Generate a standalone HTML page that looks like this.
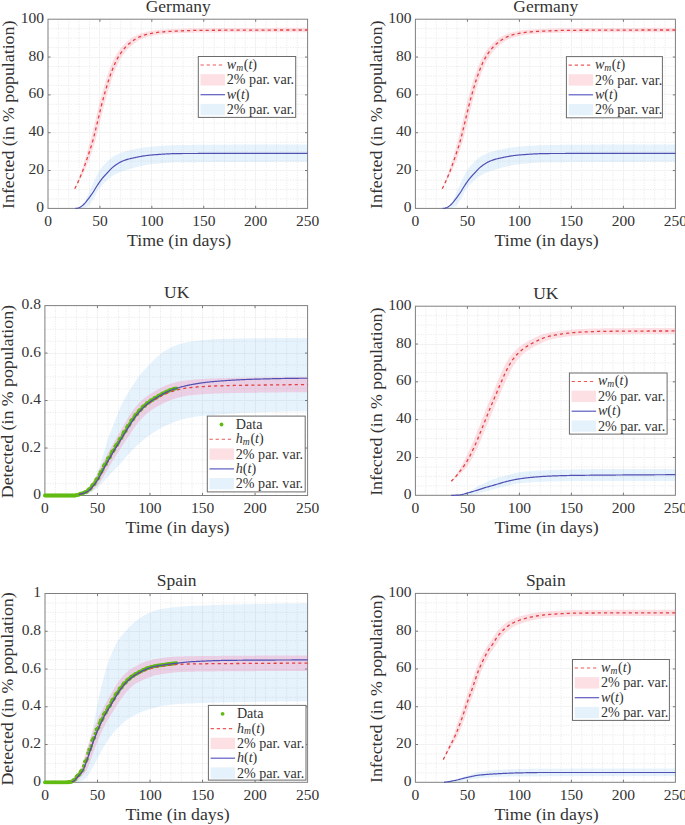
<!DOCTYPE html>
<html><head><meta charset="utf-8"><style>
html,body{margin:0;padding:0;background:#fff;overflow:hidden;width:685px;height:825px;}
svg{display:block;}
text{font-family:"Liberation Serif", serif;fill:#333333;}
</style></head><body>
<svg width="685" height="825" viewBox="0 0 685 825">
<rect width="685" height="825" fill="#fff"/>
<path d="M58.38,19.20 V208.40 M68.77,19.20 V208.40 M79.15,19.20 V208.40 M89.54,19.20 V208.40 M110.30,19.20 V208.40 M120.69,19.20 V208.40 M131.07,19.20 V208.40 M141.46,19.20 V208.40 M162.22,19.20 V208.40 M172.61,19.20 V208.40 M182.99,19.20 V208.40 M193.38,19.20 V208.40 M214.14,19.20 V208.40 M224.53,19.20 V208.40 M234.91,19.20 V208.40 M245.30,19.20 V208.40 M266.06,19.20 V208.40 M276.45,19.20 V208.40 M286.83,19.20 V208.40 M297.22,19.20 V208.40 M48.00,198.94 H307.60 M48.00,189.48 H307.60 M48.00,180.02 H307.60 M48.00,161.10 H307.60 M48.00,151.64 H307.60 M48.00,142.18 H307.60 M48.00,123.26 H307.60 M48.00,113.80 H307.60 M48.00,104.34 H307.60 M48.00,85.42 H307.60 M48.00,75.96 H307.60 M48.00,66.50 H307.60 M48.00,47.58 H307.60 M48.00,38.12 H307.60 M48.00,28.66 H307.60" stroke="#e9e9e9" stroke-width="0.9" stroke-dasharray="1.2,1.35" fill="none"/>
<path d="M99.50,19.20 V208.40 M151.50,19.20 V208.40 M203.50,19.20 V208.40 M255.50,19.20 V208.40 M48.00,170.50 H307.60 M48.00,132.50 H307.60 M48.00,94.50 H307.60 M48.00,57.50 H307.60" stroke="#f2f2f2" stroke-width="1" fill="none"/>
<path d="M99.92,208.40 v-2.6 M99.92,19.20 v2.6 M151.84,208.40 v-2.6 M151.84,19.20 v2.6 M203.76,208.40 v-2.6 M203.76,19.20 v2.6 M255.68,208.40 v-2.6 M255.68,19.20 v2.6 M48.00,170.56 h2.6 M307.60,170.56 h-2.6 M48.00,132.72 h2.6 M307.60,132.72 h-2.6 M48.00,94.88 h2.6 M307.60,94.88 h-2.6 M48.00,57.04 h2.6 M307.60,57.04 h-2.6" stroke="#777" stroke-width="1" fill="none"/>
<rect x="48.00" y="19.20" width="259.60" height="189.20" fill="none" stroke="#808080" stroke-width="1"/>
<path d="M76.04,208.40 L76.93,208.34 L77.82,208.17 L78.72,207.91 L79.61,207.57 L80.51,207.17 L81.40,206.72 L82.30,205.99 L83.19,204.78 L84.08,203.21 L84.98,201.40 L85.87,199.47 L86.77,197.53 L87.66,195.70 L88.55,193.80 L89.45,191.76 L90.34,189.64 L91.24,187.50 L92.13,185.38 L93.02,183.33 L93.92,181.39 L94.81,179.46 L95.71,177.54 L96.60,175.67 L97.49,173.91 L98.39,172.31 L99.28,170.89 L100.18,169.58 L101.07,168.35 L101.96,167.20 L102.86,166.12 L103.75,165.09 L104.65,164.13 L105.54,163.20 L106.44,162.29 L107.33,161.41 L108.22,160.55 L109.12,159.73 L110.01,158.95 L110.91,158.21 L111.80,157.52 L112.69,156.89 L113.59,156.33 L114.48,155.82 L115.38,155.35 L116.27,154.91 L117.16,154.49 L118.06,154.11 L118.95,153.74 L119.85,153.39 L120.74,153.05 L121.63,152.73 L122.53,152.41 L123.42,152.09 L124.32,151.78 L125.21,151.48 L126.10,151.20 L127.00,150.92 L127.89,150.66 L128.79,150.43 L129.68,150.21 L130.57,150.01 L131.47,149.81 L132.36,149.62 L133.26,149.44 L134.15,149.25 L135.05,149.08 L135.94,148.90 L136.83,148.73 L137.73,148.57 L138.62,148.41 L139.52,148.25 L140.41,148.10 L141.30,147.95 L142.20,147.81 L143.09,147.68 L143.99,147.55 L144.88,147.42 L145.77,147.31 L146.67,147.19 L147.56,147.09 L148.46,146.98 L149.35,146.89 L150.24,146.80 L151.14,146.72 L152.03,146.64 L152.93,146.56 L153.82,146.48 L154.71,146.41 L155.61,146.33 L156.50,146.26 L157.40,146.18 L158.29,146.11 L159.18,146.04 L160.08,145.97 L160.97,145.90 L161.87,145.84 L162.76,145.77 L163.66,145.71 L164.55,145.65 L165.44,145.59 L166.34,145.53 L167.23,145.48 L168.13,145.43 L169.02,145.38 L169.91,145.33 L170.81,145.29 L171.70,145.25 L172.60,145.21 L173.49,145.17 L174.38,145.14 L175.28,145.11 L176.17,145.09 L177.07,145.06 L177.96,145.05 L178.85,145.03 L179.75,145.02 L180.64,145.01 L181.54,145.00 L182.43,144.99 L183.32,144.98 L184.22,144.98 L185.11,144.97 L186.01,144.96 L186.90,144.95 L187.80,144.94 L188.69,144.93 L189.58,144.92 L190.48,144.92 L191.37,144.91 L192.27,144.90 L193.16,144.89 L194.05,144.89 L194.95,144.88 L195.84,144.87 L196.74,144.86 L197.63,144.86 L198.52,144.85 L199.42,144.84 L200.31,144.83 L201.21,144.83 L202.10,144.82 L202.99,144.81 L203.89,144.81 L204.78,144.80 L205.68,144.79 L206.57,144.79 L207.46,144.78 L208.36,144.77 L209.25,144.77 L210.15,144.76 L211.04,144.75 L211.93,144.75 L212.83,144.74 L213.72,144.73 L214.62,144.73 L215.51,144.72 L216.41,144.72 L217.30,144.71 L218.19,144.71 L219.09,144.70 L219.98,144.69 L220.88,144.69 L221.77,144.68 L222.66,144.68 L223.56,144.67 L224.45,144.67 L225.35,144.66 L226.24,144.66 L227.13,144.65 L228.03,144.65 L228.92,144.64 L229.82,144.64 L230.71,144.63 L231.60,144.63 L232.50,144.62 L233.39,144.62 L234.29,144.62 L235.18,144.61 L236.07,144.61 L236.97,144.60 L237.86,144.60 L238.76,144.59 L239.65,144.59 L240.55,144.59 L241.44,144.58 L242.33,144.58 L243.23,144.58 L244.12,144.57 L245.02,144.57 L245.91,144.56 L246.80,144.56 L247.70,144.56 L248.59,144.55 L249.49,144.55 L250.38,144.55 L251.27,144.54 L252.17,144.54 L253.06,144.54 L253.96,144.53 L254.85,144.53 L255.74,144.53 L256.64,144.53 L257.53,144.52 L258.43,144.52 L259.32,144.52 L260.21,144.52 L261.11,144.51 L262.00,144.51 L262.90,144.51 L263.79,144.51 L264.68,144.50 L265.58,144.50 L266.47,144.50 L267.37,144.50 L268.26,144.49 L269.16,144.49 L270.05,144.49 L270.94,144.49 L271.84,144.49 L272.73,144.48 L273.63,144.48 L274.52,144.48 L275.41,144.48 L276.31,144.48 L277.20,144.48 L278.10,144.47 L278.99,144.47 L279.88,144.47 L280.78,144.47 L281.67,144.47 L282.57,144.47 L283.46,144.47 L284.35,144.47 L285.25,144.46 L286.14,144.46 L287.04,144.46 L287.93,144.46 L288.82,144.46 L289.72,144.46 L290.61,144.46 L291.51,144.46 L292.40,144.46 L293.29,144.46 L294.19,144.46 L295.08,144.45 L295.98,144.45 L296.87,144.45 L297.77,144.45 L298.66,144.45 L299.55,144.45 L300.45,144.45 L301.34,144.45 L302.24,144.45 L303.13,144.45 L304.02,144.45 L304.92,144.45 L305.81,144.45 L306.71,144.45 L307.60,144.45 L307.60,161.86 L306.71,161.86 L305.81,161.86 L304.92,161.86 L304.02,161.86 L303.13,161.86 L302.24,161.86 L301.34,161.86 L300.45,161.86 L299.55,161.86 L298.66,161.86 L297.77,161.86 L296.87,161.86 L295.98,161.86 L295.08,161.86 L294.19,161.86 L293.29,161.86 L292.40,161.86 L291.51,161.86 L290.61,161.86 L289.72,161.86 L288.82,161.86 L287.93,161.86 L287.04,161.86 L286.14,161.86 L285.25,161.86 L284.35,161.87 L283.46,161.87 L282.57,161.87 L281.67,161.87 L280.78,161.87 L279.88,161.87 L278.99,161.87 L278.10,161.87 L277.20,161.87 L276.31,161.87 L275.41,161.87 L274.52,161.87 L273.63,161.88 L272.73,161.88 L271.84,161.88 L270.94,161.88 L270.05,161.88 L269.16,161.88 L268.26,161.88 L267.37,161.88 L266.47,161.89 L265.58,161.89 L264.68,161.89 L263.79,161.89 L262.90,161.89 L262.00,161.89 L261.11,161.89 L260.21,161.90 L259.32,161.90 L258.43,161.90 L257.53,161.90 L256.64,161.90 L255.74,161.90 L254.85,161.91 L253.96,161.91 L253.06,161.91 L252.17,161.91 L251.27,161.91 L250.38,161.92 L249.49,161.92 L248.59,161.92 L247.70,161.92 L246.80,161.93 L245.91,161.93 L245.02,161.93 L244.12,161.93 L243.23,161.93 L242.33,161.94 L241.44,161.94 L240.55,161.94 L239.65,161.94 L238.76,161.95 L237.86,161.95 L236.97,161.95 L236.07,161.96 L235.18,161.96 L234.29,161.96 L233.39,161.96 L232.50,161.97 L231.60,161.97 L230.71,161.97 L229.82,161.98 L228.92,161.98 L228.03,161.98 L227.13,161.99 L226.24,161.99 L225.35,161.99 L224.45,162.00 L223.56,162.00 L222.66,162.00 L221.77,162.01 L220.88,162.01 L219.98,162.01 L219.09,162.02 L218.19,162.02 L217.30,162.02 L216.41,162.03 L215.51,162.03 L214.62,162.04 L213.72,162.04 L212.83,162.04 L211.93,162.05 L211.04,162.05 L210.15,162.06 L209.25,162.06 L208.36,162.07 L207.46,162.07 L206.57,162.07 L205.68,162.08 L204.78,162.08 L203.89,162.09 L202.99,162.09 L202.10,162.10 L201.21,162.10 L200.31,162.11 L199.42,162.11 L198.52,162.12 L197.63,162.12 L196.74,162.13 L195.84,162.13 L194.95,162.14 L194.05,162.14 L193.16,162.15 L192.27,162.15 L191.37,162.16 L190.48,162.16 L189.58,162.17 L188.69,162.18 L187.80,162.18 L186.90,162.19 L186.01,162.19 L185.11,162.20 L184.22,162.21 L183.32,162.21 L182.43,162.22 L181.54,162.22 L180.64,162.23 L179.75,162.24 L178.85,162.25 L177.96,162.26 L177.07,162.28 L176.17,162.30 L175.28,162.33 L174.38,162.36 L173.49,162.40 L172.60,162.44 L171.70,162.49 L170.81,162.54 L169.91,162.59 L169.02,162.65 L168.13,162.71 L167.23,162.77 L166.34,162.84 L165.44,162.91 L164.55,162.98 L163.66,163.05 L162.76,163.13 L161.87,163.21 L160.97,163.29 L160.08,163.38 L159.18,163.46 L158.29,163.55 L157.40,163.64 L156.50,163.73 L155.61,163.83 L154.71,163.92 L153.82,164.02 L152.93,164.12 L152.03,164.21 L151.14,164.31 L150.24,164.42 L149.35,164.54 L148.46,164.66 L147.56,164.80 L146.67,164.95 L145.77,165.11 L144.88,165.28 L143.99,165.46 L143.09,165.64 L142.20,165.83 L141.30,166.03 L140.41,166.24 L139.52,166.44 L138.62,166.66 L137.73,166.88 L136.83,167.10 L135.94,167.33 L135.05,167.56 L134.15,167.79 L133.26,168.02 L132.36,168.25 L131.47,168.48 L130.57,168.72 L129.68,168.95 L128.79,169.19 L127.89,169.43 L127.00,169.69 L126.10,169.95 L125.21,170.23 L124.32,170.52 L123.42,170.82 L122.53,171.14 L121.63,171.47 L120.74,171.81 L119.85,172.17 L118.95,172.55 L118.06,172.94 L117.16,173.35 L116.27,173.79 L115.38,174.25 L114.48,174.73 L113.59,175.25 L112.69,175.80 L111.80,176.40 L110.91,177.04 L110.01,177.73 L109.12,178.44 L108.22,179.19 L107.33,179.97 L106.44,180.77 L105.54,181.60 L104.65,182.45 L103.75,183.33 L102.86,184.26 L101.96,185.25 L101.07,186.29 L100.18,187.39 L99.28,188.55 L98.39,189.82 L97.49,191.30 L96.60,192.94 L95.71,194.67 L94.81,196.42 L93.92,198.12 L93.02,199.71 L92.13,201.11 L91.24,202.35 L90.34,203.55 L89.45,204.68 L88.55,205.64 L87.66,206.38 L86.77,206.92 L85.87,207.41 L84.98,207.81 L84.08,208.10 L83.19,208.22 L82.30,208.26 L81.40,208.30 L80.51,208.33 L79.61,208.36 L78.72,208.37 L77.82,208.39 L76.93,208.40 L76.04,208.40 Z" fill="rgb(60,160,230)" fill-opacity="0.13" stroke="none"/>
<path d="M74.79,187.79 L75.69,185.95 L76.59,184.05 L77.49,181.90 L78.39,179.55 L79.29,177.11 L80.18,174.59 L81.08,171.98 L81.98,169.27 L82.88,166.46 L83.78,163.55 L84.68,160.55 L85.58,157.50 L86.48,154.42 L87.38,151.30 L88.27,148.12 L89.17,144.83 L90.07,141.73 L90.97,138.49 L91.87,134.96 L92.77,131.24 L93.67,127.46 L94.57,123.75 L95.46,119.99 L96.36,116.17 L97.26,112.34 L98.16,108.54 L99.06,104.82 L99.96,101.23 L100.86,97.79 L101.76,94.52 L102.66,91.36 L103.55,88.23 L104.45,85.08 L105.35,81.97 L106.25,79.01 L107.15,76.25 L108.05,73.62 L108.95,71.10 L109.85,68.70 L110.75,66.39 L111.64,64.15 L112.54,62.04 L113.44,60.07 L114.34,58.27 L115.24,56.58 L116.14,55.01 L117.04,53.52 L117.94,52.11 L118.84,50.77 L119.73,49.50 L120.63,48.31 L121.53,47.21 L122.43,46.15 L123.33,45.15 L124.23,44.21 L125.13,43.32 L126.03,42.48 L126.93,41.67 L127.82,40.91 L128.72,40.18 L129.62,39.48 L130.52,38.83 L131.42,38.20 L132.32,37.59 L133.22,37.00 L134.12,36.43 L135.02,35.91 L135.91,35.44 L136.81,35.03 L137.71,34.65 L138.61,34.28 L139.51,33.93 L140.41,33.59 L141.31,33.27 L142.21,32.97 L143.11,32.69 L144.00,32.43 L144.90,32.18 L145.80,31.96 L146.70,31.75 L147.60,31.57 L148.50,31.39 L149.40,31.22 L150.30,31.06 L151.20,30.90 L152.09,30.75 L152.99,30.61 L153.89,30.47 L154.79,30.34 L155.69,30.23 L156.59,30.12 L157.49,30.01 L158.39,29.92 L159.29,29.84 L160.18,29.77 L161.08,29.71 L161.98,29.65 L162.88,29.59 L163.78,29.53 L164.68,29.47 L165.58,29.41 L166.48,29.36 L167.38,29.30 L168.27,29.25 L169.17,29.20 L170.07,29.14 L170.97,29.09 L171.87,29.05 L172.77,29.00 L173.67,28.95 L174.57,28.91 L175.47,28.86 L176.36,28.82 L177.26,28.78 L178.16,28.74 L179.06,28.70 L179.96,28.66 L180.86,28.63 L181.76,28.59 L182.66,28.56 L183.55,28.53 L184.45,28.50 L185.35,28.47 L186.25,28.44 L187.15,28.42 L188.05,28.39 L188.95,28.37 L189.85,28.35 L190.75,28.33 L191.64,28.31 L192.54,28.29 L193.44,28.28 L194.34,28.26 L195.24,28.25 L196.14,28.24 L197.04,28.23 L197.94,28.23 L198.84,28.22 L199.73,28.21 L200.63,28.20 L201.53,28.20 L202.43,28.19 L203.33,28.19 L204.23,28.18 L205.13,28.17 L206.03,28.17 L206.93,28.16 L207.82,28.15 L208.72,28.15 L209.62,28.14 L210.52,28.14 L211.42,28.13 L212.32,28.12 L213.22,28.12 L214.12,28.11 L215.02,28.11 L215.91,28.10 L216.81,28.10 L217.71,28.09 L218.61,28.09 L219.51,28.08 L220.41,28.08 L221.31,28.07 L222.21,28.07 L223.11,28.06 L224.00,28.06 L224.90,28.05 L225.80,28.05 L226.70,28.04 L227.60,28.04 L228.50,28.03 L229.40,28.03 L230.30,28.02 L231.20,28.02 L232.09,28.01 L232.99,28.01 L233.89,28.01 L234.79,28.00 L235.69,28.00 L236.59,27.99 L237.49,27.99 L238.39,27.98 L239.29,27.98 L240.18,27.98 L241.08,27.97 L241.98,27.97 L242.88,27.97 L243.78,27.96 L244.68,27.96 L245.58,27.95 L246.48,27.95 L247.38,27.95 L248.27,27.94 L249.17,27.94 L250.07,27.94 L250.97,27.94 L251.87,27.93 L252.77,27.93 L253.67,27.93 L254.57,27.92 L255.47,27.92 L256.36,27.92 L257.26,27.91 L258.16,27.91 L259.06,27.91 L259.96,27.91 L260.86,27.90 L261.76,27.90 L262.66,27.90 L263.56,27.90 L264.45,27.89 L265.35,27.89 L266.25,27.89 L267.15,27.89 L268.05,27.89 L268.95,27.88 L269.85,27.88 L270.75,27.88 L271.64,27.88 L272.54,27.88 L273.44,27.87 L274.34,27.87 L275.24,27.87 L276.14,27.87 L277.04,27.87 L277.94,27.87 L278.84,27.86 L279.73,27.86 L280.63,27.86 L281.53,27.86 L282.43,27.86 L283.33,27.86 L284.23,27.86 L285.13,27.86 L286.03,27.85 L286.93,27.85 L287.82,27.85 L288.72,27.85 L289.62,27.85 L290.52,27.85 L291.42,27.85 L292.32,27.85 L293.22,27.85 L294.12,27.85 L295.02,27.85 L295.91,27.85 L296.81,27.85 L297.71,27.85 L298.61,27.84 L299.51,27.84 L300.41,27.84 L301.31,27.84 L302.21,27.84 L303.11,27.84 L304.00,27.84 L304.90,27.84 L305.80,27.84 L306.70,27.84 L307.60,27.84 L307.60,32.13 L306.70,32.13 L305.80,32.13 L304.90,32.13 L304.00,32.13 L303.11,32.13 L302.21,32.13 L301.31,32.13 L300.41,32.13 L299.51,32.13 L298.61,32.13 L297.71,32.13 L296.81,32.13 L295.91,32.13 L295.02,32.13 L294.12,32.13 L293.22,32.13 L292.32,32.13 L291.42,32.14 L290.52,32.14 L289.62,32.14 L288.72,32.14 L287.82,32.14 L286.93,32.14 L286.03,32.14 L285.13,32.14 L284.23,32.14 L283.33,32.15 L282.43,32.15 L281.53,32.15 L280.63,32.15 L279.73,32.15 L278.84,32.15 L277.94,32.16 L277.04,32.16 L276.14,32.16 L275.24,32.16 L274.34,32.16 L273.44,32.16 L272.54,32.17 L271.64,32.17 L270.75,32.17 L269.85,32.17 L268.95,32.18 L268.05,32.18 L267.15,32.18 L266.25,32.18 L265.35,32.18 L264.45,32.19 L263.56,32.19 L262.66,32.19 L261.76,32.19 L260.86,32.20 L259.96,32.20 L259.06,32.20 L258.16,32.21 L257.26,32.21 L256.36,32.21 L255.47,32.22 L254.57,32.22 L253.67,32.22 L252.77,32.22 L251.87,32.23 L250.97,32.23 L250.07,32.23 L249.17,32.24 L248.27,32.24 L247.38,32.24 L246.48,32.25 L245.58,32.25 L244.68,32.26 L243.78,32.26 L242.88,32.26 L241.98,32.27 L241.08,32.27 L240.18,32.28 L239.29,32.28 L238.39,32.28 L237.49,32.29 L236.59,32.29 L235.69,32.30 L234.79,32.30 L233.89,32.31 L232.99,32.31 L232.09,32.31 L231.20,32.32 L230.30,32.32 L229.40,32.33 L228.50,32.33 L227.60,32.34 L226.70,32.34 L225.80,32.35 L224.90,32.35 L224.00,32.36 L223.11,32.36 L222.21,32.37 L221.31,32.37 L220.41,32.38 L219.51,32.38 L218.61,32.39 L217.71,32.39 L216.81,32.40 L215.91,32.41 L215.02,32.41 L214.12,32.42 L213.22,32.42 L212.32,32.43 L211.42,32.44 L210.52,32.44 L209.62,32.45 L208.72,32.45 L207.82,32.46 L206.93,32.47 L206.03,32.47 L205.13,32.48 L204.23,32.49 L203.33,32.49 L202.43,32.50 L201.53,32.51 L200.63,32.51 L199.73,32.53 L198.84,32.54 L197.94,32.55 L197.04,32.57 L196.14,32.58 L195.24,32.60 L194.34,32.62 L193.44,32.64 L192.54,32.66 L191.64,32.69 L190.75,32.71 L189.85,32.74 L188.95,32.77 L188.05,32.80 L187.15,32.83 L186.25,32.86 L185.35,32.89 L184.45,32.93 L183.55,32.97 L182.66,33.00 L181.76,33.04 L180.86,33.08 L179.96,33.12 L179.06,33.17 L178.16,33.21 L177.26,33.26 L176.36,33.30 L175.47,33.35 L174.57,33.40 L173.67,33.45 L172.77,33.50 L171.87,33.55 L170.97,33.61 L170.07,33.66 L169.17,33.72 L168.27,33.77 L167.38,33.83 L166.48,33.89 L165.58,33.95 L164.68,34.01 L163.78,34.08 L162.88,34.16 L161.98,34.25 L161.08,34.35 L160.18,34.46 L159.29,34.58 L158.39,34.70 L157.49,34.83 L156.59,34.97 L155.69,35.12 L154.79,35.28 L153.89,35.44 L152.99,35.61 L152.09,35.78 L151.20,35.96 L150.30,36.16 L149.40,36.38 L148.50,36.62 L147.60,36.88 L146.70,37.15 L145.80,37.45 L144.90,37.76 L144.00,38.09 L143.11,38.43 L142.21,38.80 L141.31,39.17 L140.41,39.58 L139.51,40.04 L138.61,40.55 L137.71,41.11 L136.81,41.69 L135.91,42.29 L135.02,42.90 L134.12,43.54 L133.22,44.22 L132.32,44.94 L131.42,45.69 L130.52,46.48 L129.62,47.30 L128.72,48.17 L127.82,49.10 L126.93,50.08 L126.03,51.11 L125.13,52.20 L124.23,53.36 L123.33,54.61 L122.43,55.92 L121.53,57.31 L120.63,58.76 L119.73,60.31 L118.84,61.96 L117.94,63.73 L117.04,65.67 L116.14,67.75 L115.24,69.93 L114.34,72.19 L113.44,74.55 L112.54,77.01 L111.64,79.60 L110.75,82.30 L109.85,85.21 L108.95,88.26 L108.05,91.33 L107.15,94.38 L106.25,97.48 L105.35,100.68 L104.45,104.04 L103.55,107.57 L102.66,111.21 L101.76,114.93 L100.86,118.67 L99.96,122.40 L99.06,126.07 L98.16,129.69 L97.26,133.38 L96.36,137.01 L95.46,140.44 L94.57,143.58 L93.67,146.51 L92.77,149.31 L91.87,152.00 L90.97,154.63 L90.07,157.24 L89.17,159.79 L88.27,161.96 L87.38,164.09 L86.48,166.18 L85.58,168.21 L84.68,170.19 L83.78,172.12 L82.88,174.00 L81.98,175.83 L81.08,177.62 L80.18,179.36 L79.29,181.06 L78.39,182.72 L77.49,184.34 L76.59,185.90 L75.69,187.46 L74.79,188.96 Z" fill="rgb(248,150,165)" fill-opacity="0.3" stroke="none"/>
<path d="M75.31,208.40 L76.09,208.36 L76.86,208.24 L77.64,208.06 L78.42,207.83 L79.19,207.58 L79.97,207.29 L80.75,206.86 L81.53,206.30 L82.30,205.65 L83.08,204.95 L83.86,204.21 L84.63,203.45 L85.41,202.58 L86.19,201.63 L86.96,200.63 L87.74,199.61 L88.52,198.59 L89.29,197.57 L90.07,196.52 L90.85,195.45 L91.62,194.35 L92.40,193.22 L93.18,192.05 L93.96,190.82 L94.73,189.54 L95.51,188.24 L96.29,186.97 L97.06,185.75 L97.84,184.57 L98.62,183.42 L99.39,182.29 L100.17,181.19 L100.95,180.14 L101.72,179.14 L102.50,178.18 L103.28,177.26 L104.05,176.37 L104.83,175.50 L105.61,174.65 L106.39,173.81 L107.16,172.98 L107.94,172.14 L108.72,171.31 L109.49,170.48 L110.27,169.66 L111.05,168.88 L111.82,168.12 L112.60,167.41 L113.38,166.76 L114.15,166.16 L114.93,165.58 L115.71,165.02 L116.49,164.48 L117.26,163.96 L118.04,163.47 L118.82,162.99 L119.59,162.55 L120.37,162.12 L121.15,161.73 L121.92,161.37 L122.70,161.04 L123.48,160.73 L124.25,160.44 L125.03,160.16 L125.81,159.90 L126.58,159.65 L127.36,159.42 L128.14,159.19 L128.92,158.98 L129.69,158.78 L130.47,158.59 L131.25,158.41 L132.02,158.24 L132.80,158.06 L133.58,157.89 L134.35,157.72 L135.13,157.55 L135.91,157.39 L136.68,157.23 L137.46,157.07 L138.24,156.92 L139.01,156.76 L139.79,156.62 L140.57,156.48 L141.35,156.34 L142.12,156.20 L142.90,156.07 L143.68,155.95 L144.45,155.83 L145.23,155.72 L146.01,155.61 L146.78,155.51 L147.56,155.41 L148.34,155.32 L149.11,155.23 L149.89,155.15 L150.67,155.08 L151.45,155.02 L152.22,154.95 L153.00,154.89 L153.78,154.83 L154.55,154.77 L155.33,154.71 L156.11,154.65 L156.88,154.59 L157.66,154.53 L158.44,154.47 L159.21,154.42 L159.99,154.36 L160.77,154.31 L161.54,154.25 L162.32,154.20 L163.10,154.15 L163.88,154.10 L164.65,154.06 L165.43,154.01 L166.21,153.97 L166.98,153.93 L167.76,153.89 L168.54,153.85 L169.31,153.81 L170.09,153.78 L170.87,153.74 L171.64,153.71 L172.42,153.69 L173.20,153.66 L173.97,153.64 L174.75,153.61 L175.53,153.59 L176.31,153.58 L177.08,153.56 L177.86,153.55 L178.64,153.54 L179.41,153.54 L180.19,153.53 L180.97,153.53 L181.74,153.53 L182.52,153.52 L183.30,153.52 L184.07,153.52 L184.85,153.52 L185.63,153.51 L186.41,153.51 L187.18,153.51 L187.96,153.50 L188.74,153.50 L189.51,153.50 L190.29,153.50 L191.07,153.50 L191.84,153.49 L192.62,153.49 L193.40,153.49 L194.17,153.49 L194.95,153.48 L195.73,153.48 L196.50,153.48 L197.28,153.48 L198.06,153.47 L198.84,153.47 L199.61,153.47 L200.39,153.47 L201.17,153.47 L201.94,153.46 L202.72,153.46 L203.50,153.46 L204.27,153.46 L205.05,153.45 L205.83,153.45 L206.60,153.45 L207.38,153.45 L208.16,153.45 L208.93,153.45 L209.71,153.44 L210.49,153.44 L211.27,153.44 L212.04,153.44 L212.82,153.44 L213.60,153.43 L214.37,153.43 L215.15,153.43 L215.93,153.43 L216.70,153.43 L217.48,153.43 L218.26,153.42 L219.03,153.42 L219.81,153.42 L220.59,153.42 L221.37,153.42 L222.14,153.42 L222.92,153.41 L223.70,153.41 L224.47,153.41 L225.25,153.41 L226.03,153.41 L226.80,153.41 L227.58,153.41 L228.36,153.40 L229.13,153.40 L229.91,153.40 L230.69,153.40 L231.46,153.40 L232.24,153.40 L233.02,153.40 L233.80,153.39 L234.57,153.39 L235.35,153.39 L236.13,153.39 L236.90,153.39 L237.68,153.39 L238.46,153.39 L239.23,153.39 L240.01,153.39 L240.79,153.38 L241.56,153.38 L242.34,153.38 L243.12,153.38 L243.90,153.38 L244.67,153.38 L245.45,153.38 L246.23,153.38 L247.00,153.38 L247.78,153.38 L248.56,153.37 L249.33,153.37 L250.11,153.37 L250.89,153.37 L251.66,153.37 L252.44,153.37 L253.22,153.37 L253.99,153.37 L254.77,153.37 L255.55,153.37 L256.33,153.37 L257.10,153.36 L257.88,153.36 L258.66,153.36 L259.43,153.36 L260.21,153.36 L260.99,153.36 L261.76,153.36 L262.54,153.36 L263.32,153.36 L264.09,153.36 L264.87,153.36 L265.65,153.36 L266.42,153.36 L267.20,153.36 L267.98,153.36 L268.76,153.36 L269.53,153.35 L270.31,153.35 L271.09,153.35 L271.86,153.35 L272.64,153.35 L273.42,153.35 L274.19,153.35 L274.97,153.35 L275.75,153.35 L276.52,153.35 L277.30,153.35 L278.08,153.35 L278.86,153.35 L279.63,153.35 L280.41,153.35 L281.19,153.35 L281.96,153.35 L282.74,153.35 L283.52,153.35 L284.29,153.35 L285.07,153.35 L285.85,153.35 L286.62,153.35 L287.40,153.35 L288.18,153.35 L288.95,153.35 L289.73,153.35 L290.51,153.34 L291.29,153.34 L292.06,153.34 L292.84,153.34 L293.62,153.34 L294.39,153.34 L295.17,153.34 L295.95,153.34 L296.72,153.34 L297.50,153.34 L298.28,153.34 L299.05,153.34 L299.83,153.34 L300.61,153.34 L301.38,153.34 L302.16,153.34 L302.94,153.34 L303.72,153.34 L304.49,153.34 L305.27,153.34 L306.05,153.34 L306.82,153.34 L307.60,153.34" fill="none" stroke="#5050b4" stroke-width="1.2" stroke-linejoin="round"/>
<path d="M74.79,188.72 L75.57,187.17 L76.35,185.58 L77.13,183.94 L77.91,182.25 L78.68,180.52 L79.46,178.74 L80.24,176.92 L81.02,175.04 L81.80,173.12 L82.58,171.15 L83.36,169.13 L84.13,167.03 L84.91,164.87 L85.69,162.66 L86.47,160.41 L87.25,158.13 L88.03,155.83 L88.81,153.54 L89.58,151.23 L90.36,148.87 L91.14,146.44 L91.92,143.90 L92.70,141.24 L93.48,138.38 L94.26,135.31 L95.04,132.12 L95.81,128.88 L96.59,125.70 L97.37,122.50 L98.15,119.25 L98.93,115.97 L99.71,112.69 L100.49,109.45 L101.26,106.27 L102.04,103.17 L102.82,100.19 L103.60,97.34 L104.38,94.59 L105.16,91.90 L105.94,89.23 L106.71,86.53 L107.49,83.86 L108.27,81.29 L109.05,78.88 L109.83,76.58 L110.61,74.36 L111.39,72.24 L112.16,70.19 L112.94,68.22 L113.72,66.30 L114.50,64.45 L115.28,62.71 L116.06,61.10 L116.84,59.59 L117.62,58.17 L118.39,56.83 L119.17,55.55 L119.95,54.33 L120.73,53.16 L121.51,52.05 L122.29,50.99 L123.07,49.99 L123.84,49.05 L124.62,48.15 L125.40,47.29 L126.18,46.47 L126.96,45.68 L127.74,44.94 L128.52,44.23 L129.29,43.55 L130.07,42.90 L130.85,42.27 L131.63,41.67 L132.41,41.10 L133.19,40.55 L133.97,40.02 L134.74,39.50 L135.52,39.00 L136.30,38.51 L137.08,38.06 L137.86,37.65 L138.64,37.27 L139.42,36.94 L140.20,36.61 L140.97,36.30 L141.75,36.00 L142.53,35.71 L143.31,35.43 L144.09,35.17 L144.87,34.92 L145.65,34.69 L146.42,34.47 L147.20,34.26 L147.98,34.07 L148.76,33.89 L149.54,33.73 L150.32,33.58 L151.10,33.43 L151.87,33.28 L152.65,33.14 L153.43,33.01 L154.21,32.88 L154.99,32.75 L155.77,32.64 L156.55,32.52 L157.33,32.42 L158.10,32.32 L158.88,32.22 L159.66,32.14 L160.44,32.06 L161.22,31.99 L162.00,31.92 L162.78,31.87 L163.55,31.81 L164.33,31.76 L165.11,31.71 L165.89,31.66 L166.67,31.61 L167.45,31.56 L168.23,31.51 L169.00,31.46 L169.78,31.42 L170.56,31.37 L171.34,31.33 L172.12,31.28 L172.90,31.24 L173.68,31.20 L174.45,31.16 L175.23,31.11 L176.01,31.08 L176.79,31.04 L177.57,31.00 L178.35,30.96 L179.13,30.93 L179.91,30.89 L180.68,30.86 L181.46,30.83 L182.24,30.79 L183.02,30.76 L183.80,30.73 L184.58,30.71 L185.36,30.68 L186.13,30.65 L186.91,30.63 L187.69,30.60 L188.47,30.58 L189.25,30.56 L190.03,30.53 L190.81,30.51 L191.58,30.50 L192.36,30.48 L193.14,30.46 L193.92,30.44 L194.70,30.43 L195.48,30.42 L196.26,30.40 L197.04,30.39 L197.81,30.38 L198.59,30.38 L199.37,30.37 L200.15,30.36 L200.93,30.36 L201.71,30.35 L202.49,30.34 L203.26,30.34 L204.04,30.33 L204.82,30.33 L205.60,30.32 L206.38,30.32 L207.16,30.31 L207.94,30.31 L208.71,30.30 L209.49,30.30 L210.27,30.29 L211.05,30.29 L211.83,30.28 L212.61,30.27 L213.39,30.27 L214.16,30.27 L214.94,30.26 L215.72,30.26 L216.50,30.25 L217.28,30.25 L218.06,30.24 L218.84,30.24 L219.62,30.23 L220.39,30.23 L221.17,30.22 L221.95,30.22 L222.73,30.21 L223.51,30.21 L224.29,30.20 L225.07,30.20 L225.84,30.20 L226.62,30.19 L227.40,30.19 L228.18,30.18 L228.96,30.18 L229.74,30.18 L230.52,30.17 L231.29,30.17 L232.07,30.16 L232.85,30.16 L233.63,30.16 L234.41,30.15 L235.19,30.15 L235.97,30.14 L236.75,30.14 L237.52,30.14 L238.30,30.13 L239.08,30.13 L239.86,30.13 L240.64,30.12 L241.42,30.12 L242.20,30.12 L242.97,30.11 L243.75,30.11 L244.53,30.11 L245.31,30.10 L246.09,30.10 L246.87,30.10 L247.65,30.10 L248.42,30.09 L249.20,30.09 L249.98,30.09 L250.76,30.08 L251.54,30.08 L252.32,30.08 L253.10,30.08 L253.87,30.07 L254.65,30.07 L255.43,30.07 L256.21,30.06 L256.99,30.06 L257.77,30.06 L258.55,30.06 L259.33,30.06 L260.10,30.05 L260.88,30.05 L261.66,30.05 L262.44,30.05 L263.22,30.04 L264.00,30.04 L264.78,30.04 L265.55,30.04 L266.33,30.04 L267.11,30.03 L267.89,30.03 L268.67,30.03 L269.45,30.03 L270.23,30.03 L271.00,30.02 L271.78,30.02 L272.56,30.02 L273.34,30.02 L274.12,30.02 L274.90,30.02 L275.68,30.01 L276.45,30.01 L277.23,30.01 L278.01,30.01 L278.79,30.01 L279.57,30.01 L280.35,30.01 L281.13,30.01 L281.91,30.00 L282.68,30.00 L283.46,30.00 L284.24,30.00 L285.02,30.00 L285.80,30.00 L286.58,30.00 L287.36,30.00 L288.13,30.00 L288.91,29.99 L289.69,29.99 L290.47,29.99 L291.25,29.99 L292.03,29.99 L292.81,29.99 L293.58,29.99 L294.36,29.99 L295.14,29.99 L295.92,29.99 L296.70,29.99 L297.48,29.99 L298.26,29.99 L299.04,29.99 L299.81,29.99 L300.59,29.99 L301.37,29.99 L302.15,29.99 L302.93,29.99 L303.71,29.98 L304.49,29.98 L305.26,29.98 L306.04,29.98 L306.82,29.98 L307.60,29.98" fill="none" stroke="#e04242" stroke-width="1.3" stroke-dasharray="3.1,3.1" stroke-linejoin="round"/>
<text x="48.00" y="225.80" font-size="15.5" text-anchor="middle">0</text>
<text x="99.92" y="225.80" font-size="15.5" text-anchor="middle">50</text>
<text x="151.84" y="225.80" font-size="15.5" text-anchor="middle">100</text>
<text x="203.76" y="225.80" font-size="15.5" text-anchor="middle">150</text>
<text x="255.68" y="225.80" font-size="15.5" text-anchor="middle">200</text>
<text x="307.60" y="225.80" font-size="15.5" text-anchor="middle">250</text>
<text x="44.00" y="211.90" font-size="15.5" text-anchor="end">0</text>
<text x="44.00" y="174.06" font-size="15.5" text-anchor="end">20</text>
<text x="44.00" y="136.22" font-size="15.5" text-anchor="end">40</text>
<text x="44.00" y="98.38" font-size="15.5" text-anchor="end">60</text>
<text x="44.00" y="60.54" font-size="15.5" text-anchor="end">80</text>
<text x="44.00" y="22.70" font-size="15.5" text-anchor="end">100</text>
<text transform="translate(178.20,11.80) scale(1,0.92)" font-size="17.5" text-anchor="middle">Germany</text>
<text transform="translate(179.00,246.20) scale(1,0.92)" font-size="17.8" text-anchor="middle">Time (in days)</text>
<text transform="translate(13.90,114.80) rotate(-90) scale(1,0.92)" font-size="17.8" text-anchor="middle">Infected (in % population)</text>
<rect x="198.30" y="56.50" width="97.40" height="60.90" fill="#fff" stroke="#6b6b6b" stroke-width="1"/>
<path d="M200.50,65.00 H222.30" stroke="#ec5a5a" stroke-width="1.1" stroke-dasharray="3.3,2.8"/>
<text x="226.80" y="68.90" font-size="14.1"><tspan font-style="italic">w</tspan><tspan font-style="italic" font-size="9.6" dy="1.8">m</tspan><tspan dy="-1.8" dx="0.6">(</tspan><tspan font-style="italic">t</tspan>)</text>
<rect x="200.50" y="74.15" width="24.50" height="11.4" fill="#fde0e4"/>
<text x="226.80" y="84.45" font-size="14.1">2% par. var.</text>
<path d="M200.50,94.70 H225.00" stroke="#5c5cc0" stroke-width="1.2"/>
<text x="226.80" y="98.90" font-size="14.1"><tspan font-style="italic">w</tspan>(<tspan font-style="italic">t</tspan>)</text>
<rect x="200.50" y="103.85" width="24.50" height="11.4" fill="#e6f2fb"/>
<text x="226.80" y="114.15" font-size="14.1">2% par. var.</text>
<path d="M425.80,19.20 V208.40 M436.20,19.20 V208.40 M446.60,19.20 V208.40 M457.00,19.20 V208.40 M477.80,19.20 V208.40 M488.20,19.20 V208.40 M498.60,19.20 V208.40 M509.00,19.20 V208.40 M529.80,19.20 V208.40 M540.20,19.20 V208.40 M550.60,19.20 V208.40 M561.00,19.20 V208.40 M581.80,19.20 V208.40 M592.20,19.20 V208.40 M602.60,19.20 V208.40 M613.00,19.20 V208.40 M633.80,19.20 V208.40 M644.20,19.20 V208.40 M654.60,19.20 V208.40 M665.00,19.20 V208.40 M415.40,198.94 H675.40 M415.40,189.48 H675.40 M415.40,180.02 H675.40 M415.40,161.10 H675.40 M415.40,151.64 H675.40 M415.40,142.18 H675.40 M415.40,123.26 H675.40 M415.40,113.80 H675.40 M415.40,104.34 H675.40 M415.40,85.42 H675.40 M415.40,75.96 H675.40 M415.40,66.50 H675.40 M415.40,47.58 H675.40 M415.40,38.12 H675.40 M415.40,28.66 H675.40" stroke="#e9e9e9" stroke-width="0.9" stroke-dasharray="1.2,1.35" fill="none"/>
<path d="M467.50,19.20 V208.40 M519.50,19.20 V208.40 M571.50,19.20 V208.40 M623.50,19.20 V208.40 M415.40,170.50 H675.40 M415.40,132.50 H675.40 M415.40,94.50 H675.40 M415.40,57.50 H675.40" stroke="#f2f2f2" stroke-width="1" fill="none"/>
<path d="M467.40,208.40 v-2.6 M467.40,19.20 v2.6 M519.40,208.40 v-2.6 M519.40,19.20 v2.6 M571.40,208.40 v-2.6 M571.40,19.20 v2.6 M623.40,208.40 v-2.6 M623.40,19.20 v2.6 M415.40,170.56 h2.6 M675.40,170.56 h-2.6 M415.40,132.72 h2.6 M675.40,132.72 h-2.6 M415.40,94.88 h2.6 M675.40,94.88 h-2.6 M415.40,57.04 h2.6 M675.40,57.04 h-2.6" stroke="#777" stroke-width="1" fill="none"/>
<rect x="415.40" y="19.20" width="260.00" height="189.20" fill="none" stroke="#808080" stroke-width="1"/>
<path d="M443.48,208.40 L444.38,208.34 L445.27,208.17 L446.17,207.91 L447.06,207.57 L447.96,207.17 L448.85,206.72 L449.75,205.99 L450.64,204.78 L451.54,203.21 L452.43,201.40 L453.33,199.47 L454.23,197.53 L455.12,195.70 L456.02,193.80 L456.91,191.76 L457.81,189.64 L458.70,187.50 L459.60,185.38 L460.49,183.33 L461.39,181.39 L462.28,179.46 L463.18,177.54 L464.08,175.67 L464.97,173.91 L465.87,172.31 L466.76,170.89 L467.66,169.58 L468.55,168.35 L469.45,167.20 L470.34,166.12 L471.24,165.09 L472.13,164.13 L473.03,163.20 L473.93,162.29 L474.82,161.41 L475.72,160.55 L476.61,159.73 L477.51,158.95 L478.40,158.21 L479.30,157.52 L480.19,156.89 L481.09,156.33 L481.98,155.82 L482.88,155.35 L483.77,154.91 L484.67,154.49 L485.57,154.11 L486.46,153.74 L487.36,153.39 L488.25,153.05 L489.15,152.73 L490.04,152.41 L490.94,152.09 L491.83,151.78 L492.73,151.48 L493.62,151.20 L494.52,150.92 L495.42,150.66 L496.31,150.43 L497.21,150.21 L498.10,150.01 L499.00,149.81 L499.89,149.62 L500.79,149.44 L501.68,149.25 L502.58,149.08 L503.47,148.90 L504.37,148.73 L505.27,148.57 L506.16,148.41 L507.06,148.25 L507.95,148.10 L508.85,147.95 L509.74,147.81 L510.64,147.68 L511.53,147.55 L512.43,147.42 L513.32,147.31 L514.22,147.19 L515.12,147.09 L516.01,146.98 L516.91,146.89 L517.80,146.80 L518.70,146.72 L519.59,146.64 L520.49,146.56 L521.38,146.48 L522.28,146.41 L523.17,146.33 L524.07,146.26 L524.97,146.18 L525.86,146.11 L526.76,146.04 L527.65,145.97 L528.55,145.90 L529.44,145.84 L530.34,145.77 L531.23,145.71 L532.13,145.65 L533.02,145.59 L533.92,145.53 L534.82,145.48 L535.71,145.43 L536.61,145.38 L537.50,145.33 L538.40,145.29 L539.29,145.25 L540.19,145.21 L541.08,145.17 L541.98,145.14 L542.87,145.11 L543.77,145.09 L544.67,145.06 L545.56,145.05 L546.46,145.03 L547.35,145.02 L548.25,145.01 L549.14,145.00 L550.04,144.99 L550.93,144.98 L551.83,144.98 L552.72,144.97 L553.62,144.96 L554.52,144.95 L555.41,144.94 L556.31,144.93 L557.20,144.92 L558.10,144.92 L558.99,144.91 L559.89,144.90 L560.78,144.89 L561.68,144.89 L562.57,144.88 L563.47,144.87 L564.36,144.86 L565.26,144.86 L566.16,144.85 L567.05,144.84 L567.95,144.83 L568.84,144.83 L569.74,144.82 L570.63,144.81 L571.53,144.81 L572.42,144.80 L573.32,144.79 L574.21,144.79 L575.11,144.78 L576.01,144.77 L576.90,144.77 L577.80,144.76 L578.69,144.75 L579.59,144.75 L580.48,144.74 L581.38,144.73 L582.27,144.73 L583.17,144.72 L584.06,144.72 L584.96,144.71 L585.86,144.71 L586.75,144.70 L587.65,144.69 L588.54,144.69 L589.44,144.68 L590.33,144.68 L591.23,144.67 L592.12,144.67 L593.02,144.66 L593.91,144.66 L594.81,144.65 L595.71,144.65 L596.60,144.64 L597.50,144.64 L598.39,144.63 L599.29,144.63 L600.18,144.62 L601.08,144.62 L601.97,144.62 L602.87,144.61 L603.76,144.61 L604.66,144.60 L605.56,144.60 L606.45,144.59 L607.35,144.59 L608.24,144.59 L609.14,144.58 L610.03,144.58 L610.93,144.58 L611.82,144.57 L612.72,144.57 L613.61,144.56 L614.51,144.56 L615.41,144.56 L616.30,144.55 L617.20,144.55 L618.09,144.55 L618.99,144.54 L619.88,144.54 L620.78,144.54 L621.67,144.53 L622.57,144.53 L623.46,144.53 L624.36,144.53 L625.26,144.52 L626.15,144.52 L627.05,144.52 L627.94,144.52 L628.84,144.51 L629.73,144.51 L630.63,144.51 L631.52,144.51 L632.42,144.50 L633.31,144.50 L634.21,144.50 L635.11,144.50 L636.00,144.49 L636.90,144.49 L637.79,144.49 L638.69,144.49 L639.58,144.49 L640.48,144.48 L641.37,144.48 L642.27,144.48 L643.16,144.48 L644.06,144.48 L644.95,144.48 L645.85,144.47 L646.75,144.47 L647.64,144.47 L648.54,144.47 L649.43,144.47 L650.33,144.47 L651.22,144.47 L652.12,144.47 L653.01,144.46 L653.91,144.46 L654.80,144.46 L655.70,144.46 L656.60,144.46 L657.49,144.46 L658.39,144.46 L659.28,144.46 L660.18,144.46 L661.07,144.46 L661.97,144.46 L662.86,144.45 L663.76,144.45 L664.65,144.45 L665.55,144.45 L666.45,144.45 L667.34,144.45 L668.24,144.45 L669.13,144.45 L670.03,144.45 L670.92,144.45 L671.82,144.45 L672.71,144.45 L673.61,144.45 L674.50,144.45 L675.40,144.45 L675.40,161.86 L674.50,161.86 L673.61,161.86 L672.71,161.86 L671.82,161.86 L670.92,161.86 L670.03,161.86 L669.13,161.86 L668.24,161.86 L667.34,161.86 L666.45,161.86 L665.55,161.86 L664.65,161.86 L663.76,161.86 L662.86,161.86 L661.97,161.86 L661.07,161.86 L660.18,161.86 L659.28,161.86 L658.39,161.86 L657.49,161.86 L656.60,161.86 L655.70,161.86 L654.80,161.86 L653.91,161.86 L653.01,161.86 L652.12,161.87 L651.22,161.87 L650.33,161.87 L649.43,161.87 L648.54,161.87 L647.64,161.87 L646.75,161.87 L645.85,161.87 L644.95,161.87 L644.06,161.87 L643.16,161.87 L642.27,161.87 L641.37,161.88 L640.48,161.88 L639.58,161.88 L638.69,161.88 L637.79,161.88 L636.90,161.88 L636.00,161.88 L635.11,161.88 L634.21,161.89 L633.31,161.89 L632.42,161.89 L631.52,161.89 L630.63,161.89 L629.73,161.89 L628.84,161.89 L627.94,161.90 L627.05,161.90 L626.15,161.90 L625.26,161.90 L624.36,161.90 L623.46,161.90 L622.57,161.91 L621.67,161.91 L620.78,161.91 L619.88,161.91 L618.99,161.91 L618.09,161.92 L617.20,161.92 L616.30,161.92 L615.41,161.92 L614.51,161.93 L613.61,161.93 L612.72,161.93 L611.82,161.93 L610.93,161.93 L610.03,161.94 L609.14,161.94 L608.24,161.94 L607.35,161.94 L606.45,161.95 L605.56,161.95 L604.66,161.95 L603.76,161.96 L602.87,161.96 L601.97,161.96 L601.08,161.96 L600.18,161.97 L599.29,161.97 L598.39,161.97 L597.50,161.98 L596.60,161.98 L595.71,161.98 L594.81,161.99 L593.91,161.99 L593.02,161.99 L592.12,162.00 L591.23,162.00 L590.33,162.00 L589.44,162.01 L588.54,162.01 L587.65,162.01 L586.75,162.02 L585.86,162.02 L584.96,162.02 L584.06,162.03 L583.17,162.03 L582.27,162.04 L581.38,162.04 L580.48,162.04 L579.59,162.05 L578.69,162.05 L577.80,162.06 L576.90,162.06 L576.01,162.07 L575.11,162.07 L574.21,162.07 L573.32,162.08 L572.42,162.08 L571.53,162.09 L570.63,162.09 L569.74,162.10 L568.84,162.10 L567.95,162.11 L567.05,162.11 L566.16,162.12 L565.26,162.12 L564.36,162.13 L563.47,162.13 L562.57,162.14 L561.68,162.14 L560.78,162.15 L559.89,162.15 L558.99,162.16 L558.10,162.16 L557.20,162.17 L556.31,162.18 L555.41,162.18 L554.52,162.19 L553.62,162.19 L552.72,162.20 L551.83,162.21 L550.93,162.21 L550.04,162.22 L549.14,162.22 L548.25,162.23 L547.35,162.24 L546.46,162.25 L545.56,162.26 L544.67,162.28 L543.77,162.30 L542.87,162.33 L541.98,162.36 L541.08,162.40 L540.19,162.44 L539.29,162.49 L538.40,162.54 L537.50,162.59 L536.61,162.65 L535.71,162.71 L534.82,162.77 L533.92,162.84 L533.02,162.91 L532.13,162.98 L531.23,163.05 L530.34,163.13 L529.44,163.21 L528.55,163.29 L527.65,163.38 L526.76,163.46 L525.86,163.55 L524.97,163.64 L524.07,163.73 L523.17,163.83 L522.28,163.92 L521.38,164.02 L520.49,164.12 L519.59,164.21 L518.70,164.31 L517.80,164.42 L516.91,164.54 L516.01,164.66 L515.12,164.80 L514.22,164.95 L513.32,165.11 L512.43,165.28 L511.53,165.46 L510.64,165.64 L509.74,165.83 L508.85,166.03 L507.95,166.24 L507.06,166.44 L506.16,166.66 L505.27,166.88 L504.37,167.10 L503.47,167.33 L502.58,167.56 L501.68,167.79 L500.79,168.02 L499.89,168.25 L499.00,168.48 L498.10,168.72 L497.21,168.95 L496.31,169.19 L495.42,169.43 L494.52,169.69 L493.62,169.95 L492.73,170.23 L491.83,170.52 L490.94,170.82 L490.04,171.14 L489.15,171.47 L488.25,171.81 L487.36,172.17 L486.46,172.55 L485.57,172.94 L484.67,173.35 L483.77,173.79 L482.88,174.25 L481.98,174.73 L481.09,175.25 L480.19,175.80 L479.30,176.40 L478.40,177.04 L477.51,177.73 L476.61,178.44 L475.72,179.19 L474.82,179.97 L473.93,180.77 L473.03,181.60 L472.13,182.45 L471.24,183.33 L470.34,184.26 L469.45,185.25 L468.55,186.29 L467.66,187.39 L466.76,188.55 L465.87,189.82 L464.97,191.30 L464.08,192.94 L463.18,194.67 L462.28,196.42 L461.39,198.12 L460.49,199.71 L459.60,201.11 L458.70,202.35 L457.81,203.55 L456.91,204.68 L456.02,205.64 L455.12,206.38 L454.23,206.92 L453.33,207.41 L452.43,207.81 L451.54,208.10 L450.64,208.22 L449.75,208.26 L448.85,208.30 L447.96,208.33 L447.06,208.36 L446.17,208.37 L445.27,208.39 L444.38,208.40 L443.48,208.40 Z" fill="rgb(60,160,230)" fill-opacity="0.13" stroke="none"/>
<path d="M442.23,187.79 L443.13,185.95 L444.03,184.05 L444.93,181.90 L445.83,179.55 L446.73,177.11 L447.63,174.59 L448.53,171.98 L449.43,169.27 L450.33,166.46 L451.23,163.55 L452.13,160.55 L453.04,157.50 L453.94,154.42 L454.84,151.30 L455.74,148.12 L456.64,144.83 L457.54,141.73 L458.44,138.49 L459.34,134.96 L460.24,131.24 L461.14,127.46 L462.04,123.75 L462.94,119.99 L463.84,116.17 L464.74,112.34 L465.64,108.54 L466.54,104.82 L467.44,101.23 L468.34,97.79 L469.24,94.52 L470.14,91.36 L471.04,88.23 L471.94,85.08 L472.84,81.97 L473.74,79.01 L474.64,76.25 L475.54,73.62 L476.44,71.10 L477.34,68.70 L478.24,66.39 L479.14,64.15 L480.04,62.04 L480.94,60.07 L481.84,58.27 L482.74,56.58 L483.64,55.01 L484.54,53.52 L485.44,52.11 L486.34,50.77 L487.25,49.50 L488.15,48.31 L489.05,47.21 L489.95,46.15 L490.85,45.15 L491.75,44.21 L492.65,43.32 L493.55,42.48 L494.45,41.67 L495.35,40.91 L496.25,40.18 L497.15,39.48 L498.05,38.83 L498.95,38.20 L499.85,37.59 L500.75,37.00 L501.65,36.43 L502.55,35.91 L503.45,35.44 L504.35,35.03 L505.25,34.65 L506.15,34.28 L507.05,33.93 L507.95,33.59 L508.85,33.27 L509.75,32.97 L510.65,32.69 L511.55,32.43 L512.45,32.18 L513.35,31.96 L514.25,31.75 L515.15,31.57 L516.05,31.39 L516.95,31.22 L517.85,31.06 L518.75,30.90 L519.65,30.75 L520.55,30.61 L521.46,30.47 L522.36,30.34 L523.26,30.23 L524.16,30.12 L525.06,30.01 L525.96,29.92 L526.86,29.84 L527.76,29.77 L528.66,29.71 L529.56,29.65 L530.46,29.59 L531.36,29.53 L532.26,29.47 L533.16,29.41 L534.06,29.36 L534.96,29.30 L535.86,29.25 L536.76,29.20 L537.66,29.14 L538.56,29.09 L539.46,29.05 L540.36,29.00 L541.26,28.95 L542.16,28.91 L543.06,28.86 L543.96,28.82 L544.86,28.78 L545.76,28.74 L546.66,28.70 L547.56,28.66 L548.46,28.63 L549.36,28.59 L550.26,28.56 L551.16,28.53 L552.06,28.50 L552.96,28.47 L553.86,28.44 L554.76,28.42 L555.67,28.39 L556.57,28.37 L557.47,28.35 L558.37,28.33 L559.27,28.31 L560.17,28.29 L561.07,28.28 L561.97,28.26 L562.87,28.25 L563.77,28.24 L564.67,28.23 L565.57,28.23 L566.47,28.22 L567.37,28.21 L568.27,28.20 L569.17,28.20 L570.07,28.19 L570.97,28.19 L571.87,28.18 L572.77,28.17 L573.67,28.17 L574.57,28.16 L575.47,28.15 L576.37,28.15 L577.27,28.14 L578.17,28.14 L579.07,28.13 L579.97,28.12 L580.87,28.12 L581.77,28.11 L582.67,28.11 L583.57,28.10 L584.47,28.10 L585.37,28.09 L586.27,28.09 L587.17,28.08 L588.07,28.08 L588.97,28.07 L589.88,28.07 L590.78,28.06 L591.68,28.06 L592.58,28.05 L593.48,28.05 L594.38,28.04 L595.28,28.04 L596.18,28.03 L597.08,28.03 L597.98,28.02 L598.88,28.02 L599.78,28.01 L600.68,28.01 L601.58,28.01 L602.48,28.00 L603.38,28.00 L604.28,27.99 L605.18,27.99 L606.08,27.98 L606.98,27.98 L607.88,27.98 L608.78,27.97 L609.68,27.97 L610.58,27.97 L611.48,27.96 L612.38,27.96 L613.28,27.95 L614.18,27.95 L615.08,27.95 L615.98,27.94 L616.88,27.94 L617.78,27.94 L618.68,27.94 L619.58,27.93 L620.48,27.93 L621.38,27.93 L622.28,27.92 L623.18,27.92 L624.09,27.92 L624.99,27.91 L625.89,27.91 L626.79,27.91 L627.69,27.91 L628.59,27.90 L629.49,27.90 L630.39,27.90 L631.29,27.90 L632.19,27.89 L633.09,27.89 L633.99,27.89 L634.89,27.89 L635.79,27.89 L636.69,27.88 L637.59,27.88 L638.49,27.88 L639.39,27.88 L640.29,27.88 L641.19,27.87 L642.09,27.87 L642.99,27.87 L643.89,27.87 L644.79,27.87 L645.69,27.87 L646.59,27.86 L647.49,27.86 L648.39,27.86 L649.29,27.86 L650.19,27.86 L651.09,27.86 L651.99,27.86 L652.89,27.86 L653.79,27.85 L654.69,27.85 L655.59,27.85 L656.49,27.85 L657.39,27.85 L658.30,27.85 L659.20,27.85 L660.10,27.85 L661.00,27.85 L661.90,27.85 L662.80,27.85 L663.70,27.85 L664.60,27.85 L665.50,27.85 L666.40,27.84 L667.30,27.84 L668.20,27.84 L669.10,27.84 L670.00,27.84 L670.90,27.84 L671.80,27.84 L672.70,27.84 L673.60,27.84 L674.50,27.84 L675.40,27.84 L675.40,32.13 L674.50,32.13 L673.60,32.13 L672.70,32.13 L671.80,32.13 L670.90,32.13 L670.00,32.13 L669.10,32.13 L668.20,32.13 L667.30,32.13 L666.40,32.13 L665.50,32.13 L664.60,32.13 L663.70,32.13 L662.80,32.13 L661.90,32.13 L661.00,32.13 L660.10,32.13 L659.20,32.14 L658.30,32.14 L657.39,32.14 L656.49,32.14 L655.59,32.14 L654.69,32.14 L653.79,32.14 L652.89,32.14 L651.99,32.14 L651.09,32.15 L650.19,32.15 L649.29,32.15 L648.39,32.15 L647.49,32.15 L646.59,32.15 L645.69,32.16 L644.79,32.16 L643.89,32.16 L642.99,32.16 L642.09,32.16 L641.19,32.16 L640.29,32.17 L639.39,32.17 L638.49,32.17 L637.59,32.17 L636.69,32.18 L635.79,32.18 L634.89,32.18 L633.99,32.18 L633.09,32.18 L632.19,32.19 L631.29,32.19 L630.39,32.19 L629.49,32.19 L628.59,32.20 L627.69,32.20 L626.79,32.20 L625.89,32.21 L624.99,32.21 L624.09,32.21 L623.18,32.22 L622.28,32.22 L621.38,32.22 L620.48,32.22 L619.58,32.23 L618.68,32.23 L617.78,32.23 L616.88,32.24 L615.98,32.24 L615.08,32.24 L614.18,32.25 L613.28,32.25 L612.38,32.26 L611.48,32.26 L610.58,32.26 L609.68,32.27 L608.78,32.27 L607.88,32.28 L606.98,32.28 L606.08,32.28 L605.18,32.29 L604.28,32.29 L603.38,32.30 L602.48,32.30 L601.58,32.31 L600.68,32.31 L599.78,32.31 L598.88,32.32 L597.98,32.32 L597.08,32.33 L596.18,32.33 L595.28,32.34 L594.38,32.34 L593.48,32.35 L592.58,32.35 L591.68,32.36 L590.78,32.36 L589.88,32.37 L588.97,32.37 L588.07,32.38 L587.17,32.38 L586.27,32.39 L585.37,32.39 L584.47,32.40 L583.57,32.41 L582.67,32.41 L581.77,32.42 L580.87,32.42 L579.97,32.43 L579.07,32.44 L578.17,32.44 L577.27,32.45 L576.37,32.45 L575.47,32.46 L574.57,32.47 L573.67,32.47 L572.77,32.48 L571.87,32.49 L570.97,32.49 L570.07,32.50 L569.17,32.51 L568.27,32.51 L567.37,32.53 L566.47,32.54 L565.57,32.55 L564.67,32.57 L563.77,32.58 L562.87,32.60 L561.97,32.62 L561.07,32.64 L560.17,32.66 L559.27,32.69 L558.37,32.71 L557.47,32.74 L556.57,32.77 L555.67,32.80 L554.76,32.83 L553.86,32.86 L552.96,32.89 L552.06,32.93 L551.16,32.97 L550.26,33.00 L549.36,33.04 L548.46,33.08 L547.56,33.12 L546.66,33.17 L545.76,33.21 L544.86,33.26 L543.96,33.30 L543.06,33.35 L542.16,33.40 L541.26,33.45 L540.36,33.50 L539.46,33.55 L538.56,33.61 L537.66,33.66 L536.76,33.72 L535.86,33.77 L534.96,33.83 L534.06,33.89 L533.16,33.95 L532.26,34.01 L531.36,34.08 L530.46,34.16 L529.56,34.25 L528.66,34.35 L527.76,34.46 L526.86,34.58 L525.96,34.70 L525.06,34.83 L524.16,34.97 L523.26,35.12 L522.36,35.28 L521.46,35.44 L520.55,35.61 L519.65,35.78 L518.75,35.96 L517.85,36.16 L516.95,36.38 L516.05,36.62 L515.15,36.88 L514.25,37.15 L513.35,37.45 L512.45,37.76 L511.55,38.09 L510.65,38.43 L509.75,38.80 L508.85,39.17 L507.95,39.58 L507.05,40.04 L506.15,40.55 L505.25,41.11 L504.35,41.69 L503.45,42.29 L502.55,42.90 L501.65,43.54 L500.75,44.22 L499.85,44.94 L498.95,45.69 L498.05,46.48 L497.15,47.30 L496.25,48.17 L495.35,49.10 L494.45,50.08 L493.55,51.11 L492.65,52.20 L491.75,53.36 L490.85,54.61 L489.95,55.92 L489.05,57.31 L488.15,58.76 L487.25,60.31 L486.34,61.96 L485.44,63.73 L484.54,65.67 L483.64,67.75 L482.74,69.93 L481.84,72.19 L480.94,74.55 L480.04,77.01 L479.14,79.60 L478.24,82.30 L477.34,85.21 L476.44,88.26 L475.54,91.33 L474.64,94.38 L473.74,97.48 L472.84,100.68 L471.94,104.04 L471.04,107.57 L470.14,111.21 L469.24,114.93 L468.34,118.67 L467.44,122.40 L466.54,126.07 L465.64,129.69 L464.74,133.38 L463.84,137.01 L462.94,140.44 L462.04,143.58 L461.14,146.51 L460.24,149.31 L459.34,152.00 L458.44,154.63 L457.54,157.24 L456.64,159.79 L455.74,161.96 L454.84,164.09 L453.94,166.18 L453.04,168.21 L452.13,170.19 L451.23,172.12 L450.33,174.00 L449.43,175.83 L448.53,177.62 L447.63,179.36 L446.73,181.06 L445.83,182.72 L444.93,184.34 L444.03,185.90 L443.13,187.46 L442.23,188.96 Z" fill="rgb(248,150,165)" fill-opacity="0.3" stroke="none"/>
<path d="M442.75,208.40 L443.53,208.36 L444.31,208.24 L445.09,208.06 L445.86,207.83 L446.64,207.58 L447.42,207.29 L448.20,206.86 L448.98,206.30 L449.75,205.65 L450.53,204.95 L451.31,204.21 L452.09,203.45 L452.87,202.58 L453.65,201.63 L454.42,200.63 L455.20,199.61 L455.98,198.59 L456.76,197.57 L457.54,196.52 L458.31,195.45 L459.09,194.35 L459.87,193.22 L460.65,192.05 L461.43,190.82 L462.20,189.54 L462.98,188.24 L463.76,186.97 L464.54,185.75 L465.32,184.57 L466.09,183.42 L466.87,182.29 L467.65,181.19 L468.43,180.14 L469.21,179.14 L469.99,178.18 L470.76,177.26 L471.54,176.37 L472.32,175.50 L473.10,174.65 L473.88,173.81 L474.65,172.98 L475.43,172.14 L476.21,171.31 L476.99,170.48 L477.77,169.66 L478.54,168.88 L479.32,168.12 L480.10,167.41 L480.88,166.76 L481.66,166.16 L482.43,165.58 L483.21,165.02 L483.99,164.48 L484.77,163.96 L485.55,163.47 L486.32,162.99 L487.10,162.55 L487.88,162.12 L488.66,161.73 L489.44,161.37 L490.22,161.04 L490.99,160.73 L491.77,160.44 L492.55,160.16 L493.33,159.90 L494.11,159.65 L494.88,159.42 L495.66,159.19 L496.44,158.98 L497.22,158.78 L498.00,158.59 L498.77,158.41 L499.55,158.24 L500.33,158.06 L501.11,157.89 L501.89,157.72 L502.66,157.55 L503.44,157.39 L504.22,157.23 L505.00,157.07 L505.78,156.92 L506.56,156.76 L507.33,156.62 L508.11,156.48 L508.89,156.34 L509.67,156.20 L510.45,156.07 L511.22,155.95 L512.00,155.83 L512.78,155.72 L513.56,155.61 L514.34,155.51 L515.11,155.41 L515.89,155.32 L516.67,155.23 L517.45,155.15 L518.23,155.08 L519.00,155.02 L519.78,154.95 L520.56,154.89 L521.34,154.83 L522.12,154.77 L522.89,154.71 L523.67,154.65 L524.45,154.59 L525.23,154.53 L526.01,154.47 L526.79,154.42 L527.56,154.36 L528.34,154.31 L529.12,154.25 L529.90,154.20 L530.68,154.15 L531.45,154.10 L532.23,154.06 L533.01,154.01 L533.79,153.97 L534.57,153.93 L535.34,153.89 L536.12,153.85 L536.90,153.81 L537.68,153.78 L538.46,153.74 L539.23,153.71 L540.01,153.69 L540.79,153.66 L541.57,153.64 L542.35,153.61 L543.13,153.59 L543.90,153.58 L544.68,153.56 L545.46,153.55 L546.24,153.54 L547.02,153.54 L547.79,153.53 L548.57,153.53 L549.35,153.53 L550.13,153.52 L550.91,153.52 L551.68,153.52 L552.46,153.52 L553.24,153.51 L554.02,153.51 L554.80,153.51 L555.57,153.50 L556.35,153.50 L557.13,153.50 L557.91,153.50 L558.69,153.50 L559.47,153.49 L560.24,153.49 L561.02,153.49 L561.80,153.49 L562.58,153.48 L563.36,153.48 L564.13,153.48 L564.91,153.48 L565.69,153.47 L566.47,153.47 L567.25,153.47 L568.02,153.47 L568.80,153.47 L569.58,153.46 L570.36,153.46 L571.14,153.46 L571.91,153.46 L572.69,153.45 L573.47,153.45 L574.25,153.45 L575.03,153.45 L575.80,153.45 L576.58,153.45 L577.36,153.44 L578.14,153.44 L578.92,153.44 L579.70,153.44 L580.47,153.44 L581.25,153.43 L582.03,153.43 L582.81,153.43 L583.59,153.43 L584.36,153.43 L585.14,153.43 L585.92,153.42 L586.70,153.42 L587.48,153.42 L588.25,153.42 L589.03,153.42 L589.81,153.42 L590.59,153.41 L591.37,153.41 L592.14,153.41 L592.92,153.41 L593.70,153.41 L594.48,153.41 L595.26,153.41 L596.04,153.40 L596.81,153.40 L597.59,153.40 L598.37,153.40 L599.15,153.40 L599.93,153.40 L600.70,153.40 L601.48,153.39 L602.26,153.39 L603.04,153.39 L603.82,153.39 L604.59,153.39 L605.37,153.39 L606.15,153.39 L606.93,153.39 L607.71,153.39 L608.48,153.38 L609.26,153.38 L610.04,153.38 L610.82,153.38 L611.60,153.38 L612.37,153.38 L613.15,153.38 L613.93,153.38 L614.71,153.38 L615.49,153.38 L616.27,153.37 L617.04,153.37 L617.82,153.37 L618.60,153.37 L619.38,153.37 L620.16,153.37 L620.93,153.37 L621.71,153.37 L622.49,153.37 L623.27,153.37 L624.05,153.37 L624.82,153.36 L625.60,153.36 L626.38,153.36 L627.16,153.36 L627.94,153.36 L628.71,153.36 L629.49,153.36 L630.27,153.36 L631.05,153.36 L631.83,153.36 L632.61,153.36 L633.38,153.36 L634.16,153.36 L634.94,153.36 L635.72,153.36 L636.50,153.36 L637.27,153.35 L638.05,153.35 L638.83,153.35 L639.61,153.35 L640.39,153.35 L641.16,153.35 L641.94,153.35 L642.72,153.35 L643.50,153.35 L644.28,153.35 L645.05,153.35 L645.83,153.35 L646.61,153.35 L647.39,153.35 L648.17,153.35 L648.95,153.35 L649.72,153.35 L650.50,153.35 L651.28,153.35 L652.06,153.35 L652.84,153.35 L653.61,153.35 L654.39,153.35 L655.17,153.35 L655.95,153.35 L656.73,153.35 L657.50,153.35 L658.28,153.34 L659.06,153.34 L659.84,153.34 L660.62,153.34 L661.39,153.34 L662.17,153.34 L662.95,153.34 L663.73,153.34 L664.51,153.34 L665.28,153.34 L666.06,153.34 L666.84,153.34 L667.62,153.34 L668.40,153.34 L669.18,153.34 L669.95,153.34 L670.73,153.34 L671.51,153.34 L672.29,153.34 L673.07,153.34 L673.84,153.34 L674.62,153.34 L675.40,153.34" fill="none" stroke="#5050b4" stroke-width="1.2" stroke-linejoin="round"/>
<path d="M442.23,188.72 L443.01,187.17 L443.79,185.58 L444.57,183.94 L445.35,182.25 L446.13,180.52 L446.91,178.74 L447.69,176.92 L448.47,175.04 L449.25,173.12 L450.03,171.15 L450.81,169.13 L451.59,167.03 L452.37,164.87 L453.15,162.66 L453.93,160.41 L454.71,158.13 L455.49,155.83 L456.27,153.54 L457.05,151.23 L457.83,148.87 L458.61,146.44 L459.39,143.90 L460.17,141.24 L460.95,138.38 L461.73,135.31 L462.51,132.12 L463.29,128.88 L464.07,125.70 L464.85,122.50 L465.63,119.25 L466.41,115.97 L467.19,112.69 L467.97,109.45 L468.75,106.27 L469.53,103.17 L470.31,100.19 L471.09,97.34 L471.87,94.59 L472.65,91.90 L473.43,89.23 L474.20,86.53 L474.98,83.86 L475.76,81.29 L476.54,78.88 L477.32,76.58 L478.10,74.36 L478.88,72.24 L479.66,70.19 L480.44,68.22 L481.22,66.30 L482.00,64.45 L482.78,62.71 L483.56,61.10 L484.34,59.59 L485.12,58.17 L485.90,56.83 L486.68,55.55 L487.46,54.33 L488.24,53.16 L489.02,52.05 L489.80,50.99 L490.58,49.99 L491.36,49.05 L492.14,48.15 L492.92,47.29 L493.70,46.47 L494.48,45.68 L495.26,44.94 L496.04,44.23 L496.82,43.55 L497.60,42.90 L498.38,42.27 L499.16,41.67 L499.94,41.10 L500.72,40.55 L501.50,40.02 L502.28,39.50 L503.06,39.00 L503.84,38.51 L504.62,38.06 L505.40,37.65 L506.18,37.27 L506.96,36.94 L507.74,36.61 L508.52,36.30 L509.30,36.00 L510.08,35.71 L510.86,35.43 L511.64,35.17 L512.42,34.92 L513.20,34.69 L513.98,34.47 L514.76,34.26 L515.54,34.07 L516.32,33.89 L517.10,33.73 L517.88,33.58 L518.65,33.43 L519.43,33.28 L520.21,33.14 L520.99,33.01 L521.77,32.88 L522.55,32.75 L523.33,32.64 L524.11,32.52 L524.89,32.42 L525.67,32.32 L526.45,32.22 L527.23,32.14 L528.01,32.06 L528.79,31.99 L529.57,31.92 L530.35,31.87 L531.13,31.81 L531.91,31.76 L532.69,31.71 L533.47,31.66 L534.25,31.61 L535.03,31.56 L535.81,31.51 L536.59,31.46 L537.37,31.42 L538.15,31.37 L538.93,31.33 L539.71,31.28 L540.49,31.24 L541.27,31.20 L542.05,31.16 L542.83,31.11 L543.61,31.08 L544.39,31.04 L545.17,31.00 L545.95,30.96 L546.73,30.93 L547.51,30.89 L548.29,30.86 L549.07,30.83 L549.85,30.79 L550.63,30.76 L551.41,30.73 L552.19,30.71 L552.97,30.68 L553.75,30.65 L554.53,30.63 L555.31,30.60 L556.09,30.58 L556.87,30.56 L557.65,30.53 L558.43,30.51 L559.21,30.50 L559.99,30.48 L560.77,30.46 L561.55,30.44 L562.33,30.43 L563.11,30.42 L563.88,30.40 L564.66,30.39 L565.44,30.38 L566.22,30.38 L567.00,30.37 L567.78,30.36 L568.56,30.36 L569.34,30.35 L570.12,30.34 L570.90,30.34 L571.68,30.33 L572.46,30.33 L573.24,30.32 L574.02,30.32 L574.80,30.31 L575.58,30.31 L576.36,30.30 L577.14,30.30 L577.92,30.29 L578.70,30.29 L579.48,30.28 L580.26,30.27 L581.04,30.27 L581.82,30.27 L582.60,30.26 L583.38,30.26 L584.16,30.25 L584.94,30.25 L585.72,30.24 L586.50,30.24 L587.28,30.23 L588.06,30.23 L588.84,30.22 L589.62,30.22 L590.40,30.21 L591.18,30.21 L591.96,30.20 L592.74,30.20 L593.52,30.20 L594.30,30.19 L595.08,30.19 L595.86,30.18 L596.64,30.18 L597.42,30.18 L598.20,30.17 L598.98,30.17 L599.76,30.16 L600.54,30.16 L601.32,30.16 L602.10,30.15 L602.88,30.15 L603.66,30.14 L604.44,30.14 L605.22,30.14 L606.00,30.13 L606.78,30.13 L607.56,30.13 L608.33,30.12 L609.11,30.12 L609.89,30.12 L610.67,30.11 L611.45,30.11 L612.23,30.11 L613.01,30.10 L613.79,30.10 L614.57,30.10 L615.35,30.10 L616.13,30.09 L616.91,30.09 L617.69,30.09 L618.47,30.08 L619.25,30.08 L620.03,30.08 L620.81,30.08 L621.59,30.07 L622.37,30.07 L623.15,30.07 L623.93,30.06 L624.71,30.06 L625.49,30.06 L626.27,30.06 L627.05,30.06 L627.83,30.05 L628.61,30.05 L629.39,30.05 L630.17,30.05 L630.95,30.04 L631.73,30.04 L632.51,30.04 L633.29,30.04 L634.07,30.04 L634.85,30.03 L635.63,30.03 L636.41,30.03 L637.19,30.03 L637.97,30.03 L638.75,30.02 L639.53,30.02 L640.31,30.02 L641.09,30.02 L641.87,30.02 L642.65,30.02 L643.43,30.01 L644.21,30.01 L644.99,30.01 L645.77,30.01 L646.55,30.01 L647.33,30.01 L648.11,30.01 L648.89,30.01 L649.67,30.00 L650.45,30.00 L651.23,30.00 L652.01,30.00 L652.79,30.00 L653.56,30.00 L654.34,30.00 L655.12,30.00 L655.90,30.00 L656.68,29.99 L657.46,29.99 L658.24,29.99 L659.02,29.99 L659.80,29.99 L660.58,29.99 L661.36,29.99 L662.14,29.99 L662.92,29.99 L663.70,29.99 L664.48,29.99 L665.26,29.99 L666.04,29.99 L666.82,29.99 L667.60,29.99 L668.38,29.99 L669.16,29.99 L669.94,29.99 L670.72,29.99 L671.50,29.98 L672.28,29.98 L673.06,29.98 L673.84,29.98 L674.62,29.98 L675.40,29.98" fill="none" stroke="#e04242" stroke-width="1.3" stroke-dasharray="3.1,3.1" stroke-linejoin="round"/>
<text x="415.40" y="225.80" font-size="15.5" text-anchor="middle">0</text>
<text x="467.40" y="225.80" font-size="15.5" text-anchor="middle">50</text>
<text x="519.40" y="225.80" font-size="15.5" text-anchor="middle">100</text>
<text x="571.40" y="225.80" font-size="15.5" text-anchor="middle">150</text>
<text x="623.40" y="225.80" font-size="15.5" text-anchor="middle">200</text>
<text x="675.40" y="225.80" font-size="15.5" text-anchor="middle">250</text>
<text x="411.40" y="211.90" font-size="15.5" text-anchor="end">0</text>
<text x="411.40" y="174.06" font-size="15.5" text-anchor="end">20</text>
<text x="411.40" y="136.22" font-size="15.5" text-anchor="end">40</text>
<text x="411.40" y="98.38" font-size="15.5" text-anchor="end">60</text>
<text x="411.40" y="60.54" font-size="15.5" text-anchor="end">80</text>
<text x="411.40" y="22.70" font-size="15.5" text-anchor="end">100</text>
<text transform="translate(545.80,11.80) scale(1,0.92)" font-size="17.5" text-anchor="middle">Germany</text>
<text transform="translate(546.60,246.20) scale(1,0.92)" font-size="17.8" text-anchor="middle">Time (in days)</text>
<text transform="translate(381.60,114.80) rotate(-90) scale(1,0.92)" font-size="17.8" text-anchor="middle">Infected (in % population)</text>
<rect x="566.40" y="56.60" width="96.00" height="61.20" fill="#fff" stroke="#6b6b6b" stroke-width="1"/>
<path d="M568.60,65.10 H590.40" stroke="#ec5a5a" stroke-width="1.1" stroke-dasharray="3.3,2.8"/>
<text x="594.90" y="69.00" font-size="14.1"><tspan font-style="italic">w</tspan><tspan font-style="italic" font-size="9.6" dy="1.8">m</tspan><tspan dy="-1.8" dx="0.6">(</tspan><tspan font-style="italic">t</tspan>)</text>
<rect x="568.60" y="74.25" width="24.50" height="11.4" fill="#fde0e4"/>
<text x="594.90" y="84.55" font-size="14.1">2% par. var.</text>
<path d="M568.60,94.80 H593.10" stroke="#5c5cc0" stroke-width="1.2"/>
<text x="594.90" y="99.00" font-size="14.1"><tspan font-style="italic">w</tspan>(<tspan font-style="italic">t</tspan>)</text>
<rect x="568.60" y="103.95" width="24.50" height="11.4" fill="#e6f2fb"/>
<text x="594.90" y="114.25" font-size="14.1">2% par. var.</text>
<path d="M55.41,305.60 V495.50 M65.92,305.60 V495.50 M76.42,305.60 V495.50 M86.93,305.60 V495.50 M107.95,305.60 V495.50 M118.46,305.60 V495.50 M128.96,305.60 V495.50 M139.47,305.60 V495.50 M160.49,305.60 V495.50 M171.00,305.60 V495.50 M181.50,305.60 V495.50 M192.01,305.60 V495.50 M213.03,305.60 V495.50 M223.54,305.60 V495.50 M234.04,305.60 V495.50 M244.55,305.60 V495.50 M265.57,305.60 V495.50 M276.08,305.60 V495.50 M286.58,305.60 V495.50 M297.09,305.60 V495.50 M44.90,483.63 H307.60 M44.90,471.76 H307.60 M44.90,459.89 H307.60 M44.90,436.16 H307.60 M44.90,424.29 H307.60 M44.90,412.42 H307.60 M44.90,388.68 H307.60 M44.90,376.81 H307.60 M44.90,364.94 H307.60 M44.90,341.21 H307.60 M44.90,329.34 H307.60 M44.90,317.47 H307.60" stroke="#e9e9e9" stroke-width="0.9" stroke-dasharray="1.2,1.35" fill="none"/>
<path d="M97.50,305.60 V495.50 M149.50,305.60 V495.50 M202.50,305.60 V495.50 M255.50,305.60 V495.50 M44.90,448.50 H307.60 M44.90,400.50 H307.60 M44.90,353.50 H307.60" stroke="#f2f2f2" stroke-width="1" fill="none"/>
<path d="M97.44,495.50 v-2.6 M97.44,305.60 v2.6 M149.98,495.50 v-2.6 M149.98,305.60 v2.6 M202.52,495.50 v-2.6 M202.52,305.60 v2.6 M255.06,495.50 v-2.6 M255.06,305.60 v2.6 M44.90,448.02 h2.6 M307.60,448.02 h-2.6 M44.90,400.55 h2.6 M307.60,400.55 h-2.6 M44.90,353.08 h2.6 M307.60,353.08 h-2.6" stroke="#777" stroke-width="1" fill="none"/>
<rect x="44.90" y="305.60" width="262.70" height="189.90" fill="none" stroke="#808080" stroke-width="1"/>
<path d="M76.42,495.50 L77.32,495.44 L78.21,495.28 L79.10,495.05 L79.99,494.75 L80.89,494.40 L81.78,494.02 L82.67,493.63 L83.56,493.18 L84.46,492.61 L85.35,491.94 L86.24,491.17 L87.13,490.31 L88.03,489.36 L88.92,488.33 L89.81,487.22 L90.71,486.04 L91.60,484.79 L92.49,483.49 L93.38,481.95 L94.28,480.09 L95.17,477.99 L96.06,475.71 L96.95,473.33 L97.85,470.90 L98.74,468.48 L99.63,465.95 L100.52,463.29 L101.42,460.52 L102.31,457.69 L103.20,454.83 L104.09,451.89 L104.99,448.80 L105.88,445.68 L106.77,442.65 L107.66,439.86 L108.56,437.28 L109.45,434.82 L110.34,432.44 L111.23,430.14 L112.13,427.90 L113.02,425.68 L113.91,423.48 L114.80,421.26 L115.70,419.02 L116.59,416.73 L117.48,414.43 L118.37,412.15 L119.27,409.92 L120.16,407.78 L121.05,405.74 L121.95,403.85 L122.84,402.08 L123.73,400.38 L124.62,398.75 L125.52,397.17 L126.41,395.65 L127.30,394.16 L128.19,392.70 L129.09,391.26 L129.98,389.82 L130.87,388.39 L131.76,386.95 L132.66,385.53 L133.55,384.12 L134.44,382.73 L135.33,381.37 L136.23,380.05 L137.12,378.76 L138.01,377.52 L138.90,376.33 L139.80,375.19 L140.69,374.09 L141.58,373.04 L142.47,372.01 L143.37,371.02 L144.26,370.05 L145.15,369.09 L146.04,368.15 L146.94,367.22 L147.83,366.29 L148.72,365.36 L149.61,364.42 L150.51,363.48 L151.40,362.55 L152.29,361.62 L153.19,360.71 L154.08,359.81 L154.97,358.92 L155.86,358.06 L156.76,357.23 L157.65,356.42 L158.54,355.65 L159.43,354.92 L160.33,354.22 L161.22,353.54 L162.11,352.87 L163.00,352.22 L163.90,351.59 L164.79,350.97 L165.68,350.38 L166.57,349.81 L167.47,349.26 L168.36,348.74 L169.25,348.25 L170.14,347.79 L171.04,347.36 L171.93,346.95 L172.82,346.56 L173.71,346.18 L174.61,345.82 L175.50,345.48 L176.39,345.14 L177.28,344.83 L178.18,344.53 L179.07,344.25 L179.96,343.99 L180.85,343.75 L181.75,343.52 L182.64,343.30 L183.53,343.10 L184.43,342.89 L185.32,342.70 L186.21,342.50 L187.10,342.32 L188.00,342.14 L188.89,341.97 L189.78,341.81 L190.67,341.65 L191.57,341.50 L192.46,341.36 L193.35,341.23 L194.24,341.10 L195.14,340.98 L196.03,340.87 L196.92,340.77 L197.81,340.67 L198.71,340.58 L199.60,340.49 L200.49,340.39 L201.38,340.30 L202.28,340.22 L203.17,340.13 L204.06,340.05 L204.95,339.96 L205.85,339.88 L206.74,339.80 L207.63,339.73 L208.52,339.65 L209.42,339.58 L210.31,339.51 L211.20,339.44 L212.09,339.38 L212.99,339.32 L213.88,339.26 L214.77,339.20 L215.67,339.15 L216.56,339.10 L217.45,339.06 L218.34,339.01 L219.24,338.97 L220.13,338.94 L221.02,338.90 L221.91,338.88 L222.81,338.85 L223.70,338.83 L224.59,338.81 L225.48,338.79 L226.38,338.77 L227.27,338.75 L228.16,338.73 L229.05,338.71 L229.95,338.69 L230.84,338.68 L231.73,338.66 L232.62,338.64 L233.52,338.62 L234.41,338.60 L235.30,338.59 L236.19,338.57 L237.09,338.55 L237.98,338.54 L238.87,338.52 L239.76,338.50 L240.66,338.49 L241.55,338.47 L242.44,338.46 L243.33,338.44 L244.23,338.42 L245.12,338.41 L246.01,338.40 L246.91,338.38 L247.80,338.37 L248.69,338.35 L249.58,338.34 L250.48,338.32 L251.37,338.31 L252.26,338.30 L253.15,338.28 L254.05,338.27 L254.94,338.26 L255.83,338.25 L256.72,338.23 L257.62,338.22 L258.51,338.21 L259.40,338.20 L260.29,338.19 L261.19,338.17 L262.08,338.16 L262.97,338.15 L263.86,338.14 L264.76,338.13 L265.65,338.12 L266.54,338.11 L267.43,338.10 L268.33,338.09 L269.22,338.08 L270.11,338.07 L271.00,338.06 L271.90,338.06 L272.79,338.05 L273.68,338.04 L274.57,338.03 L275.47,338.02 L276.36,338.02 L277.25,338.01 L278.15,338.00 L279.04,337.99 L279.93,337.99 L280.82,337.98 L281.72,337.97 L282.61,337.97 L283.50,337.96 L284.39,337.96 L285.29,337.95 L286.18,337.95 L287.07,337.94 L287.96,337.94 L288.86,337.93 L289.75,337.93 L290.64,337.92 L291.53,337.92 L292.43,337.91 L293.32,337.91 L294.21,337.91 L295.10,337.90 L296.00,337.90 L296.89,337.90 L297.78,337.90 L298.67,337.89 L299.57,337.89 L300.46,337.89 L301.35,337.89 L302.24,337.89 L303.14,337.89 L304.03,337.88 L304.92,337.88 L305.81,337.88 L306.71,337.88 L307.60,337.88 L307.60,411.23 L306.71,411.23 L305.81,411.24 L304.92,411.24 L304.03,411.24 L303.14,411.25 L302.24,411.25 L301.35,411.26 L300.46,411.27 L299.57,411.28 L298.67,411.29 L297.78,411.30 L296.89,411.31 L296.00,411.32 L295.10,411.33 L294.21,411.35 L293.32,411.36 L292.43,411.38 L291.53,411.39 L290.64,411.41 L289.75,411.42 L288.86,411.44 L287.96,411.46 L287.07,411.48 L286.18,411.50 L285.29,411.52 L284.39,411.54 L283.50,411.56 L282.61,411.58 L281.72,411.60 L280.82,411.62 L279.93,411.65 L279.04,411.67 L278.15,411.70 L277.25,411.72 L276.36,411.74 L275.47,411.77 L274.57,411.80 L273.68,411.82 L272.79,411.85 L271.90,411.87 L271.00,411.90 L270.11,411.93 L269.22,411.96 L268.33,411.98 L267.43,412.01 L266.54,412.04 L265.65,412.07 L264.76,412.10 L263.86,412.13 L262.97,412.16 L262.08,412.18 L261.19,412.21 L260.29,412.24 L259.40,412.27 L258.51,412.30 L257.62,412.33 L256.72,412.36 L255.83,412.39 L254.94,412.42 L254.05,412.45 L253.15,412.49 L252.26,412.52 L251.37,412.56 L250.48,412.59 L249.58,412.63 L248.69,412.67 L247.80,412.71 L246.91,412.75 L246.01,412.80 L245.12,412.84 L244.23,412.89 L243.33,412.93 L242.44,412.98 L241.55,413.03 L240.66,413.08 L239.76,413.13 L238.87,413.18 L237.98,413.24 L237.09,413.29 L236.19,413.35 L235.30,413.40 L234.41,413.46 L233.52,413.52 L232.62,413.58 L231.73,413.64 L230.84,413.70 L229.95,413.76 L229.05,413.82 L228.16,413.88 L227.27,413.94 L226.38,414.01 L225.48,414.07 L224.59,414.14 L223.70,414.20 L222.81,414.27 L221.91,414.33 L221.02,414.40 L220.13,414.47 L219.24,414.54 L218.34,414.60 L217.45,414.67 L216.56,414.74 L215.67,414.81 L214.77,414.88 L213.88,414.95 L212.99,415.02 L212.09,415.09 L211.20,415.15 L210.31,415.22 L209.42,415.29 L208.52,415.36 L207.63,415.43 L206.74,415.50 L205.85,415.57 L204.95,415.64 L204.06,415.71 L203.17,415.79 L202.28,415.87 L201.38,415.95 L200.49,416.04 L199.60,416.13 L198.71,416.23 L197.81,416.34 L196.92,416.46 L196.03,416.59 L195.14,416.73 L194.24,416.88 L193.35,417.03 L192.46,417.19 L191.57,417.36 L190.67,417.53 L189.78,417.71 L188.89,417.89 L188.00,418.08 L187.10,418.28 L186.21,418.48 L185.32,418.68 L184.43,418.89 L183.53,419.12 L182.64,419.35 L181.75,419.59 L180.85,419.85 L179.96,420.11 L179.07,420.38 L178.18,420.67 L177.28,420.96 L176.39,421.26 L175.50,421.56 L174.61,421.88 L173.71,422.20 L172.82,422.53 L171.93,422.87 L171.04,423.23 L170.14,423.61 L169.25,424.00 L168.36,424.40 L167.47,424.82 L166.57,425.25 L165.68,425.70 L164.79,426.15 L163.90,426.61 L163.00,427.08 L162.11,427.56 L161.22,428.05 L160.33,428.54 L159.43,429.04 L158.54,429.54 L157.65,430.05 L156.76,430.58 L155.86,431.11 L154.97,431.66 L154.08,432.21 L153.19,432.78 L152.29,433.36 L151.40,433.95 L150.51,434.56 L149.61,435.18 L148.72,435.81 L147.83,436.45 L146.94,437.11 L146.04,437.78 L145.15,438.47 L144.26,439.18 L143.37,439.91 L142.47,440.66 L141.58,441.43 L140.69,442.21 L139.80,443.02 L138.90,443.83 L138.01,444.66 L137.12,445.50 L136.23,446.35 L135.33,447.22 L134.44,448.09 L133.55,448.97 L132.66,449.86 L131.76,450.77 L130.87,451.71 L129.98,452.68 L129.09,453.66 L128.19,454.66 L127.30,455.67 L126.41,456.70 L125.52,457.72 L124.62,458.75 L123.73,459.78 L122.84,460.80 L121.95,461.81 L121.05,462.81 L120.16,463.79 L119.27,464.76 L118.37,465.71 L117.48,466.66 L116.59,467.61 L115.70,468.55 L114.80,469.49 L113.91,470.43 L113.02,471.37 L112.13,472.32 L111.23,473.27 L110.34,474.22 L109.45,475.19 L108.56,476.16 L107.66,477.17 L106.77,478.19 L105.88,479.22 L104.99,480.24 L104.09,481.25 L103.20,482.23 L102.31,483.17 L101.42,484.07 L100.52,484.96 L99.63,485.84 L98.74,486.70 L97.85,487.54 L96.95,488.34 L96.06,489.09 L95.17,489.79 L94.28,490.43 L93.38,491.07 L92.49,491.71 L91.60,492.34 L90.71,492.92 L89.81,493.46 L88.92,493.91 L88.03,494.27 L87.13,494.51 L86.24,494.66 L85.35,494.79 L84.46,494.92 L83.56,495.03 L82.67,495.14 L81.78,495.23 L80.89,495.31 L79.99,495.38 L79.10,495.43 L78.21,495.47 L77.32,495.49 L76.42,495.50 Z" fill="rgb(60,160,230)" fill-opacity="0.13" stroke="none"/>
<path d="M44.90,495.50 L45.91,495.50 L46.93,495.50 L47.94,495.50 L48.96,495.50 L49.97,495.50 L50.99,495.50 L52.00,495.50 L53.01,495.50 L54.03,495.50 L55.04,495.50 L56.06,495.50 L57.07,495.50 L58.09,495.50 L59.10,495.50 L60.11,495.50 L61.13,495.50 L62.14,495.50 L63.16,495.50 L64.17,495.50 L65.19,495.50 L66.20,495.50 L67.21,495.50 L68.23,495.50 L69.24,495.50 L70.26,495.50 L71.27,495.50 L72.29,495.50 L73.30,495.50 L74.31,495.32 L75.33,494.91 L76.34,494.44 L77.36,494.05 L78.37,493.71 L79.39,493.38 L80.40,493.04 L81.41,492.68 L82.43,492.27 L83.44,491.79 L84.46,491.22 L85.47,490.47 L86.49,489.53 L87.50,488.44 L88.51,487.24 L89.53,485.97 L90.54,484.64 L91.56,483.30 L92.57,481.86 L93.59,480.27 L94.60,478.58 L95.61,476.81 L96.63,474.97 L97.64,472.98 L98.66,470.84 L99.67,468.67 L100.69,466.58 L101.70,464.61 L102.71,462.69 L103.73,460.81 L104.74,458.94 L105.76,457.07 L106.77,455.19 L107.79,453.31 L108.80,451.45 L109.81,449.59 L110.83,447.77 L111.84,445.96 L112.86,444.18 L113.87,442.40 L114.89,440.62 L115.90,438.85 L116.91,437.10 L117.93,435.34 L118.94,433.57 L119.96,431.79 L120.97,429.99 L121.99,428.19 L123.00,426.40 L124.01,424.64 L125.03,422.87 L126.04,421.13 L127.06,419.41 L128.07,417.75 L129.09,416.10 L130.10,414.48 L131.11,412.93 L132.13,411.46 L133.14,410.09 L134.16,408.79 L135.17,407.54 L136.19,406.34 L137.20,405.19 L138.21,404.06 L139.23,402.96 L140.24,401.90 L141.26,400.90 L142.27,399.96 L143.29,399.08 L144.30,398.26 L145.31,397.48 L146.33,396.74 L147.34,396.01 L148.36,395.30 L149.37,394.61 L150.39,393.94 L151.40,393.29 L152.41,392.65 L153.43,392.02 L154.44,391.40 L155.46,390.78 L156.47,390.17 L157.49,389.57 L158.50,388.99 L159.51,388.43 L160.53,387.90 L161.54,387.40 L162.56,386.93 L163.57,386.47 L164.59,386.03 L165.60,385.62 L166.61,385.22 L167.63,384.84 L168.64,384.47 L169.66,384.13 L170.67,383.79 L171.69,383.47 L172.70,383.16 L173.71,382.86 L174.73,382.57 L175.74,382.30 L176.76,382.05 L177.77,381.82 L178.79,381.59 L179.80,381.37 L180.81,381.16 L181.83,380.97 L182.84,380.80 L183.86,380.66 L184.87,380.54 L185.89,380.43 L186.90,380.31 L187.91,380.20 L188.93,380.09 L189.94,379.99 L190.96,379.89 L191.97,379.80 L192.99,379.70 L194.00,379.61 L195.01,379.53 L196.03,379.44 L197.04,379.36 L198.06,379.29 L199.07,379.21 L200.09,379.14 L201.10,379.08 L202.11,379.01 L203.13,378.95 L204.14,378.90 L205.16,378.84 L206.17,378.79 L207.19,378.74 L208.20,378.70 L209.21,378.65 L210.23,378.62 L211.24,378.58 L212.26,378.54 L213.27,378.50 L214.29,378.47 L215.30,378.43 L216.31,378.40 L217.33,378.37 L218.34,378.33 L219.36,378.30 L220.37,378.27 L221.39,378.24 L222.40,378.21 L223.41,378.18 L224.43,378.16 L225.44,378.13 L226.46,378.10 L227.47,378.08 L228.49,378.05 L229.50,378.03 L230.51,378.00 L231.53,377.98 L232.54,377.96 L233.56,377.93 L234.57,377.91 L235.59,377.89 L236.60,377.87 L237.61,377.85 L238.63,377.83 L239.64,377.81 L240.66,377.79 L241.67,377.78 L242.69,377.76 L243.70,377.74 L244.71,377.72 L245.73,377.71 L246.74,377.69 L247.76,377.68 L248.77,377.66 L249.79,377.65 L250.80,377.63 L251.81,377.62 L252.83,377.60 L253.84,377.59 L254.86,377.57 L255.87,377.56 L256.89,377.55 L257.90,377.53 L258.91,377.52 L259.93,377.50 L260.94,377.49 L261.96,377.48 L262.97,377.46 L263.99,377.45 L265.00,377.44 L266.01,377.42 L267.03,377.41 L268.04,377.40 L269.06,377.39 L270.07,377.37 L271.09,377.36 L272.10,377.35 L273.11,377.34 L274.13,377.32 L275.14,377.31 L276.16,377.30 L277.17,377.29 L278.19,377.28 L279.20,377.27 L280.21,377.26 L281.23,377.25 L282.24,377.24 L283.26,377.23 L284.27,377.22 L285.29,377.21 L286.30,377.20 L287.31,377.19 L288.33,377.19 L289.34,377.18 L290.36,377.17 L291.37,377.16 L292.39,377.16 L293.40,377.15 L294.41,377.15 L295.43,377.14 L296.44,377.13 L297.46,377.13 L298.47,377.13 L299.49,377.12 L300.50,377.12 L301.51,377.11 L302.53,377.11 L303.54,377.11 L304.56,377.11 L305.57,377.11 L306.59,377.11 L307.60,377.11 L307.60,392.19 L306.59,392.19 L305.57,392.20 L304.56,392.20 L303.54,392.20 L302.53,392.21 L301.51,392.21 L300.50,392.22 L299.49,392.22 L298.47,392.23 L297.46,392.23 L296.44,392.24 L295.43,392.25 L294.41,392.25 L293.40,392.26 L292.39,392.27 L291.37,392.28 L290.36,392.28 L289.34,392.29 L288.33,392.30 L287.31,392.31 L286.30,392.32 L285.29,392.33 L284.27,392.34 L283.26,392.35 L282.24,392.36 L281.23,392.37 L280.21,392.38 L279.20,392.39 L278.19,392.40 L277.17,392.41 L276.16,392.42 L275.14,392.43 L274.13,392.44 L273.11,392.45 L272.10,392.46 L271.09,392.47 L270.07,392.48 L269.06,392.50 L268.04,392.51 L267.03,392.52 L266.01,392.53 L265.00,392.54 L263.99,392.56 L262.97,392.57 L261.96,392.58 L260.94,392.59 L259.93,392.61 L258.91,392.62 L257.90,392.63 L256.89,392.64 L255.87,392.66 L254.86,392.67 L253.84,392.68 L252.83,392.70 L251.81,392.71 L250.80,392.72 L249.79,392.74 L248.77,392.75 L247.76,392.77 L246.74,392.79 L245.73,392.80 L244.71,392.82 L243.70,392.84 L242.69,392.85 L241.67,392.87 L240.66,392.89 L239.64,392.91 L238.63,392.93 L237.61,392.95 L236.60,392.97 L235.59,392.99 L234.57,393.01 L233.56,393.03 L232.54,393.06 L231.53,393.08 L230.51,393.10 L229.50,393.13 L228.49,393.15 L227.47,393.18 L226.46,393.20 L225.44,393.23 L224.43,393.26 L223.41,393.29 L222.40,393.32 L221.39,393.35 L220.37,393.38 L219.36,393.41 L218.34,393.44 L217.33,393.47 L216.31,393.51 L215.30,393.54 L214.29,393.58 L213.27,393.62 L212.26,393.66 L211.24,393.71 L210.23,393.76 L209.21,393.81 L208.20,393.86 L207.19,393.92 L206.17,393.97 L205.16,394.04 L204.14,394.10 L203.13,394.17 L202.11,394.24 L201.10,394.31 L200.09,394.39 L199.07,394.47 L198.06,394.55 L197.04,394.63 L196.03,394.72 L195.01,394.81 L194.00,394.90 L192.99,395.00 L191.97,395.10 L190.96,395.20 L189.94,395.31 L188.93,395.44 L187.91,395.59 L186.90,395.76 L185.89,395.94 L184.87,396.14 L183.86,396.34 L182.84,396.54 L181.83,396.77 L180.81,397.01 L179.80,397.26 L178.79,397.52 L177.77,397.79 L176.76,398.08 L175.74,398.37 L174.73,398.68 L173.71,399.00 L172.70,399.33 L171.69,399.69 L170.67,400.05 L169.66,400.44 L168.64,400.84 L167.63,401.26 L166.61,401.70 L165.60,402.17 L164.59,402.66 L163.57,403.17 L162.56,403.70 L161.54,404.23 L160.53,404.77 L159.51,405.31 L158.50,405.86 L157.49,406.43 L156.47,407.00 L155.46,407.59 L154.44,408.19 L153.43,408.81 L152.41,409.45 L151.40,410.11 L150.39,410.80 L149.37,411.52 L148.36,412.30 L147.34,413.13 L146.33,414.02 L145.31,414.95 L144.30,415.91 L143.29,416.90 L142.27,417.92 L141.26,418.97 L140.24,420.07 L139.23,421.22 L138.21,422.43 L137.20,423.73 L136.19,425.10 L135.17,426.52 L134.16,427.96 L133.14,429.42 L132.13,430.93 L131.11,432.45 L130.10,433.99 L129.09,435.54 L128.07,437.10 L127.06,438.67 L126.04,440.24 L125.03,441.79 L124.01,443.33 L123.00,444.86 L121.99,446.40 L120.97,447.94 L119.96,449.49 L118.94,451.05 L117.93,452.61 L116.91,454.19 L115.90,455.79 L114.89,457.41 L113.87,459.04 L112.86,460.68 L111.84,462.32 L110.83,463.95 L109.81,465.58 L108.80,467.23 L107.79,468.91 L106.77,470.64 L105.76,472.49 L104.74,474.39 L103.73,476.24 L102.71,477.94 L101.70,479.53 L100.69,481.06 L99.67,482.52 L98.66,483.88 L97.64,485.11 L96.63,486.28 L95.61,487.43 L94.60,488.53 L93.59,489.56 L92.57,490.48 L91.56,491.26 L90.54,491.89 L89.53,492.36 L88.51,492.76 L87.50,493.11 L86.49,493.42 L85.47,493.71 L84.46,494.00 L83.44,494.30 L82.43,494.66 L81.41,495.07 L80.40,495.40 L79.39,495.50 L78.37,495.50 L77.36,495.50 L76.34,495.50 L75.33,495.50 L74.31,495.50 L73.30,495.50 L72.29,495.50 L71.27,495.50 L70.26,495.50 L69.24,495.50 L68.23,495.50 L67.21,495.50 L66.20,495.50 L65.19,495.50 L64.17,495.50 L63.16,495.50 L62.14,495.50 L61.13,495.50 L60.11,495.50 L59.10,495.50 L58.09,495.50 L57.07,495.50 L56.06,495.50 L55.04,495.50 L54.03,495.50 L53.01,495.50 L52.00,495.50 L50.99,495.50 L49.97,495.50 L48.96,495.50 L47.94,495.50 L46.93,495.50 L45.91,495.50 L44.90,495.50 Z" fill="rgb(250,126,172)" fill-opacity="0.3" stroke="none"/>
<g fill="#62bb12"><circle cx="44.90" cy="495.50" r="1.9"/><circle cx="45.95" cy="495.50" r="1.9"/><circle cx="47.00" cy="495.50" r="1.9"/><circle cx="48.05" cy="495.50" r="1.9"/><circle cx="49.10" cy="495.50" r="1.9"/><circle cx="50.15" cy="495.50" r="1.9"/><circle cx="51.20" cy="495.50" r="1.9"/><circle cx="52.26" cy="495.50" r="1.9"/><circle cx="53.31" cy="495.50" r="1.9"/><circle cx="54.36" cy="495.50" r="1.9"/><circle cx="55.41" cy="495.50" r="1.9"/><circle cx="56.46" cy="495.50" r="1.9"/><circle cx="57.51" cy="495.50" r="1.9"/><circle cx="58.56" cy="495.50" r="1.9"/><circle cx="59.61" cy="495.50" r="1.9"/><circle cx="60.66" cy="495.50" r="1.9"/><circle cx="61.71" cy="495.50" r="1.9"/><circle cx="62.76" cy="495.50" r="1.9"/><circle cx="63.81" cy="495.50" r="1.9"/><circle cx="64.87" cy="495.50" r="1.9"/><circle cx="65.92" cy="495.50" r="1.9"/><circle cx="66.97" cy="495.50" r="1.9"/><circle cx="68.02" cy="495.50" r="1.9"/><circle cx="69.07" cy="495.50" r="1.9"/><circle cx="70.12" cy="495.50" r="1.9"/><circle cx="71.17" cy="495.50" r="1.9"/><circle cx="72.22" cy="495.50" r="1.9"/><circle cx="73.27" cy="495.50" r="1.9"/><circle cx="74.32" cy="495.50" r="1.9"/><circle cx="75.37" cy="495.50" r="1.9"/><circle cx="76.42" cy="495.22" r="1.9"/><circle cx="77.47" cy="494.79" r="1.9"/><circle cx="78.53" cy="494.74" r="1.9"/><circle cx="79.58" cy="494.23" r="1.9"/><circle cx="80.63" cy="493.63" r="1.9"/><circle cx="81.68" cy="493.45" r="1.9"/><circle cx="82.73" cy="493.36" r="1.9"/><circle cx="83.78" cy="492.79" r="1.9"/><circle cx="84.83" cy="492.12" r="1.9"/><circle cx="85.88" cy="492.02" r="1.9"/><circle cx="86.93" cy="491.67" r="1.9"/><circle cx="87.98" cy="490.24" r="1.9"/><circle cx="89.03" cy="489.10" r="1.9"/><circle cx="90.08" cy="488.99" r="1.9"/><circle cx="91.14" cy="487.70" r="1.9"/><circle cx="92.19" cy="485.33" r="1.9"/><circle cx="93.24" cy="484.47" r="1.9"/><circle cx="94.29" cy="484.20" r="1.9"/><circle cx="95.34" cy="482.00" r="1.9"/><circle cx="96.39" cy="479.32" r="1.9"/><circle cx="97.44" cy="478.81" r="1.9"/><circle cx="98.49" cy="477.88" r="1.9"/><circle cx="99.54" cy="474.49" r="1.9"/><circle cx="100.59" cy="471.88" r="1.9"/><circle cx="101.64" cy="471.65" r="1.9"/><circle cx="102.69" cy="469.61" r="1.9"/><circle cx="103.74" cy="465.95" r="1.9"/><circle cx="104.80" cy="464.48" r="1.9"/><circle cx="105.85" cy="464.19" r="1.9"/><circle cx="106.90" cy="461.61" r="1.9"/><circle cx="107.95" cy="458.46" r="1.9"/><circle cx="109.00" cy="457.75" r="1.9"/><circle cx="110.05" cy="456.98" r="1.9"/><circle cx="111.10" cy="453.79" r="1.9"/><circle cx="112.15" cy="451.32" r="1.9"/><circle cx="113.20" cy="451.07" r="1.9"/><circle cx="114.25" cy="449.60" r="1.9"/><circle cx="115.30" cy="446.31" r="1.9"/><circle cx="116.35" cy="444.71" r="1.9"/><circle cx="117.41" cy="444.51" r="1.9"/><circle cx="118.46" cy="442.27" r="1.9"/><circle cx="119.51" cy="439.20" r="1.9"/><circle cx="120.56" cy="438.35" r="1.9"/><circle cx="121.61" cy="437.79" r="1.9"/><circle cx="122.66" cy="434.88" r="1.9"/><circle cx="123.71" cy="432.26" r="1.9"/><circle cx="124.76" cy="431.93" r="1.9"/><circle cx="125.81" cy="430.70" r="1.9"/><circle cx="126.86" cy="427.48" r="1.9"/><circle cx="127.91" cy="425.69" r="1.9"/><circle cx="128.96" cy="425.52" r="1.9"/><circle cx="130.01" cy="423.59" r="1.9"/><circle cx="131.07" cy="420.63" r="1.9"/><circle cx="132.12" cy="419.69" r="1.9"/><circle cx="133.17" cy="419.31" r="1.9"/><circle cx="134.22" cy="416.98" r="1.9"/><circle cx="135.27" cy="414.81" r="1.9"/><circle cx="136.32" cy="414.48" r="1.9"/><circle cx="137.37" cy="413.73" r="1.9"/><circle cx="138.42" cy="411.47" r="1.9"/><circle cx="139.47" cy="410.08" r="1.9"/><circle cx="140.52" cy="409.96" r="1.9"/><circle cx="141.57" cy="408.80" r="1.9"/><circle cx="142.62" cy="406.79" r="1.9"/><circle cx="143.68" cy="406.06" r="1.9"/><circle cx="144.73" cy="405.89" r="1.9"/><circle cx="145.78" cy="404.54" r="1.9"/><circle cx="146.83" cy="403.13" r="1.9"/><circle cx="147.88" cy="402.86" r="1.9"/><circle cx="148.93" cy="402.50" r="1.9"/><circle cx="149.98" cy="401.16" r="1.9"/><circle cx="151.03" cy="400.22" r="1.9"/><circle cx="152.08" cy="400.14" r="1.9"/><circle cx="153.13" cy="399.53" r="1.9"/><circle cx="154.18" cy="398.27" r="1.9"/><circle cx="155.23" cy="397.72" r="1.9"/><circle cx="156.28" cy="397.63" r="1.9"/><circle cx="157.34" cy="396.78" r="1.9"/><circle cx="158.39" cy="395.67" r="1.9"/><circle cx="159.44" cy="395.40" r="1.9"/><circle cx="160.49" cy="395.18" r="1.9"/><circle cx="161.54" cy="394.17" r="1.9"/><circle cx="162.59" cy="393.37" r="1.9"/><circle cx="163.64" cy="393.28" r="1.9"/><circle cx="164.69" cy="392.87" r="1.9"/><circle cx="165.74" cy="391.90" r="1.9"/><circle cx="166.79" cy="391.41" r="1.9"/><circle cx="167.84" cy="391.36" r="1.9"/><circle cx="168.89" cy="390.79" r="1.9"/><circle cx="169.95" cy="390.00" r="1.9"/><circle cx="171.00" cy="389.78" r="1.9"/><circle cx="172.05" cy="389.68" r="1.9"/><circle cx="173.10" cy="389.11" r="1.9"/><circle cx="174.15" cy="388.61" r="1.9"/><circle cx="175.20" cy="388.54" r="1.9"/><circle cx="176.25" cy="388.33" r="1.9"/></g>
<path d="M79.05,494.69 L79.82,494.38 L80.58,494.12 L81.34,493.88 L82.11,493.64 L82.87,493.41 L83.64,493.17 L84.40,492.92 L85.17,492.64 L85.93,492.33 L86.69,491.98 L87.46,491.58 L88.22,491.09 L88.99,490.49 L89.75,489.80 L90.52,489.04 L91.28,488.21 L92.05,487.33 L92.81,486.42 L93.57,485.48 L94.34,484.54 L95.10,483.57 L95.87,482.52 L96.63,481.41 L97.40,480.23 L98.16,479.00 L98.92,477.73 L99.69,476.44 L100.45,475.06 L101.22,473.59 L101.98,472.06 L102.75,470.53 L103.51,469.03 L104.28,467.62 L105.04,466.24 L105.80,464.89 L106.57,463.56 L107.33,462.24 L108.10,460.92 L108.86,459.60 L109.63,458.27 L110.39,456.95 L111.15,455.63 L111.92,454.31 L112.68,453.00 L113.45,451.70 L114.21,450.42 L114.98,449.15 L115.74,447.89 L116.51,446.63 L117.27,445.38 L118.03,444.12 L118.80,442.87 L119.56,441.63 L120.33,440.39 L121.09,439.15 L121.86,437.90 L122.62,436.65 L123.38,435.39 L124.15,434.12 L124.91,432.85 L125.68,431.58 L126.44,430.33 L127.21,429.08 L127.97,427.84 L128.74,426.60 L129.50,425.38 L130.26,424.17 L131.03,423.00 L131.79,421.83 L132.56,420.68 L133.32,419.54 L134.09,418.44 L134.85,417.38 L135.61,416.38 L136.38,415.43 L137.14,414.51 L137.91,413.62 L138.67,412.75 L139.44,411.91 L140.20,411.10 L140.97,410.30 L141.73,409.51 L142.49,408.74 L143.26,407.99 L144.02,407.27 L144.79,406.59 L145.55,405.93 L146.32,405.32 L147.08,404.73 L147.85,404.17 L148.61,403.63 L149.37,403.10 L150.14,402.58 L150.90,402.07 L151.67,401.58 L152.43,401.09 L153.20,400.62 L153.96,400.15 L154.72,399.69 L155.49,399.24 L156.25,398.80 L157.02,398.36 L157.78,397.92 L158.55,397.49 L159.31,397.05 L160.08,396.63 L160.84,396.21 L161.60,395.80 L162.37,395.40 L163.13,395.01 L163.90,394.65 L164.66,394.30 L165.43,393.96 L166.19,393.64 L166.95,393.32 L167.72,393.01 L168.48,392.71 L169.25,392.43 L170.01,392.15 L170.78,391.88 L171.54,391.63 L172.31,391.38 L173.07,391.14 L173.83,390.90 L174.60,390.67 L175.36,390.45 L176.13,390.23 L176.89,390.02 L177.66,389.82 L178.42,389.63 L179.18,389.44 L179.95,389.27 L180.71,389.10 L181.48,388.94 L182.24,388.78 L183.01,388.62 L183.77,388.48 L184.54,388.34 L185.30,388.21 L186.06,388.10 L186.83,388.00 L187.59,387.91 L188.36,387.83 L189.12,387.74 L189.89,387.66 L190.65,387.58 L191.41,387.51 L192.18,387.43 L192.94,387.36 L193.71,387.29 L194.47,387.22 L195.24,387.15 L196.00,387.09 L196.77,387.02 L197.53,386.96 L198.29,386.90 L199.06,386.84 L199.82,386.79 L200.59,386.73 L201.35,386.68 L202.12,386.63 L202.88,386.58 L203.64,386.53 L204.41,386.48 L205.17,386.44 L205.94,386.39 L206.70,386.35 L207.47,386.31 L208.23,386.27 L209.00,386.24 L209.76,386.20 L210.52,386.17 L211.29,386.14 L212.05,386.11 L212.82,386.08 L213.58,386.05 L214.35,386.02 L215.11,386.00 L215.87,385.97 L216.64,385.95 L217.40,385.92 L218.17,385.90 L218.93,385.87 L219.70,385.85 L220.46,385.82 L221.23,385.80 L221.99,385.78 L222.75,385.76 L223.52,385.74 L224.28,385.71 L225.05,385.69 L225.81,385.67 L226.58,385.65 L227.34,385.63 L228.10,385.61 L228.87,385.59 L229.63,385.58 L230.40,385.56 L231.16,385.54 L231.93,385.52 L232.69,385.50 L233.46,385.49 L234.22,385.47 L234.98,385.45 L235.75,385.44 L236.51,385.42 L237.28,385.41 L238.04,385.39 L238.81,385.38 L239.57,385.36 L240.33,385.35 L241.10,385.34 L241.86,385.32 L242.63,385.31 L243.39,385.30 L244.16,385.28 L244.92,385.27 L245.69,385.26 L246.45,385.24 L247.21,385.23 L247.98,385.22 L248.74,385.21 L249.51,385.20 L250.27,385.19 L251.04,385.18 L251.80,385.16 L252.56,385.15 L253.33,385.14 L254.09,385.13 L254.86,385.12 L255.62,385.11 L256.39,385.10 L257.15,385.09 L257.92,385.08 L258.68,385.07 L259.44,385.06 L260.21,385.05 L260.97,385.04 L261.74,385.03 L262.50,385.02 L263.27,385.01 L264.03,385.00 L264.79,385.00 L265.56,384.99 L266.32,384.98 L267.09,384.97 L267.85,384.96 L268.62,384.95 L269.38,384.94 L270.15,384.93 L270.91,384.92 L271.67,384.91 L272.44,384.90 L273.20,384.89 L273.97,384.89 L274.73,384.88 L275.50,384.87 L276.26,384.86 L277.02,384.85 L277.79,384.84 L278.55,384.84 L279.32,384.83 L280.08,384.82 L280.85,384.81 L281.61,384.80 L282.38,384.80 L283.14,384.79 L283.90,384.78 L284.67,384.78 L285.43,384.77 L286.20,384.76 L286.96,384.75 L287.73,384.75 L288.49,384.74 L289.25,384.74 L290.02,384.73 L290.78,384.72 L291.55,384.72 L292.31,384.71 L293.08,384.71 L293.84,384.70 L294.61,384.70 L295.37,384.69 L296.13,384.69 L296.90,384.68 L297.66,384.68 L298.43,384.68 L299.19,384.67 L299.96,384.67 L300.72,384.67 L301.48,384.66 L302.25,384.66 L303.01,384.66 L303.78,384.65 L304.54,384.65 L305.31,384.65 L306.07,384.65 L306.84,384.65 L307.60,384.65" fill="none" stroke="#e04242" stroke-width="1.3" stroke-dasharray="3.1,3.1" stroke-linejoin="round"/>
<path d="M79.05,494.69 L79.82,494.38 L80.58,494.12 L81.34,493.88 L82.11,493.64 L82.87,493.41 L83.64,493.17 L84.40,492.92 L85.17,492.64 L85.93,492.33 L86.69,491.98 L87.46,491.58 L88.22,491.09 L88.99,490.49 L89.75,489.80 L90.52,489.04 L91.28,488.21 L92.05,487.33 L92.81,486.42 L93.57,485.48 L94.34,484.54 L95.10,483.57 L95.87,482.52 L96.63,481.41 L97.40,480.23 L98.16,479.00 L98.92,477.73 L99.69,476.44 L100.45,475.06 L101.22,473.59 L101.98,472.06 L102.75,470.53 L103.51,469.03 L104.28,467.62 L105.04,466.24 L105.80,464.89 L106.57,463.56 L107.33,462.24 L108.10,460.92 L108.86,459.60 L109.63,458.27 L110.39,456.95 L111.15,455.63 L111.92,454.31 L112.68,453.00 L113.45,451.70 L114.21,450.42 L114.98,449.15 L115.74,447.89 L116.51,446.63 L117.27,445.38 L118.03,444.12 L118.80,442.87 L119.56,441.63 L120.33,440.39 L121.09,439.15 L121.86,437.90 L122.62,436.65 L123.38,435.39 L124.15,434.12 L124.91,432.85 L125.68,431.58 L126.44,430.33 L127.21,429.08 L127.97,427.84 L128.74,426.60 L129.50,425.38 L130.26,424.17 L131.03,423.00 L131.79,421.84 L132.56,420.69 L133.32,419.56 L134.09,418.46 L134.85,417.39 L135.61,416.38 L136.38,415.39 L137.14,414.44 L137.91,413.51 L138.67,412.61 L139.44,411.73 L140.20,410.87 L140.97,410.04 L141.73,409.21 L142.49,408.41 L143.26,407.63 L144.02,406.87 L144.79,406.15 L145.55,405.46 L146.32,404.80 L147.08,404.17 L147.85,403.56 L148.61,402.98 L149.37,402.41 L150.14,401.86 L150.90,401.33 L151.67,400.80 L152.43,400.29 L153.20,399.79 L153.96,399.30 L154.72,398.82 L155.49,398.35 L156.25,397.88 L157.02,397.42 L157.78,396.96 L158.55,396.50 L159.31,396.05 L160.08,395.60 L160.84,395.16 L161.60,394.73 L162.37,394.30 L163.13,393.89 L163.90,393.49 L164.66,393.10 L165.43,392.72 L166.19,392.34 L166.95,391.97 L167.72,391.61 L168.48,391.26 L169.25,390.92 L170.01,390.59 L170.78,390.28 L171.54,389.98 L172.31,389.70 L173.07,389.44 L173.83,389.19 L174.60,388.95 L175.36,388.72 L176.13,388.48 L176.89,388.24 L177.66,388.01 L178.42,387.77 L179.18,387.53 L179.95,387.30 L180.71,387.08 L181.48,386.86 L182.24,386.65 L183.01,386.46 L183.77,386.26 L184.54,386.07 L185.30,385.89 L186.06,385.71 L186.83,385.54 L187.59,385.37 L188.36,385.21 L189.12,385.05 L189.89,384.91 L190.65,384.77 L191.41,384.63 L192.18,384.49 L192.94,384.35 L193.71,384.21 L194.47,384.08 L195.24,383.95 L196.00,383.82 L196.77,383.69 L197.53,383.56 L198.29,383.43 L199.06,383.31 L199.82,383.19 L200.59,383.07 L201.35,382.96 L202.12,382.84 L202.88,382.74 L203.64,382.63 L204.41,382.53 L205.17,382.43 L205.94,382.33 L206.70,382.24 L207.47,382.15 L208.23,382.06 L209.00,381.98 L209.76,381.91 L210.52,381.83 L211.29,381.77 L212.05,381.70 L212.82,381.63 L213.58,381.57 L214.35,381.50 L215.11,381.44 L215.87,381.37 L216.64,381.31 L217.40,381.25 L218.17,381.19 L218.93,381.13 L219.70,381.07 L220.46,381.01 L221.23,380.95 L221.99,380.89 L222.75,380.84 L223.52,380.78 L224.28,380.73 L225.05,380.67 L225.81,380.62 L226.58,380.57 L227.34,380.51 L228.10,380.46 L228.87,380.41 L229.63,380.36 L230.40,380.31 L231.16,380.27 L231.93,380.22 L232.69,380.17 L233.46,380.13 L234.22,380.08 L234.98,380.04 L235.75,380.00 L236.51,379.96 L237.28,379.91 L238.04,379.87 L238.81,379.83 L239.57,379.79 L240.33,379.76 L241.10,379.72 L241.86,379.68 L242.63,379.65 L243.39,379.61 L244.16,379.58 L244.92,379.55 L245.69,379.51 L246.45,379.48 L247.21,379.45 L247.98,379.42 L248.74,379.39 L249.51,379.36 L250.27,379.34 L251.04,379.31 L251.80,379.29 L252.56,379.26 L253.33,379.24 L254.09,379.21 L254.86,379.19 L255.62,379.17 L256.39,379.15 L257.15,379.13 L257.92,379.11 L258.68,379.09 L259.44,379.06 L260.21,379.04 L260.97,379.02 L261.74,379.00 L262.50,378.98 L263.27,378.96 L264.03,378.94 L264.79,378.92 L265.56,378.90 L266.32,378.88 L267.09,378.86 L267.85,378.84 L268.62,378.82 L269.38,378.80 L270.15,378.78 L270.91,378.76 L271.67,378.74 L272.44,378.72 L273.20,378.71 L273.97,378.69 L274.73,378.67 L275.50,378.65 L276.26,378.64 L277.02,378.62 L277.79,378.60 L278.55,378.58 L279.32,378.57 L280.08,378.55 L280.85,378.54 L281.61,378.52 L282.38,378.51 L283.14,378.49 L283.90,378.48 L284.67,378.46 L285.43,378.45 L286.20,378.44 L286.96,378.42 L287.73,378.41 L288.49,378.40 L289.25,378.39 L290.02,378.37 L290.78,378.36 L291.55,378.35 L292.31,378.34 L293.08,378.33 L293.84,378.32 L294.61,378.31 L295.37,378.31 L296.13,378.30 L296.90,378.29 L297.66,378.28 L298.43,378.28 L299.19,378.27 L299.96,378.26 L300.72,378.26 L301.48,378.25 L302.25,378.25 L303.01,378.25 L303.78,378.24 L304.54,378.24 L305.31,378.24 L306.07,378.24 L306.84,378.24 L307.60,378.24" fill="none" stroke="#5050b4" stroke-width="1.2" stroke-linejoin="round"/>
<text x="44.90" y="512.90" font-size="15.5" text-anchor="middle">0</text>
<text x="97.44" y="512.90" font-size="15.5" text-anchor="middle">50</text>
<text x="149.98" y="512.90" font-size="15.5" text-anchor="middle">100</text>
<text x="202.52" y="512.90" font-size="15.5" text-anchor="middle">150</text>
<text x="255.06" y="512.90" font-size="15.5" text-anchor="middle">200</text>
<text x="307.60" y="512.90" font-size="15.5" text-anchor="middle">250</text>
<text x="40.90" y="499.00" font-size="15.5" text-anchor="end">0</text>
<text x="40.90" y="451.52" font-size="15.5" text-anchor="end">0.2</text>
<text x="40.90" y="404.05" font-size="15.5" text-anchor="end">0.4</text>
<text x="40.90" y="356.58" font-size="15.5" text-anchor="end">0.6</text>
<text x="40.90" y="309.10" font-size="15.5" text-anchor="end">0.8</text>
<text transform="translate(176.65,298.20) scale(1,0.92)" font-size="17.5" text-anchor="middle">UK</text>
<text transform="translate(177.45,533.30) scale(1,0.92)" font-size="17.8" text-anchor="middle">Time (in days)</text>
<text transform="translate(13.30,401.55) rotate(-90) scale(1,0.92)" font-size="17.8" text-anchor="middle">Detected (in % population)</text>
<rect x="207.30" y="416.10" width="97.90" height="75.80" fill="#fff" stroke="#6b6b6b" stroke-width="1"/>
<circle cx="221.50" cy="424.50" r="1.9" fill="#62bb12"/>
<text x="235.80" y="429.10" font-size="14.1">Data</text>
<path d="M209.50,439.30 H231.30" stroke="#ec5a5a" stroke-width="1.1" stroke-dasharray="3.3,2.8"/>
<text x="235.80" y="443.20" font-size="14.1"><tspan font-style="italic">h</tspan><tspan font-style="italic" font-size="9.6" dy="1.8">m</tspan><tspan dy="-1.8" dx="0.6">(</tspan><tspan font-style="italic">t</tspan>)</text>
<rect x="209.50" y="448.40" width="24.50" height="11.4" fill="#fde0e4"/>
<text x="235.80" y="458.70" font-size="14.1">2% par. var.</text>
<path d="M209.50,468.90 H234.00" stroke="#5c5cc0" stroke-width="1.2"/>
<text x="235.80" y="473.10" font-size="14.1"><tspan font-style="italic">h</tspan>(<tspan font-style="italic">t</tspan>)</text>
<rect x="209.50" y="478.00" width="24.50" height="11.4" fill="#e6f2fb"/>
<text x="235.80" y="488.30" font-size="14.1">2% par. var.</text>
<path d="M425.80,306.20 V495.30 M436.20,306.20 V495.30 M446.60,306.20 V495.30 M457.00,306.20 V495.30 M477.80,306.20 V495.30 M488.20,306.20 V495.30 M498.60,306.20 V495.30 M509.00,306.20 V495.30 M529.80,306.20 V495.30 M540.20,306.20 V495.30 M550.60,306.20 V495.30 M561.00,306.20 V495.30 M581.80,306.20 V495.30 M592.20,306.20 V495.30 M602.60,306.20 V495.30 M613.00,306.20 V495.30 M633.80,306.20 V495.30 M644.20,306.20 V495.30 M654.60,306.20 V495.30 M665.00,306.20 V495.30 M415.40,485.85 H675.40 M415.40,476.39 H675.40 M415.40,466.94 H675.40 M415.40,448.02 H675.40 M415.40,438.57 H675.40 M415.40,429.12 H675.40 M415.40,410.20 H675.40 M415.40,400.75 H675.40 M415.40,391.29 H675.40 M415.40,372.38 H675.40 M415.40,362.93 H675.40 M415.40,353.48 H675.40 M415.40,334.56 H675.40 M415.40,325.11 H675.40 M415.40,315.65 H675.40" stroke="#e9e9e9" stroke-width="0.9" stroke-dasharray="1.2,1.35" fill="none"/>
<path d="M467.50,306.20 V495.30 M519.50,306.20 V495.30 M571.50,306.20 V495.30 M623.50,306.20 V495.30 M415.40,457.50 H675.40 M415.40,419.50 H675.40 M415.40,381.50 H675.40 M415.40,344.50 H675.40" stroke="#f2f2f2" stroke-width="1" fill="none"/>
<path d="M467.40,495.30 v-2.6 M467.40,306.20 v2.6 M519.40,495.30 v-2.6 M519.40,306.20 v2.6 M571.40,495.30 v-2.6 M571.40,306.20 v2.6 M623.40,495.30 v-2.6 M623.40,306.20 v2.6 M415.40,457.48 h2.6 M675.40,457.48 h-2.6 M415.40,419.66 h2.6 M675.40,419.66 h-2.6 M415.40,381.84 h2.6 M675.40,381.84 h-2.6 M415.40,344.02 h2.6 M675.40,344.02 h-2.6" stroke="#777" stroke-width="1" fill="none"/>
<rect x="415.40" y="306.20" width="260.00" height="189.10" fill="none" stroke="#808080" stroke-width="1"/>
<path d="M451.28,495.30 L452.15,495.27 L453.01,495.23 L453.88,495.18 L454.74,495.12 L455.61,495.05 L456.47,494.97 L457.34,494.89 L458.20,494.80 L459.07,494.69 L459.93,494.57 L460.80,494.43 L461.66,494.28 L462.53,494.11 L463.39,493.93 L464.26,493.73 L465.13,493.51 L465.99,493.27 L466.86,492.95 L467.72,492.56 L468.59,492.10 L469.45,491.59 L470.32,491.04 L471.18,490.46 L472.05,489.88 L472.91,489.29 L473.78,488.71 L474.64,488.16 L475.51,487.65 L476.37,487.18 L477.24,486.72 L478.11,486.27 L478.97,485.83 L479.84,485.40 L480.70,484.97 L481.57,484.55 L482.43,484.13 L483.30,483.71 L484.16,483.30 L485.03,482.88 L485.89,482.47 L486.76,482.04 L487.62,481.62 L488.49,481.20 L489.35,480.78 L490.22,480.38 L491.09,479.99 L491.95,479.63 L492.82,479.29 L493.68,478.98 L494.55,478.68 L495.41,478.40 L496.28,478.13 L497.14,477.88 L498.01,477.63 L498.87,477.39 L499.74,477.15 L500.60,476.92 L501.47,476.70 L502.33,476.48 L503.20,476.26 L504.07,476.05 L504.93,475.83 L505.80,475.62 L506.66,475.40 L507.53,475.18 L508.39,474.95 L509.26,474.72 L510.12,474.47 L510.99,474.23 L511.85,473.98 L512.72,473.73 L513.58,473.49 L514.45,473.25 L515.31,473.03 L516.18,472.82 L517.04,472.63 L517.91,472.46 L518.78,472.32 L519.64,472.20 L520.51,472.09 L521.37,471.99 L522.24,471.89 L523.10,471.79 L523.97,471.70 L524.83,471.61 L525.70,471.53 L526.56,471.45 L527.43,471.37 L528.29,471.30 L529.16,471.23 L530.02,471.16 L530.89,471.09 L531.76,471.03 L532.62,470.97 L533.49,470.91 L534.35,470.86 L535.22,470.81 L536.08,470.75 L536.95,470.70 L537.81,470.66 L538.68,470.61 L539.54,470.56 L540.41,470.52 L541.27,470.47 L542.14,470.43 L543.00,470.39 L543.87,470.34 L544.74,470.30 L545.60,470.26 L546.47,470.22 L547.33,470.18 L548.20,470.14 L549.06,470.10 L549.93,470.06 L550.79,470.02 L551.66,469.99 L552.52,469.95 L553.39,469.91 L554.25,469.88 L555.12,469.85 L555.98,469.81 L556.85,469.78 L557.72,469.75 L558.58,469.72 L559.45,469.69 L560.31,469.66 L561.18,469.64 L562.04,469.61 L562.91,469.58 L563.77,469.56 L564.64,469.54 L565.50,469.51 L566.37,469.49 L567.23,469.47 L568.10,469.45 L568.96,469.44 L569.83,469.42 L570.70,469.40 L571.56,469.39 L572.43,469.38 L573.29,469.36 L574.16,469.35 L575.02,469.34 L575.89,469.32 L576.75,469.31 L577.62,469.30 L578.48,469.29 L579.35,469.27 L580.21,469.26 L581.08,469.25 L581.94,469.24 L582.81,469.22 L583.68,469.21 L584.54,469.20 L585.41,469.19 L586.27,469.18 L587.14,469.17 L588.00,469.16 L588.87,469.15 L589.73,469.14 L590.60,469.13 L591.46,469.12 L592.33,469.11 L593.19,469.10 L594.06,469.09 L594.92,469.09 L595.79,469.08 L596.66,469.07 L597.52,469.06 L598.39,469.06 L599.25,469.05 L600.12,469.05 L600.98,469.04 L601.85,469.04 L602.71,469.03 L603.58,469.03 L604.44,469.03 L605.31,469.02 L606.17,469.02 L607.04,469.02 L607.90,469.02 L608.77,469.02 L609.64,469.02 L610.50,469.02 L611.37,469.02 L612.23,469.02 L613.10,469.02 L613.96,469.02 L614.83,469.02 L615.69,469.02 L616.56,469.02 L617.42,469.02 L618.29,469.02 L619.15,469.02 L620.02,469.02 L620.88,469.02 L621.75,469.02 L622.61,469.02 L623.48,469.02 L624.35,469.02 L625.21,469.02 L626.08,469.02 L626.94,469.02 L627.81,469.02 L628.67,469.02 L629.54,469.02 L630.40,469.02 L631.27,469.02 L632.13,469.02 L633.00,469.02 L633.86,469.02 L634.73,469.02 L635.59,469.02 L636.46,469.02 L637.33,469.02 L638.19,469.02 L639.06,469.02 L639.92,469.02 L640.79,469.02 L641.65,469.02 L642.52,469.02 L643.38,469.02 L644.25,469.02 L645.11,469.02 L645.98,469.02 L646.84,469.02 L647.71,469.02 L648.57,469.02 L649.44,469.02 L650.31,469.02 L651.17,469.02 L652.04,469.02 L652.90,469.02 L653.77,469.02 L654.63,469.02 L655.50,469.02 L656.36,469.02 L657.23,469.02 L658.09,469.02 L658.96,469.02 L659.82,469.02 L660.69,469.02 L661.55,469.02 L662.42,469.02 L663.29,469.02 L664.15,469.02 L665.02,469.02 L665.88,469.02 L666.75,469.02 L667.61,469.02 L668.48,469.02 L669.34,469.02 L670.21,469.02 L671.07,469.02 L671.94,469.02 L672.80,469.02 L673.67,469.02 L674.53,469.02 L675.40,469.02 L675.40,480.93 L674.53,480.93 L673.67,480.93 L672.80,480.93 L671.94,480.93 L671.07,480.93 L670.21,480.93 L669.34,480.93 L668.48,480.93 L667.61,480.93 L666.75,480.93 L665.88,480.93 L665.02,480.93 L664.15,480.93 L663.29,480.93 L662.42,480.93 L661.55,480.93 L660.69,480.93 L659.82,480.93 L658.96,480.93 L658.09,480.93 L657.23,480.93 L656.36,480.93 L655.50,480.93 L654.63,480.93 L653.77,480.94 L652.90,480.94 L652.04,480.94 L651.17,480.94 L650.31,480.94 L649.44,480.94 L648.57,480.94 L647.71,480.94 L646.84,480.94 L645.98,480.94 L645.11,480.94 L644.25,480.94 L643.38,480.94 L642.52,480.94 L641.65,480.95 L640.79,480.95 L639.92,480.95 L639.06,480.95 L638.19,480.95 L637.33,480.95 L636.46,480.95 L635.59,480.95 L634.73,480.95 L633.86,480.95 L633.00,480.96 L632.13,480.96 L631.27,480.96 L630.40,480.96 L629.54,480.96 L628.67,480.96 L627.81,480.96 L626.94,480.97 L626.08,480.97 L625.21,480.97 L624.35,480.97 L623.48,480.97 L622.61,480.97 L621.75,480.97 L620.88,480.98 L620.02,480.98 L619.15,480.98 L618.29,480.98 L617.42,480.98 L616.56,480.98 L615.69,480.99 L614.83,480.99 L613.96,480.99 L613.10,480.99 L612.23,480.99 L611.37,480.99 L610.50,481.00 L609.64,481.00 L608.77,481.00 L607.90,481.00 L607.04,481.00 L606.17,481.01 L605.31,481.01 L604.44,481.01 L603.58,481.01 L602.71,481.02 L601.85,481.02 L600.98,481.02 L600.12,481.02 L599.25,481.02 L598.39,481.03 L597.52,481.03 L596.66,481.03 L595.79,481.03 L594.92,481.04 L594.06,481.04 L593.19,481.04 L592.33,481.04 L591.46,481.05 L590.60,481.05 L589.73,481.05 L588.87,481.05 L588.00,481.06 L587.14,481.06 L586.27,481.06 L585.41,481.07 L584.54,481.07 L583.68,481.07 L582.81,481.07 L581.94,481.08 L581.08,481.08 L580.21,481.08 L579.35,481.09 L578.48,481.09 L577.62,481.09 L576.75,481.10 L575.89,481.10 L575.02,481.10 L574.16,481.11 L573.29,481.11 L572.43,481.11 L571.56,481.12 L570.70,481.12 L569.83,481.13 L568.96,481.13 L568.10,481.14 L567.23,481.15 L566.37,481.16 L565.50,481.17 L564.64,481.18 L563.77,481.20 L562.91,481.21 L562.04,481.23 L561.18,481.24 L560.31,481.26 L559.45,481.28 L558.58,481.30 L557.72,481.32 L556.85,481.34 L555.98,481.36 L555.12,481.38 L554.25,481.41 L553.39,481.43 L552.52,481.46 L551.66,481.48 L550.79,481.51 L549.93,481.53 L549.06,481.56 L548.20,481.59 L547.33,481.62 L546.47,481.65 L545.60,481.68 L544.74,481.71 L543.87,481.74 L543.00,481.77 L542.14,481.80 L541.27,481.83 L540.41,481.87 L539.54,481.90 L538.68,481.93 L537.81,481.97 L536.95,482.01 L536.08,482.06 L535.22,482.10 L534.35,482.15 L533.49,482.20 L532.62,482.25 L531.76,482.30 L530.89,482.36 L530.02,482.42 L529.16,482.49 L528.29,482.55 L527.43,482.62 L526.56,482.69 L525.70,482.76 L524.83,482.84 L523.97,482.92 L523.10,483.00 L522.24,483.09 L521.37,483.17 L520.51,483.27 L519.64,483.36 L518.78,483.46 L517.91,483.58 L517.04,483.72 L516.18,483.87 L515.31,484.03 L514.45,484.20 L513.58,484.39 L512.72,484.58 L511.85,484.77 L510.99,484.97 L510.12,485.17 L509.26,485.37 L508.39,485.56 L507.53,485.75 L506.66,485.95 L505.80,486.14 L504.93,486.35 L504.07,486.55 L503.20,486.76 L502.33,486.97 L501.47,487.19 L500.60,487.40 L499.74,487.62 L498.87,487.84 L498.01,488.07 L497.14,488.29 L496.28,488.52 L495.41,488.74 L494.55,488.97 L493.68,489.20 L492.82,489.43 L491.95,489.67 L491.09,489.92 L490.22,490.16 L489.35,490.41 L488.49,490.66 L487.62,490.91 L486.76,491.16 L485.89,491.40 L485.03,491.64 L484.16,491.87 L483.30,492.11 L482.43,492.35 L481.57,492.59 L480.70,492.83 L479.84,493.07 L478.97,493.30 L478.11,493.52 L477.24,493.73 L476.37,493.93 L475.51,494.12 L474.64,494.29 L473.78,494.44 L472.91,494.60 L472.05,494.76 L471.18,494.92 L470.32,495.06 L469.45,495.17 L468.59,495.25 L467.72,495.30 L466.86,495.30 L465.99,495.30 L465.13,495.30 L464.26,495.30 L463.39,495.30 L462.53,495.30 L461.66,495.30 L460.80,495.30 L459.93,495.30 L459.07,495.30 L458.20,495.30 L457.34,495.30 L456.47,495.30 L455.61,495.30 L454.74,495.30 L453.88,495.30 L453.01,495.30 L452.15,495.30 L451.28,495.30 Z" fill="rgb(60,160,230)" fill-opacity="0.13" stroke="none"/>
<path d="M451.28,480.56 L452.15,479.67 L453.01,478.74 L453.88,477.68 L454.74,476.47 L455.61,475.23 L456.47,473.94 L457.34,472.63 L458.20,471.28 L459.07,469.89 L459.93,468.46 L460.80,466.99 L461.66,465.47 L462.53,463.90 L463.39,462.26 L464.26,460.55 L465.13,458.74 L465.99,456.89 L466.86,455.21 L467.72,453.46 L468.59,451.66 L469.45,449.82 L470.32,447.95 L471.18,446.05 L472.05,444.11 L472.91,442.10 L473.78,440.03 L474.64,437.92 L475.51,435.78 L476.37,433.62 L477.24,431.46 L478.11,429.30 L478.97,427.14 L479.84,424.95 L480.70,422.74 L481.57,420.53 L482.43,418.32 L483.30,416.13 L484.16,413.95 L485.03,411.79 L485.89,409.64 L486.76,407.49 L487.62,405.35 L488.49,403.22 L489.35,401.10 L490.22,398.99 L491.09,396.89 L491.95,394.80 L492.82,392.71 L493.68,390.63 L494.55,388.57 L495.41,386.51 L496.28,384.47 L497.14,382.44 L498.01,380.42 L498.87,378.38 L499.74,376.33 L500.60,374.31 L501.47,372.32 L502.33,370.41 L503.20,368.58 L504.07,366.86 L504.93,365.18 L505.80,363.55 L506.66,361.98 L507.53,360.49 L508.39,359.08 L509.26,357.78 L510.12,356.58 L510.99,355.43 L511.85,354.33 L512.72,353.29 L513.58,352.30 L514.45,351.36 L515.31,350.47 L516.18,349.63 L517.04,348.84 L517.91,348.08 L518.78,347.36 L519.64,346.68 L520.51,346.02 L521.37,345.39 L522.24,344.78 L523.10,344.20 L523.97,343.63 L524.83,343.07 L525.70,342.53 L526.56,342.01 L527.43,341.49 L528.29,341.00 L529.16,340.52 L530.02,340.05 L530.89,339.59 L531.76,339.15 L532.62,338.72 L533.49,338.31 L534.35,337.89 L535.22,337.48 L536.08,337.07 L536.95,336.67 L537.81,336.27 L538.68,335.89 L539.54,335.53 L540.41,335.18 L541.27,334.84 L542.14,334.53 L543.00,334.24 L543.87,333.97 L544.74,333.73 L545.60,333.51 L546.47,333.30 L547.33,333.10 L548.20,332.90 L549.06,332.72 L549.93,332.55 L550.79,332.38 L551.66,332.22 L552.52,332.07 L553.39,331.92 L554.25,331.78 L555.12,331.64 L555.98,331.51 L556.85,331.38 L557.72,331.24 L558.58,331.11 L559.45,330.99 L560.31,330.86 L561.18,330.74 L562.04,330.61 L562.91,330.50 L563.77,330.38 L564.64,330.27 L565.50,330.17 L566.37,330.07 L567.23,329.97 L568.10,329.88 L568.96,329.80 L569.83,329.72 L570.70,329.65 L571.56,329.58 L572.43,329.53 L573.29,329.47 L574.16,329.41 L575.02,329.36 L575.89,329.31 L576.75,329.26 L577.62,329.21 L578.48,329.16 L579.35,329.11 L580.21,329.06 L581.08,329.01 L581.94,328.97 L582.81,328.93 L583.68,328.88 L584.54,328.84 L585.41,328.80 L586.27,328.77 L587.14,328.73 L588.00,328.70 L588.87,328.66 L589.73,328.63 L590.60,328.60 L591.46,328.57 L592.33,328.55 L593.19,328.52 L594.06,328.50 L594.92,328.48 L595.79,328.46 L596.66,328.44 L597.52,328.43 L598.39,328.41 L599.25,328.40 L600.12,328.39 L600.98,328.38 L601.85,328.38 L602.71,328.37 L603.58,328.36 L604.44,328.35 L605.31,328.34 L606.17,328.33 L607.04,328.32 L607.90,328.32 L608.77,328.31 L609.64,328.30 L610.50,328.29 L611.37,328.28 L612.23,328.28 L613.10,328.27 L613.96,328.26 L614.83,328.25 L615.69,328.25 L616.56,328.24 L617.42,328.23 L618.29,328.23 L619.15,328.22 L620.02,328.21 L620.88,328.21 L621.75,328.20 L622.61,328.19 L623.48,328.19 L624.35,328.18 L625.21,328.17 L626.08,328.17 L626.94,328.16 L627.81,328.16 L628.67,328.15 L629.54,328.15 L630.40,328.14 L631.27,328.14 L632.13,328.13 L633.00,328.13 L633.86,328.12 L634.73,328.12 L635.59,328.11 L636.46,328.11 L637.33,328.10 L638.19,328.10 L639.06,328.09 L639.92,328.09 L640.79,328.09 L641.65,328.08 L642.52,328.08 L643.38,328.07 L644.25,328.07 L645.11,328.07 L645.98,328.06 L646.84,328.06 L647.71,328.06 L648.57,328.05 L649.44,328.05 L650.31,328.05 L651.17,328.05 L652.04,328.04 L652.90,328.04 L653.77,328.04 L654.63,328.04 L655.50,328.03 L656.36,328.03 L657.23,328.03 L658.09,328.03 L658.96,328.03 L659.82,328.03 L660.69,328.02 L661.55,328.02 L662.42,328.02 L663.29,328.02 L664.15,328.02 L665.02,328.02 L665.88,328.02 L666.75,328.02 L667.61,328.02 L668.48,328.02 L669.34,328.01 L670.21,328.01 L671.07,328.01 L671.94,328.01 L672.80,328.01 L673.67,328.01 L674.53,328.01 L675.40,328.01 L675.40,333.93 L674.53,333.93 L673.67,333.93 L672.80,333.93 L671.94,333.93 L671.07,333.93 L670.21,333.93 L669.34,333.94 L668.48,333.94 L667.61,333.94 L666.75,333.94 L665.88,333.94 L665.02,333.94 L664.15,333.94 L663.29,333.95 L662.42,333.95 L661.55,333.95 L660.69,333.95 L659.82,333.95 L658.96,333.96 L658.09,333.96 L657.23,333.96 L656.36,333.96 L655.50,333.97 L654.63,333.97 L653.77,333.97 L652.90,333.98 L652.04,333.98 L651.17,333.98 L650.31,333.99 L649.44,333.99 L648.57,333.99 L647.71,334.00 L646.84,334.00 L645.98,334.00 L645.11,334.01 L644.25,334.01 L643.38,334.02 L642.52,334.02 L641.65,334.03 L640.79,334.03 L639.92,334.03 L639.06,334.04 L638.19,334.04 L637.33,334.05 L636.46,334.05 L635.59,334.06 L634.73,334.06 L633.86,334.07 L633.00,334.08 L632.13,334.08 L631.27,334.09 L630.40,334.09 L629.54,334.10 L628.67,334.10 L627.81,334.11 L626.94,334.12 L626.08,334.12 L625.21,334.13 L624.35,334.14 L623.48,334.14 L622.61,334.15 L621.75,334.16 L620.88,334.16 L620.02,334.17 L619.15,334.18 L618.29,334.18 L617.42,334.19 L616.56,334.20 L615.69,334.21 L614.83,334.21 L613.96,334.22 L613.10,334.23 L612.23,334.24 L611.37,334.25 L610.50,334.25 L609.64,334.26 L608.77,334.27 L607.90,334.28 L607.04,334.29 L606.17,334.30 L605.31,334.31 L604.44,334.32 L603.58,334.33 L602.71,334.35 L601.85,334.36 L600.98,334.38 L600.12,334.40 L599.25,334.42 L598.39,334.45 L597.52,334.47 L596.66,334.50 L595.79,334.53 L594.92,334.56 L594.06,334.59 L593.19,334.63 L592.33,334.66 L591.46,334.70 L590.60,334.74 L589.73,334.78 L588.87,334.82 L588.00,334.86 L587.14,334.90 L586.27,334.95 L585.41,334.99 L584.54,335.04 L583.68,335.09 L582.81,335.14 L581.94,335.19 L581.08,335.24 L580.21,335.29 L579.35,335.34 L578.48,335.40 L577.62,335.45 L576.75,335.52 L575.89,335.59 L575.02,335.66 L574.16,335.75 L573.29,335.83 L572.43,335.93 L571.56,336.03 L570.70,336.13 L569.83,336.24 L568.96,336.35 L568.10,336.46 L567.23,336.58 L566.37,336.70 L565.50,336.82 L564.64,336.95 L563.77,337.07 L562.91,337.20 L562.04,337.33 L561.18,337.46 L560.31,337.59 L559.45,337.73 L558.58,337.87 L557.72,338.02 L556.85,338.18 L555.98,338.34 L555.12,338.51 L554.25,338.68 L553.39,338.87 L552.52,339.07 L551.66,339.27 L550.79,339.49 L549.93,339.73 L549.06,339.99 L548.20,340.27 L547.33,340.58 L546.47,340.90 L545.60,341.25 L544.74,341.60 L543.87,341.97 L543.00,342.36 L542.14,342.75 L541.27,343.14 L540.41,343.54 L539.54,343.94 L538.68,344.35 L537.81,344.76 L536.95,345.19 L536.08,345.63 L535.22,346.08 L534.35,346.55 L533.49,347.03 L532.62,347.53 L531.76,348.04 L530.89,348.56 L530.02,349.10 L529.16,349.66 L528.29,350.22 L527.43,350.81 L526.56,351.43 L525.70,352.06 L524.83,352.73 L523.97,353.43 L523.10,354.17 L522.24,354.94 L521.37,355.76 L520.51,356.63 L519.64,357.55 L518.78,358.51 L517.91,359.53 L517.04,360.59 L516.18,361.71 L515.31,362.89 L514.45,364.16 L513.58,365.54 L512.72,366.99 L511.85,368.52 L510.99,370.11 L510.12,371.73 L509.26,373.41 L508.39,375.19 L507.53,377.06 L506.66,378.99 L505.80,380.96 L504.93,382.94 L504.07,384.90 L503.20,386.85 L502.33,388.80 L501.47,390.78 L500.60,392.76 L499.74,394.76 L498.87,396.77 L498.01,398.78 L497.14,400.80 L496.28,402.83 L495.41,404.87 L494.55,406.92 L493.68,408.97 L492.82,411.04 L491.95,413.11 L491.09,415.19 L490.22,417.27 L489.35,419.37 L488.49,421.50 L487.62,423.63 L486.76,425.77 L485.89,427.89 L485.03,430.00 L484.16,432.08 L483.30,434.16 L482.43,436.25 L481.57,438.33 L480.70,440.39 L479.84,442.42 L478.97,444.41 L478.11,446.34 L477.24,448.20 L476.37,450.02 L475.51,451.82 L474.64,453.59 L473.78,455.32 L472.91,456.99 L472.05,458.60 L471.18,460.13 L470.32,461.58 L469.45,462.96 L468.59,464.30 L467.72,465.58 L466.86,466.83 L465.99,468.04 L465.13,468.99 L464.26,469.88 L463.39,470.75 L462.53,471.61 L461.66,472.46 L460.80,473.30 L459.93,474.12 L459.07,474.93 L458.20,475.72 L457.34,476.51 L456.47,477.27 L455.61,478.03 L454.74,478.76 L453.88,479.39 L453.01,480.09 L452.15,480.84 L451.28,481.56 Z" fill="rgb(248,150,165)" fill-opacity="0.3" stroke="none"/>
<path d="M451.28,495.30 L452.03,495.30 L452.78,495.29 L453.53,495.28 L454.28,495.26 L455.03,495.24 L455.78,495.22 L456.53,495.19 L457.28,495.16 L458.03,495.13 L458.78,495.09 L459.53,495.02 L460.27,494.91 L461.02,494.77 L461.77,494.60 L462.52,494.41 L463.27,494.21 L464.02,494.00 L464.77,493.77 L465.52,493.55 L466.27,493.34 L467.02,493.13 L467.77,492.94 L468.52,492.74 L469.27,492.54 L470.02,492.33 L470.77,492.12 L471.52,491.91 L472.27,491.69 L473.02,491.47 L473.77,491.25 L474.52,491.03 L475.27,490.80 L476.02,490.58 L476.77,490.35 L477.51,490.11 L478.26,489.86 L479.01,489.62 L479.76,489.37 L480.51,489.11 L481.26,488.86 L482.01,488.61 L482.76,488.37 L483.51,488.13 L484.26,487.89 L485.01,487.66 L485.76,487.44 L486.51,487.22 L487.26,487.01 L488.01,486.80 L488.76,486.59 L489.51,486.39 L490.26,486.18 L491.01,485.97 L491.76,485.77 L492.51,485.56 L493.26,485.35 L494.01,485.13 L494.75,484.92 L495.50,484.69 L496.25,484.47 L497.00,484.24 L497.75,484.01 L498.50,483.78 L499.25,483.56 L500.00,483.33 L500.75,483.10 L501.50,482.87 L502.25,482.65 L503.00,482.43 L503.75,482.22 L504.50,482.01 L505.25,481.80 L506.00,481.60 L506.75,481.41 L507.50,481.23 L508.25,481.05 L509.00,480.88 L509.75,480.71 L510.50,480.54 L511.25,480.38 L511.99,480.21 L512.74,480.06 L513.49,479.90 L514.24,479.75 L514.99,479.61 L515.74,479.46 L516.49,479.33 L517.24,479.20 L517.99,479.07 L518.74,478.95 L519.49,478.83 L520.24,478.72 L520.99,478.62 L521.74,478.51 L522.49,478.40 L523.24,478.30 L523.99,478.20 L524.74,478.11 L525.49,478.01 L526.24,477.92 L526.99,477.83 L527.74,477.74 L528.49,477.66 L529.23,477.58 L529.98,477.50 L530.73,477.42 L531.48,477.35 L532.23,477.28 L532.98,477.21 L533.73,477.15 L534.48,477.09 L535.23,477.02 L535.98,476.96 L536.73,476.90 L537.48,476.84 L538.23,476.79 L538.98,476.73 L539.73,476.68 L540.48,476.62 L541.23,476.57 L541.98,476.52 L542.73,476.47 L543.48,476.42 L544.23,476.37 L544.98,476.33 L545.73,476.28 L546.47,476.24 L547.22,476.20 L547.97,476.16 L548.72,476.13 L549.47,476.09 L550.22,476.06 L550.97,476.03 L551.72,476.00 L552.47,475.97 L553.22,475.94 L553.97,475.91 L554.72,475.88 L555.47,475.86 L556.22,475.83 L556.97,475.80 L557.72,475.78 L558.47,475.76 L559.22,475.73 L559.97,475.71 L560.72,475.69 L561.47,475.66 L562.22,475.64 L562.97,475.62 L563.71,475.60 L564.46,475.58 L565.21,475.57 L565.96,475.55 L566.71,475.53 L567.46,475.52 L568.21,475.50 L568.96,475.49 L569.71,475.47 L570.46,475.46 L571.21,475.45 L571.96,475.44 L572.71,475.42 L573.46,475.41 L574.21,475.40 L574.96,475.39 L575.71,475.38 L576.46,475.37 L577.21,475.36 L577.96,475.35 L578.71,475.34 L579.46,475.33 L580.21,475.33 L580.95,475.32 L581.70,475.31 L582.45,475.30 L583.20,475.29 L583.95,475.28 L584.70,475.28 L585.45,475.27 L586.20,475.26 L586.95,475.25 L587.70,475.24 L588.45,475.24 L589.20,475.23 L589.95,475.22 L590.70,475.22 L591.45,475.21 L592.20,475.20 L592.95,475.20 L593.70,475.19 L594.45,475.18 L595.20,475.18 L595.95,475.17 L596.70,475.17 L597.45,475.16 L598.19,475.15 L598.94,475.15 L599.69,475.14 L600.44,475.14 L601.19,475.13 L601.94,475.13 L602.69,475.12 L603.44,475.11 L604.19,475.11 L604.94,475.10 L605.69,475.10 L606.44,475.09 L607.19,475.09 L607.94,475.08 L608.69,475.08 L609.44,475.07 L610.19,475.06 L610.94,475.06 L611.69,475.05 L612.44,475.05 L613.19,475.04 L613.94,475.04 L614.69,475.03 L615.43,475.03 L616.18,475.02 L616.93,475.01 L617.68,475.01 L618.43,475.00 L619.18,475.00 L619.93,474.99 L620.68,474.99 L621.43,474.98 L622.18,474.98 L622.93,474.97 L623.68,474.97 L624.43,474.96 L625.18,474.96 L625.93,474.95 L626.68,474.95 L627.43,474.94 L628.18,474.94 L628.93,474.93 L629.68,474.93 L630.43,474.92 L631.18,474.92 L631.93,474.91 L632.67,474.91 L633.42,474.90 L634.17,474.90 L634.92,474.89 L635.67,474.89 L636.42,474.88 L637.17,474.88 L637.92,474.87 L638.67,474.87 L639.42,474.86 L640.17,474.86 L640.92,474.85 L641.67,474.85 L642.42,474.84 L643.17,474.84 L643.92,474.83 L644.67,474.83 L645.42,474.83 L646.17,474.82 L646.92,474.82 L647.67,474.81 L648.42,474.81 L649.17,474.80 L649.91,474.80 L650.66,474.80 L651.41,474.79 L652.16,474.79 L652.91,474.78 L653.66,474.78 L654.41,474.78 L655.16,474.77 L655.91,474.77 L656.66,474.77 L657.41,474.76 L658.16,474.76 L658.91,474.75 L659.66,474.75 L660.41,474.75 L661.16,474.74 L661.91,474.74 L662.66,474.74 L663.41,474.73 L664.16,474.73 L664.91,474.73 L665.66,474.72 L666.41,474.72 L667.15,474.72 L667.90,474.72 L668.65,474.71 L669.40,474.71 L670.15,474.71 L670.90,474.70 L671.65,474.70 L672.40,474.70 L673.15,474.70 L673.90,474.69 L674.65,474.69 L675.40,474.69" fill="none" stroke="#5050b4" stroke-width="1.2" stroke-linejoin="round"/>
<path d="M451.28,481.31 L452.03,480.56 L452.78,479.78 L453.53,478.99 L454.28,478.17 L455.03,477.34 L455.78,476.48 L456.53,475.60 L457.28,474.71 L458.03,473.79 L458.78,472.86 L459.53,471.91 L460.27,470.95 L461.02,469.96 L461.77,468.96 L462.52,467.93 L463.27,466.88 L464.02,465.80 L464.77,464.69 L465.52,463.55 L466.27,462.37 L467.02,461.15 L467.77,459.89 L468.52,458.56 L469.27,457.17 L470.02,455.73 L470.77,454.24 L471.52,452.72 L472.27,451.16 L473.02,449.57 L473.77,447.96 L474.52,446.34 L475.27,444.67 L476.02,442.96 L476.77,441.20 L477.51,439.41 L478.26,437.59 L479.01,435.76 L479.76,433.92 L480.51,432.07 L481.26,430.24 L482.01,428.40 L482.76,426.54 L483.51,424.67 L484.26,422.79 L485.01,420.90 L485.76,419.02 L486.51,417.16 L487.26,415.31 L488.01,413.47 L488.76,411.64 L489.51,409.81 L490.26,407.99 L491.01,406.17 L491.76,404.36 L492.51,402.56 L493.26,400.76 L494.01,398.98 L494.75,397.19 L495.50,395.41 L496.25,393.64 L497.00,391.88 L497.75,390.12 L498.50,388.37 L499.25,386.63 L500.00,384.91 L500.75,383.19 L501.50,381.46 L502.25,379.72 L503.00,377.98 L503.75,376.26 L504.50,374.57 L505.25,372.93 L506.00,371.35 L506.75,369.86 L507.50,368.42 L508.25,367.00 L509.00,365.62 L509.75,364.29 L510.50,363.02 L511.25,361.81 L511.99,360.67 L512.74,359.62 L513.49,358.62 L514.24,357.65 L514.99,356.73 L515.74,355.84 L516.49,355.00 L517.24,354.19 L517.99,353.41 L518.74,352.68 L519.49,351.97 L520.24,351.31 L520.99,350.67 L521.74,350.05 L522.49,349.47 L523.24,348.90 L523.99,348.35 L524.74,347.83 L525.49,347.32 L526.24,346.82 L526.99,346.34 L527.74,345.86 L528.49,345.40 L529.23,344.95 L529.98,344.51 L530.73,344.08 L531.48,343.66 L532.23,343.25 L532.98,342.85 L533.73,342.46 L534.48,342.08 L535.23,341.71 L535.98,341.35 L536.73,341.00 L537.48,340.64 L538.23,340.29 L538.98,339.94 L539.73,339.60 L540.48,339.26 L541.23,338.93 L541.98,338.61 L542.73,338.30 L543.48,338.00 L544.23,337.72 L544.98,337.45 L545.73,337.20 L546.47,336.96 L547.22,336.74 L547.97,336.54 L548.72,336.36 L549.47,336.17 L550.22,336.00 L550.97,335.84 L551.72,335.68 L552.47,335.53 L553.22,335.38 L553.97,335.24 L554.72,335.11 L555.47,334.98 L556.22,334.85 L556.97,334.73 L557.72,334.61 L558.47,334.49 L559.22,334.38 L559.97,334.27 L560.72,334.15 L561.47,334.04 L562.22,333.93 L562.97,333.83 L563.71,333.72 L564.46,333.61 L565.21,333.51 L565.96,333.41 L566.71,333.31 L567.46,333.22 L568.21,333.13 L568.96,333.04 L569.71,332.96 L570.46,332.88 L571.21,332.80 L571.96,332.73 L572.71,332.66 L573.46,332.60 L574.21,332.54 L574.96,332.49 L575.71,332.44 L576.46,332.40 L577.21,332.35 L577.96,332.30 L578.71,332.26 L579.46,332.21 L580.21,332.17 L580.95,332.13 L581.70,332.09 L582.45,332.04 L583.20,332.00 L583.95,331.96 L584.70,331.93 L585.45,331.89 L586.20,331.85 L586.95,331.82 L587.70,331.78 L588.45,331.75 L589.20,331.72 L589.95,331.69 L590.70,331.66 L591.45,331.63 L592.20,331.60 L592.95,331.57 L593.70,331.55 L594.45,331.52 L595.20,331.50 L595.95,331.48 L596.70,331.46 L597.45,331.44 L598.19,331.42 L598.94,331.41 L599.69,331.39 L600.44,331.38 L601.19,331.37 L601.94,331.36 L602.69,331.35 L603.44,331.34 L604.19,331.33 L604.94,331.33 L605.69,331.32 L606.44,331.31 L607.19,331.30 L607.94,331.30 L608.69,331.29 L609.44,331.28 L610.19,331.28 L610.94,331.27 L611.69,331.26 L612.44,331.25 L613.19,331.25 L613.94,331.24 L614.69,331.23 L615.43,331.23 L616.18,331.22 L616.93,331.22 L617.68,331.21 L618.43,331.20 L619.18,331.20 L619.93,331.19 L620.68,331.19 L621.43,331.18 L622.18,331.17 L622.93,331.17 L623.68,331.16 L624.43,331.16 L625.18,331.15 L625.93,331.15 L626.68,331.14 L627.43,331.14 L628.18,331.13 L628.93,331.13 L629.68,331.12 L630.43,331.12 L631.18,331.11 L631.93,331.11 L632.67,331.10 L633.42,331.10 L634.17,331.09 L634.92,331.09 L635.67,331.08 L636.42,331.08 L637.17,331.08 L637.92,331.07 L638.67,331.07 L639.42,331.06 L640.17,331.06 L640.92,331.06 L641.67,331.05 L642.42,331.05 L643.17,331.05 L643.92,331.04 L644.67,331.04 L645.42,331.04 L646.17,331.03 L646.92,331.03 L647.67,331.03 L648.42,331.02 L649.17,331.02 L649.91,331.02 L650.66,331.02 L651.41,331.01 L652.16,331.01 L652.91,331.01 L653.66,331.01 L654.41,331.00 L655.16,331.00 L655.91,331.00 L656.66,331.00 L657.41,331.00 L658.16,330.99 L658.91,330.99 L659.66,330.99 L660.41,330.99 L661.16,330.99 L661.91,330.98 L662.66,330.98 L663.41,330.98 L664.16,330.98 L664.91,330.98 L665.66,330.98 L666.41,330.98 L667.15,330.98 L667.90,330.98 L668.65,330.98 L669.40,330.97 L670.15,330.97 L670.90,330.97 L671.65,330.97 L672.40,330.97 L673.15,330.97 L673.90,330.97 L674.65,330.97 L675.40,330.97" fill="none" stroke="#e04242" stroke-width="1.3" stroke-dasharray="3.1,3.1" stroke-linejoin="round"/>
<text x="415.40" y="512.70" font-size="15.5" text-anchor="middle">0</text>
<text x="467.40" y="512.70" font-size="15.5" text-anchor="middle">50</text>
<text x="519.40" y="512.70" font-size="15.5" text-anchor="middle">100</text>
<text x="571.40" y="512.70" font-size="15.5" text-anchor="middle">150</text>
<text x="623.40" y="512.70" font-size="15.5" text-anchor="middle">200</text>
<text x="675.40" y="512.70" font-size="15.5" text-anchor="middle">250</text>
<text x="411.40" y="498.80" font-size="15.5" text-anchor="end">0</text>
<text x="411.40" y="460.98" font-size="15.5" text-anchor="end">20</text>
<text x="411.40" y="423.16" font-size="15.5" text-anchor="end">40</text>
<text x="411.40" y="385.34" font-size="15.5" text-anchor="end">60</text>
<text x="411.40" y="347.52" font-size="15.5" text-anchor="end">80</text>
<text x="411.40" y="309.70" font-size="15.5" text-anchor="end">100</text>
<text transform="translate(545.80,298.80) scale(1,0.92)" font-size="17.5" text-anchor="middle">UK</text>
<text transform="translate(546.60,533.10) scale(1,0.92)" font-size="17.8" text-anchor="middle">Time (in days)</text>
<text transform="translate(381.60,401.75) rotate(-90) scale(1,0.92)" font-size="17.8" text-anchor="middle">Infected (in % population)</text>
<rect x="569.40" y="373.00" width="97.70" height="61.10" fill="#fff" stroke="#6b6b6b" stroke-width="1"/>
<path d="M571.60,381.50 H593.40" stroke="#ec5a5a" stroke-width="1.1" stroke-dasharray="3.3,2.8"/>
<text x="597.90" y="385.40" font-size="14.1"><tspan font-style="italic">w</tspan><tspan font-style="italic" font-size="9.6" dy="1.8">m</tspan><tspan dy="-1.8" dx="0.6">(</tspan><tspan font-style="italic">t</tspan>)</text>
<rect x="571.60" y="390.65" width="24.50" height="11.4" fill="#fde0e4"/>
<text x="597.90" y="400.95" font-size="14.1">2% par. var.</text>
<path d="M571.60,411.20 H596.10" stroke="#5c5cc0" stroke-width="1.2"/>
<text x="597.90" y="415.40" font-size="14.1"><tspan font-style="italic">w</tspan>(<tspan font-style="italic">t</tspan>)</text>
<rect x="571.60" y="420.35" width="24.50" height="11.4" fill="#e6f2fb"/>
<text x="597.90" y="430.65" font-size="14.1">2% par. var.</text>
<path d="M55.50,593.50 V782.30 M66.01,593.50 V782.30 M76.51,593.50 V782.30 M87.02,593.50 V782.30 M108.02,593.50 V782.30 M118.53,593.50 V782.30 M129.03,593.50 V782.30 M139.54,593.50 V782.30 M160.54,593.50 V782.30 M171.05,593.50 V782.30 M181.55,593.50 V782.30 M192.06,593.50 V782.30 M213.06,593.50 V782.30 M223.57,593.50 V782.30 M234.07,593.50 V782.30 M244.58,593.50 V782.30 M265.58,593.50 V782.30 M276.09,593.50 V782.30 M286.59,593.50 V782.30 M297.10,593.50 V782.30 M45.00,772.86 H307.60 M45.00,763.42 H307.60 M45.00,753.98 H307.60 M45.00,735.10 H307.60 M45.00,725.66 H307.60 M45.00,716.22 H307.60 M45.00,697.34 H307.60 M45.00,687.90 H307.60 M45.00,678.46 H307.60 M45.00,659.58 H307.60 M45.00,650.14 H307.60 M45.00,640.70 H307.60 M45.00,621.82 H307.60 M45.00,612.38 H307.60 M45.00,602.94 H307.60" stroke="#e9e9e9" stroke-width="0.9" stroke-dasharray="1.2,1.35" fill="none"/>
<path d="M97.50,593.50 V782.30 M150.50,593.50 V782.30 M202.50,593.50 V782.30 M255.50,593.50 V782.30 M45.00,744.50 H307.60 M45.00,706.50 H307.60 M45.00,669.50 H307.60 M45.00,631.50 H307.60" stroke="#f2f2f2" stroke-width="1" fill="none"/>
<path d="M97.52,782.30 v-2.6 M97.52,593.50 v2.6 M150.04,782.30 v-2.6 M150.04,593.50 v2.6 M202.56,782.30 v-2.6 M202.56,593.50 v2.6 M255.08,782.30 v-2.6 M255.08,593.50 v2.6 M45.00,744.54 h2.6 M307.60,744.54 h-2.6 M45.00,706.78 h2.6 M307.60,706.78 h-2.6 M45.00,669.02 h2.6 M307.60,669.02 h-2.6 M45.00,631.26 h2.6 M307.60,631.26 h-2.6" stroke="#777" stroke-width="1" fill="none"/>
<rect x="45.00" y="593.50" width="262.60" height="188.80" fill="none" stroke="#808080" stroke-width="1"/>
<path d="M70.21,782.30 L71.13,782.24 L72.04,782.08 L72.96,781.82 L73.88,781.49 L74.79,781.10 L75.71,780.65 L76.63,779.85 L77.54,778.64 L78.46,777.09 L79.38,775.28 L80.29,773.27 L81.21,771.15 L82.12,768.97 L83.04,766.54 L83.96,763.69 L84.87,760.50 L85.79,757.05 L86.71,753.42 L87.62,749.69 L88.54,745.93 L89.46,742.21 L90.37,738.35 L91.29,734.33 L92.21,730.18 L93.12,725.94 L94.04,721.64 L94.96,717.31 L95.87,712.78 L96.79,708.06 L97.71,703.31 L98.62,698.69 L99.54,694.36 L100.46,690.41 L101.37,686.62 L102.29,682.97 L103.21,679.45 L104.12,676.07 L105.04,672.83 L105.96,669.73 L106.87,666.79 L107.79,663.98 L108.71,661.28 L109.62,658.70 L110.54,656.25 L111.46,653.93 L112.37,651.74 L113.29,649.65 L114.20,647.64 L115.12,645.73 L116.04,643.93 L116.95,642.28 L117.87,640.79 L118.79,639.42 L119.70,638.14 L120.62,636.93 L121.54,635.77 L122.45,634.67 L123.37,633.61 L124.29,632.58 L125.20,631.57 L126.12,630.56 L127.04,629.55 L127.95,628.56 L128.87,627.59 L129.79,626.64 L130.70,625.72 L131.62,624.82 L132.54,623.95 L133.45,623.12 L134.37,622.32 L135.29,621.55 L136.20,620.80 L137.12,620.08 L138.04,619.39 L138.95,618.73 L139.87,618.10 L140.79,617.50 L141.70,616.90 L142.62,616.31 L143.53,615.74 L144.45,615.19 L145.37,614.66 L146.28,614.15 L147.20,613.68 L148.12,613.23 L149.03,612.83 L149.95,612.45 L150.87,612.08 L151.78,611.73 L152.70,611.38 L153.62,611.06 L154.53,610.75 L155.45,610.45 L156.37,610.18 L157.28,609.92 L158.20,609.69 L159.12,609.48 L160.03,609.29 L160.95,609.12 L161.87,608.95 L162.78,608.79 L163.70,608.63 L164.62,608.48 L165.53,608.33 L166.45,608.19 L167.37,608.05 L168.28,607.92 L169.20,607.80 L170.12,607.68 L171.03,607.56 L171.95,607.45 L172.86,607.35 L173.78,607.25 L174.70,607.15 L175.61,607.06 L176.53,606.97 L177.45,606.89 L178.36,606.81 L179.28,606.73 L180.20,606.66 L181.11,606.59 L182.03,606.52 L182.95,606.45 L183.86,606.39 L184.78,606.33 L185.70,606.27 L186.61,606.21 L187.53,606.15 L188.45,606.10 L189.36,606.05 L190.28,606.00 L191.20,605.95 L192.11,605.90 L193.03,605.85 L193.95,605.81 L194.86,605.77 L195.78,605.73 L196.70,605.68 L197.61,605.65 L198.53,605.61 L199.45,605.57 L200.36,605.53 L201.28,605.50 L202.19,605.46 L203.11,605.43 L204.03,605.39 L204.94,605.36 L205.86,605.32 L206.78,605.29 L207.69,605.26 L208.61,605.23 L209.53,605.20 L210.44,605.17 L211.36,605.14 L212.28,605.11 L213.19,605.08 L214.11,605.05 L215.03,605.03 L215.94,605.00 L216.86,604.97 L217.78,604.95 L218.69,604.92 L219.61,604.90 L220.53,604.87 L221.44,604.85 L222.36,604.82 L223.28,604.80 L224.19,604.78 L225.11,604.75 L226.03,604.73 L226.94,604.71 L227.86,604.69 L228.78,604.67 L229.69,604.65 L230.61,604.62 L231.53,604.60 L232.44,604.58 L233.36,604.56 L234.27,604.54 L235.19,604.52 L236.11,604.50 L237.02,604.48 L237.94,604.46 L238.86,604.44 L239.77,604.42 L240.69,604.40 L241.61,604.38 L242.52,604.36 L243.44,604.34 L244.36,604.32 L245.27,604.30 L246.19,604.28 L247.11,604.26 L248.02,604.24 L248.94,604.22 L249.86,604.20 L250.77,604.18 L251.69,604.16 L252.61,604.14 L253.52,604.12 L254.44,604.11 L255.36,604.09 L256.27,604.07 L257.19,604.05 L258.11,604.03 L259.02,604.01 L259.94,604.00 L260.86,603.98 L261.77,603.96 L262.69,603.94 L263.60,603.92 L264.52,603.91 L265.44,603.89 L266.35,603.87 L267.27,603.86 L268.19,603.84 L269.10,603.82 L270.02,603.81 L270.94,603.79 L271.85,603.77 L272.77,603.76 L273.69,603.74 L274.60,603.73 L275.52,603.71 L276.44,603.70 L277.35,603.68 L278.27,603.67 L279.19,603.65 L280.10,603.64 L281.02,603.62 L281.94,603.61 L282.85,603.60 L283.77,603.58 L284.69,603.57 L285.60,603.56 L286.52,603.54 L287.44,603.53 L288.35,603.52 L289.27,603.51 L290.19,603.50 L291.10,603.48 L292.02,603.47 L292.93,603.46 L293.85,603.45 L294.77,603.44 L295.68,603.43 L296.60,603.42 L297.52,603.41 L298.43,603.40 L299.35,603.39 L300.27,603.38 L301.18,603.37 L302.10,603.36 L303.02,603.35 L303.93,603.35 L304.85,603.34 L305.77,603.33 L306.68,603.32 L307.60,603.32 L307.60,701.30 L306.68,701.31 L305.77,701.32 L304.85,701.32 L303.93,701.33 L303.02,701.34 L302.10,701.34 L301.18,701.35 L300.27,701.36 L299.35,701.36 L298.43,701.37 L297.52,701.38 L296.60,701.39 L295.68,701.39 L294.77,701.40 L293.85,701.41 L292.93,701.42 L292.02,701.43 L291.10,701.44 L290.19,701.44 L289.27,701.45 L288.35,701.46 L287.44,701.47 L286.52,701.48 L285.60,701.49 L284.69,701.50 L283.77,701.51 L282.85,701.52 L281.94,701.53 L281.02,701.54 L280.10,701.55 L279.19,701.56 L278.27,701.57 L277.35,701.58 L276.44,701.59 L275.52,701.60 L274.60,701.61 L273.69,701.63 L272.77,701.64 L271.85,701.65 L270.94,701.66 L270.02,701.67 L269.10,701.68 L268.19,701.69 L267.27,701.71 L266.35,701.72 L265.44,701.73 L264.52,701.74 L263.60,701.75 L262.69,701.77 L261.77,701.78 L260.86,701.79 L259.94,701.80 L259.02,701.82 L258.11,701.83 L257.19,701.84 L256.27,701.85 L255.36,701.87 L254.44,701.88 L253.52,701.89 L252.61,701.91 L251.69,701.92 L250.77,701.93 L249.86,701.95 L248.94,701.96 L248.02,701.97 L247.11,701.99 L246.19,702.00 L245.27,702.02 L244.36,702.03 L243.44,702.05 L242.52,702.06 L241.61,702.08 L240.69,702.09 L239.77,702.11 L238.86,702.12 L237.94,702.14 L237.02,702.16 L236.11,702.17 L235.19,702.19 L234.27,702.21 L233.36,702.22 L232.44,702.24 L231.53,702.26 L230.61,702.28 L229.69,702.29 L228.78,702.31 L227.86,702.33 L226.94,702.35 L226.03,702.37 L225.11,702.39 L224.19,702.41 L223.28,702.43 L222.36,702.45 L221.44,702.47 L220.53,702.49 L219.61,702.51 L218.69,702.53 L217.78,702.55 L216.86,702.57 L215.94,702.59 L215.03,702.61 L214.11,702.64 L213.19,702.66 L212.28,702.68 L211.36,702.71 L210.44,702.73 L209.53,702.75 L208.61,702.78 L207.69,702.80 L206.78,702.83 L205.86,702.85 L204.94,702.88 L204.03,702.90 L203.11,702.93 L202.19,702.96 L201.28,702.98 L200.36,703.01 L199.45,703.04 L198.53,703.07 L197.61,703.10 L196.70,703.13 L195.78,703.16 L194.86,703.20 L193.95,703.23 L193.03,703.27 L192.11,703.30 L191.20,703.34 L190.28,703.38 L189.36,703.42 L188.45,703.46 L187.53,703.50 L186.61,703.55 L185.70,703.59 L184.78,703.64 L183.86,703.69 L182.95,703.74 L182.03,703.79 L181.11,703.85 L180.20,703.91 L179.28,703.97 L178.36,704.04 L177.45,704.11 L176.53,704.18 L175.61,704.26 L174.70,704.34 L173.78,704.43 L172.86,704.52 L171.95,704.62 L171.03,704.71 L170.12,704.82 L169.20,704.92 L168.28,705.04 L167.37,705.15 L166.45,705.27 L165.53,705.39 L164.62,705.52 L163.70,705.66 L162.78,705.82 L161.87,705.99 L160.95,706.17 L160.03,706.36 L159.12,706.56 L158.20,706.77 L157.28,707.00 L156.37,707.23 L155.45,707.47 L154.53,707.72 L153.62,707.98 L152.70,708.24 L151.78,708.51 L150.87,708.79 L149.95,709.07 L149.03,709.35 L148.12,709.64 L147.20,709.94 L146.28,710.24 L145.37,710.56 L144.45,710.88 L143.53,711.22 L142.62,711.57 L141.70,711.93 L140.79,712.31 L139.87,712.69 L138.95,713.09 L138.04,713.51 L137.12,713.93 L136.20,714.37 L135.29,714.82 L134.37,715.29 L133.45,715.77 L132.54,716.27 L131.62,716.78 L130.70,717.30 L129.79,717.85 L128.87,718.43 L127.95,719.06 L127.04,719.74 L126.12,720.46 L125.20,721.22 L124.29,722.00 L123.37,722.80 L122.45,723.63 L121.54,724.46 L120.62,725.31 L119.70,726.17 L118.79,727.06 L117.87,727.97 L116.95,728.90 L116.04,729.87 L115.12,730.86 L114.20,731.88 L113.29,732.93 L112.37,734.02 L111.46,735.15 L110.54,736.31 L109.62,737.52 L108.71,738.81 L107.79,740.18 L106.87,741.61 L105.96,743.10 L105.04,744.64 L104.12,746.21 L103.21,747.80 L102.29,749.40 L101.37,751.01 L100.46,752.70 L99.54,754.46 L98.62,756.26 L97.71,758.09 L96.79,759.92 L95.87,761.74 L94.96,763.50 L94.04,765.20 L93.12,766.82 L92.21,768.37 L91.29,769.95 L90.37,771.54 L89.46,773.09 L88.54,774.56 L87.62,775.91 L86.71,777.11 L85.79,778.11 L84.87,778.91 L83.96,779.63 L83.04,780.27 L82.12,780.81 L81.21,781.21 L80.29,781.46 L79.38,781.67 L78.46,781.86 L77.54,782.03 L76.63,782.16 L75.71,782.25 L74.79,782.30 L73.88,782.30 L72.96,782.30 L72.04,782.30 L71.13,782.30 L70.21,782.30 Z" fill="rgb(60,160,230)" fill-opacity="0.13" stroke="none"/>
<path d="M45.00,782.30 L46.01,782.30 L47.03,782.30 L48.04,782.30 L49.06,782.30 L50.07,782.30 L51.08,782.30 L52.10,782.30 L53.11,782.30 L54.13,782.30 L55.14,782.30 L56.15,782.30 L57.17,782.30 L58.18,782.30 L59.19,782.30 L60.21,782.30 L61.22,782.30 L62.24,782.30 L63.25,782.30 L64.26,782.30 L65.28,782.29 L66.29,782.21 L67.31,782.05 L68.32,781.81 L69.33,781.51 L70.35,781.15 L71.36,780.39 L72.38,779.28 L73.39,777.98 L74.40,776.65 L75.42,775.43 L76.43,774.30 L77.44,773.12 L78.46,771.79 L79.47,770.20 L80.49,768.10 L81.50,765.47 L82.51,762.57 L83.53,759.64 L84.54,756.49 L85.56,753.22 L86.57,750.07 L87.58,746.91 L88.60,743.75 L89.61,740.63 L90.63,737.59 L91.64,734.66 L92.65,731.88 L93.67,729.20 L94.68,726.61 L95.69,724.10 L96.71,721.67 L97.72,719.31 L98.74,717.02 L99.75,714.81 L100.76,712.69 L101.78,710.64 L102.79,708.67 L103.81,706.78 L104.82,704.98 L105.83,703.21 L106.85,701.43 L107.86,699.62 L108.88,697.77 L109.89,695.90 L110.90,694.05 L111.92,692.25 L112.93,690.51 L113.95,688.81 L114.96,687.14 L115.97,685.51 L116.99,683.95 L118.00,682.46 L119.01,681.05 L120.03,679.67 L121.04,678.34 L122.06,677.07 L123.07,675.87 L124.08,674.76 L125.10,673.75 L126.11,672.79 L127.13,671.88 L128.14,671.02 L129.15,670.21 L130.17,669.45 L131.18,668.74 L132.20,668.09 L133.21,667.51 L134.22,666.99 L135.24,666.48 L136.25,665.97 L137.26,665.42 L138.28,664.83 L139.29,664.25 L140.31,663.76 L141.32,663.30 L142.33,662.86 L143.35,662.44 L144.36,662.04 L145.38,661.66 L146.39,661.30 L147.40,660.96 L148.42,660.66 L149.43,660.38 L150.45,660.13 L151.46,659.89 L152.47,659.67 L153.49,659.47 L154.50,659.28 L155.52,659.09 L156.53,658.92 L157.54,658.75 L158.56,658.59 L159.57,658.44 L160.58,658.29 L161.60,658.15 L162.61,658.00 L163.63,657.86 L164.64,657.71 L165.65,657.58 L166.67,657.44 L167.68,657.32 L168.70,657.20 L169.71,657.09 L170.72,657.00 L171.74,656.91 L172.75,656.84 L173.77,656.78 L174.78,656.73 L175.79,656.67 L176.81,656.62 L177.82,656.58 L178.83,656.53 L179.85,656.49 L180.86,656.45 L181.88,656.41 L182.89,656.38 L183.90,656.35 L184.92,656.32 L185.93,656.29 L186.95,656.27 L187.96,656.25 L188.97,656.23 L189.99,656.21 L191.00,656.19 L192.02,656.17 L193.03,656.16 L194.04,656.14 L195.06,656.13 L196.07,656.11 L197.08,656.10 L198.10,656.09 L199.11,656.07 L200.13,656.06 L201.14,656.05 L202.15,656.04 L203.17,656.02 L204.18,656.01 L205.20,656.00 L206.21,655.99 L207.22,655.98 L208.24,655.97 L209.25,655.96 L210.27,655.95 L211.28,655.94 L212.29,655.94 L213.31,655.93 L214.32,655.92 L215.34,655.91 L216.35,655.90 L217.36,655.89 L218.38,655.89 L219.39,655.88 L220.40,655.87 L221.42,655.86 L222.43,655.86 L223.45,655.85 L224.46,655.84 L225.47,655.83 L226.49,655.83 L227.50,655.82 L228.52,655.81 L229.53,655.81 L230.54,655.80 L231.56,655.79 L232.57,655.78 L233.59,655.78 L234.60,655.77 L235.61,655.76 L236.63,655.75 L237.64,655.75 L238.65,655.74 L239.67,655.73 L240.68,655.73 L241.70,655.72 L242.71,655.71 L243.72,655.71 L244.74,655.70 L245.75,655.69 L246.77,655.68 L247.78,655.68 L248.79,655.67 L249.81,655.66 L250.82,655.66 L251.84,655.65 L252.85,655.65 L253.86,655.64 L254.88,655.63 L255.89,655.63 L256.91,655.62 L257.92,655.61 L258.93,655.61 L259.95,655.60 L260.96,655.60 L261.97,655.59 L262.99,655.58 L264.00,655.58 L265.02,655.57 L266.03,655.57 L267.04,655.56 L268.06,655.56 L269.07,655.55 L270.09,655.54 L271.10,655.54 L272.11,655.53 L273.13,655.53 L274.14,655.52 L275.16,655.52 L276.17,655.51 L277.18,655.51 L278.20,655.50 L279.21,655.50 L280.22,655.50 L281.24,655.49 L282.25,655.49 L283.27,655.48 L284.28,655.48 L285.29,655.48 L286.31,655.47 L287.32,655.47 L288.34,655.46 L289.35,655.46 L290.36,655.46 L291.38,655.45 L292.39,655.45 L293.41,655.45 L294.42,655.45 L295.43,655.44 L296.45,655.44 L297.46,655.44 L298.47,655.43 L299.49,655.43 L300.50,655.43 L301.52,655.43 L302.53,655.43 L303.54,655.42 L304.56,655.42 L305.57,655.42 L306.59,655.42 L307.60,655.42 L307.60,670.92 L306.59,670.92 L305.57,670.92 L304.56,670.92 L303.54,670.92 L302.53,670.93 L301.52,670.93 L300.50,670.93 L299.49,670.93 L298.47,670.94 L297.46,670.94 L296.45,670.94 L295.43,670.94 L294.42,670.95 L293.41,670.95 L292.39,670.95 L291.38,670.96 L290.36,670.96 L289.35,670.96 L288.34,670.97 L287.32,670.97 L286.31,670.98 L285.29,670.98 L284.28,670.98 L283.27,670.99 L282.25,670.99 L281.24,671.00 L280.22,671.00 L279.21,671.00 L278.20,671.01 L277.18,671.01 L276.17,671.02 L275.16,671.02 L274.14,671.03 L273.13,671.03 L272.11,671.04 L271.10,671.04 L270.09,671.05 L269.07,671.05 L268.06,671.06 L267.04,671.06 L266.03,671.07 L265.02,671.07 L264.00,671.08 L262.99,671.08 L261.97,671.09 L260.96,671.10 L259.95,671.10 L258.93,671.11 L257.92,671.11 L256.91,671.12 L255.89,671.12 L254.88,671.13 L253.86,671.14 L252.85,671.14 L251.84,671.15 L250.82,671.15 L249.81,671.16 L248.79,671.17 L247.78,671.17 L246.77,671.18 L245.75,671.18 L244.74,671.19 L243.72,671.20 L242.71,671.20 L241.70,671.21 L240.68,671.22 L239.67,671.22 L238.65,671.23 L237.64,671.23 L236.63,671.24 L235.61,671.25 L234.60,671.25 L233.59,671.26 L232.57,671.27 L231.56,671.27 L230.54,671.28 L229.53,671.29 L228.52,671.29 L227.50,671.30 L226.49,671.31 L225.47,671.31 L224.46,671.32 L223.45,671.33 L222.43,671.33 L221.42,671.34 L220.40,671.35 L219.39,671.35 L218.38,671.36 L217.36,671.37 L216.35,671.38 L215.34,671.39 L214.32,671.39 L213.31,671.40 L212.29,671.41 L211.28,671.42 L210.27,671.43 L209.25,671.44 L208.24,671.45 L207.22,671.46 L206.21,671.47 L205.20,671.48 L204.18,671.49 L203.17,671.51 L202.15,671.52 L201.14,671.53 L200.13,671.55 L199.11,671.56 L198.10,671.57 L197.08,671.59 L196.07,671.60 L195.06,671.62 L194.04,671.64 L193.03,671.66 L192.02,671.68 L191.00,671.70 L189.99,671.73 L188.97,671.76 L187.96,671.79 L186.95,671.82 L185.93,671.85 L184.92,671.89 L183.90,671.93 L182.89,671.97 L181.88,672.02 L180.86,672.07 L179.85,672.12 L178.83,672.17 L177.82,672.23 L176.81,672.31 L175.79,672.40 L174.78,672.49 L173.77,672.60 L172.75,672.71 L171.74,672.83 L170.72,672.95 L169.71,673.07 L168.70,673.20 L167.68,673.33 L166.67,673.46 L165.65,673.59 L164.64,673.72 L163.63,673.86 L162.61,674.01 L161.60,674.17 L160.58,674.33 L159.57,674.50 L158.56,674.68 L157.54,674.88 L156.53,675.09 L155.52,675.31 L154.50,675.56 L153.49,675.84 L152.47,676.13 L151.46,676.45 L150.45,676.79 L149.43,677.15 L148.42,677.52 L147.40,677.91 L146.39,678.31 L145.38,678.77 L144.36,679.28 L143.35,679.80 L142.33,680.27 L141.32,680.72 L140.31,681.16 L139.29,681.63 L138.28,682.15 L137.26,682.73 L136.25,683.36 L135.24,684.04 L134.22,684.76 L133.21,685.53 L132.20,686.34 L131.18,687.19 L130.17,688.09 L129.15,689.08 L128.14,690.15 L127.13,691.28 L126.11,692.46 L125.10,693.68 L124.08,694.93 L123.07,696.24 L122.06,697.63 L121.04,699.07 L120.03,700.54 L119.01,702.04 L118.00,703.58 L116.99,705.17 L115.97,706.80 L114.96,708.44 L113.95,710.06 L112.93,711.64 L111.92,713.20 L110.90,714.75 L109.89,716.35 L108.88,718.03 L107.86,719.77 L106.85,721.58 L105.83,723.46 L104.82,725.41 L103.81,727.44 L102.79,729.52 L101.78,731.67 L100.76,733.90 L99.75,736.19 L98.74,738.55 L97.72,741.02 L96.71,743.62 L95.69,746.30 L94.68,749.05 L93.67,751.83 L92.65,754.60 L91.64,757.39 L90.63,760.26 L89.61,762.96 L88.60,765.54 L87.58,768.05 L86.57,770.28 L85.56,772.00 L84.54,773.34 L83.53,774.47 L82.51,775.49 L81.50,776.49 L80.49,777.59 L79.47,778.76 L78.46,779.88 L77.44,780.80 L76.43,781.38 L75.42,781.67 L74.40,781.92 L73.39,782.11 L72.38,782.25 L71.36,782.30 L70.35,782.30 L69.33,782.30 L68.32,782.30 L67.31,782.30 L66.29,782.30 L65.28,782.30 L64.26,782.30 L63.25,782.30 L62.24,782.30 L61.22,782.30 L60.21,782.30 L59.19,782.30 L58.18,782.30 L57.17,782.30 L56.15,782.30 L55.14,782.30 L54.13,782.30 L53.11,782.30 L52.10,782.30 L51.08,782.30 L50.07,782.30 L49.06,782.30 L48.04,782.30 L47.03,782.30 L46.01,782.30 L45.00,782.30 Z" fill="rgb(250,126,172)" fill-opacity="0.3" stroke="none"/>
<g fill="#62bb12"><circle cx="45.00" cy="782.30" r="1.9"/><circle cx="46.05" cy="782.30" r="1.9"/><circle cx="47.10" cy="782.30" r="1.9"/><circle cx="48.15" cy="782.30" r="1.9"/><circle cx="49.20" cy="782.30" r="1.9"/><circle cx="50.25" cy="782.30" r="1.9"/><circle cx="51.30" cy="782.30" r="1.9"/><circle cx="52.35" cy="782.30" r="1.9"/><circle cx="53.40" cy="782.30" r="1.9"/><circle cx="54.45" cy="782.30" r="1.9"/><circle cx="55.50" cy="782.30" r="1.9"/><circle cx="56.55" cy="782.30" r="1.9"/><circle cx="57.60" cy="782.30" r="1.9"/><circle cx="58.66" cy="782.30" r="1.9"/><circle cx="59.71" cy="782.30" r="1.9"/><circle cx="60.76" cy="782.30" r="1.9"/><circle cx="61.81" cy="782.30" r="1.9"/><circle cx="62.86" cy="782.30" r="1.9"/><circle cx="63.91" cy="782.30" r="1.9"/><circle cx="64.96" cy="782.30" r="1.9"/><circle cx="66.01" cy="782.30" r="1.9"/><circle cx="67.06" cy="782.30" r="1.9"/><circle cx="68.11" cy="782.27" r="1.9"/><circle cx="69.16" cy="782.01" r="1.9"/><circle cx="70.21" cy="781.91" r="1.9"/><circle cx="71.26" cy="781.81" r="1.9"/><circle cx="72.31" cy="781.27" r="1.9"/><circle cx="73.36" cy="780.14" r="1.9"/><circle cx="74.41" cy="779.97" r="1.9"/><circle cx="75.46" cy="779.04" r="1.9"/><circle cx="76.51" cy="776.61" r="1.9"/><circle cx="77.56" cy="775.48" r="1.9"/><circle cx="78.61" cy="775.36" r="1.9"/><circle cx="79.66" cy="773.97" r="1.9"/><circle cx="80.71" cy="771.51" r="1.9"/><circle cx="81.76" cy="770.59" r="1.9"/><circle cx="82.81" cy="770.03" r="1.9"/><circle cx="83.86" cy="765.97" r="1.9"/><circle cx="84.92" cy="761.56" r="1.9"/><circle cx="85.97" cy="760.94" r="1.9"/><circle cx="87.02" cy="758.96" r="1.9"/><circle cx="88.07" cy="753.09" r="1.9"/><circle cx="89.12" cy="749.64" r="1.9"/><circle cx="90.17" cy="749.34" r="1.9"/><circle cx="91.22" cy="745.93" r="1.9"/><circle cx="92.27" cy="740.32" r="1.9"/><circle cx="93.32" cy="738.42" r="1.9"/><circle cx="94.37" cy="737.82" r="1.9"/><circle cx="95.42" cy="733.69" r="1.9"/><circle cx="96.47" cy="729.51" r="1.9"/><circle cx="97.52" cy="728.79" r="1.9"/><circle cx="98.57" cy="727.50" r="1.9"/><circle cx="99.62" cy="723.24" r="1.9"/><circle cx="100.67" cy="720.46" r="1.9"/><circle cx="101.72" cy="720.22" r="1.9"/><circle cx="102.77" cy="718.16" r="1.9"/><circle cx="103.82" cy="714.37" r="1.9"/><circle cx="104.87" cy="712.86" r="1.9"/><circle cx="105.92" cy="712.57" r="1.9"/><circle cx="106.97" cy="710.02" r="1.9"/><circle cx="108.02" cy="707.03" r="1.9"/><circle cx="109.07" cy="706.36" r="1.9"/><circle cx="110.12" cy="705.62" r="1.9"/><circle cx="111.18" cy="702.46" r="1.9"/><circle cx="112.23" cy="699.96" r="1.9"/><circle cx="113.28" cy="699.71" r="1.9"/><circle cx="114.33" cy="698.22" r="1.9"/><circle cx="115.38" cy="695.02" r="1.9"/><circle cx="116.43" cy="693.50" r="1.9"/><circle cx="117.48" cy="693.31" r="1.9"/><circle cx="118.53" cy="691.25" r="1.9"/><circle cx="119.58" cy="688.58" r="1.9"/><circle cx="120.63" cy="687.90" r="1.9"/><circle cx="121.68" cy="687.46" r="1.9"/><circle cx="122.73" cy="685.22" r="1.9"/><circle cx="123.78" cy="683.36" r="1.9"/><circle cx="124.83" cy="683.14" r="1.9"/><circle cx="125.88" cy="682.32" r="1.9"/><circle cx="126.93" cy="680.36" r="1.9"/><circle cx="127.98" cy="679.36" r="1.9"/><circle cx="129.03" cy="679.27" r="1.9"/><circle cx="130.08" cy="678.23" r="1.9"/><circle cx="131.13" cy="676.71" r="1.9"/><circle cx="132.18" cy="676.25" r="1.9"/><circle cx="133.23" cy="676.06" r="1.9"/><circle cx="134.28" cy="674.93" r="1.9"/><circle cx="135.33" cy="673.90" r="1.9"/><circle cx="136.38" cy="673.75" r="1.9"/><circle cx="137.44" cy="673.40" r="1.9"/><circle cx="138.49" cy="672.35" r="1.9"/><circle cx="139.54" cy="671.66" r="1.9"/><circle cx="140.59" cy="671.61" r="1.9"/><circle cx="141.64" cy="671.03" r="1.9"/><circle cx="142.69" cy="670.10" r="1.9"/><circle cx="143.74" cy="669.75" r="1.9"/><circle cx="144.79" cy="669.67" r="1.9"/><circle cx="145.84" cy="668.99" r="1.9"/><circle cx="146.89" cy="668.25" r="1.9"/><circle cx="147.94" cy="668.11" r="1.9"/><circle cx="148.99" cy="667.92" r="1.9"/><circle cx="150.04" cy="667.28" r="1.9"/><circle cx="151.09" cy="666.88" r="1.9"/><circle cx="152.14" cy="666.84" r="1.9"/><circle cx="153.19" cy="666.62" r="1.9"/><circle cx="154.24" cy="666.20" r="1.9"/><circle cx="155.29" cy="666.03" r="1.9"/><circle cx="156.34" cy="666.01" r="1.9"/><circle cx="157.39" cy="665.76" r="1.9"/><circle cx="158.44" cy="665.47" r="1.9"/><circle cx="159.49" cy="665.40" r="1.9"/><circle cx="160.54" cy="665.34" r="1.9"/><circle cx="161.59" cy="665.08" r="1.9"/><circle cx="162.64" cy="664.86" r="1.9"/><circle cx="163.70" cy="664.83" r="1.9"/><circle cx="164.75" cy="664.71" r="1.9"/><circle cx="165.80" cy="664.42" r="1.9"/><circle cx="166.85" cy="664.28" r="1.9"/><circle cx="167.90" cy="664.26" r="1.9"/><circle cx="168.95" cy="664.09" r="1.9"/><circle cx="170.00" cy="663.83" r="1.9"/><circle cx="171.05" cy="663.76" r="1.9"/><circle cx="172.10" cy="663.72" r="1.9"/><circle cx="173.15" cy="663.51" r="1.9"/><circle cx="174.20" cy="663.32" r="1.9"/><circle cx="175.25" cy="663.29" r="1.9"/><circle cx="176.30" cy="663.22" r="1.9"/></g>
<path d="M71.79,781.76 L72.57,781.53 L73.36,781.28 L74.15,780.81 L74.94,780.10 L75.73,779.23 L76.52,778.28 L77.31,777.30 L78.09,776.37 L78.88,775.52 L79.67,774.69 L80.46,773.83 L81.25,772.90 L82.04,771.84 L82.83,770.60 L83.62,769.01 L84.40,767.13 L85.19,765.06 L85.98,762.91 L86.77,760.77 L87.56,758.47 L88.35,756.08 L89.14,753.74 L89.92,751.44 L90.71,749.13 L91.50,746.82 L92.29,744.53 L93.08,742.27 L93.87,740.07 L94.66,737.93 L95.45,735.87 L96.23,733.88 L97.02,731.95 L97.81,730.06 L98.60,728.22 L99.39,726.42 L100.18,724.67 L100.97,722.95 L101.75,721.28 L102.54,719.65 L103.33,718.07 L104.12,716.54 L104.91,715.05 L105.70,713.61 L106.49,712.20 L107.28,710.85 L108.06,709.54 L108.85,708.25 L109.64,706.96 L110.43,705.65 L111.22,704.31 L112.01,702.96 L112.80,701.60 L113.59,700.24 L114.37,698.90 L115.16,697.59 L115.95,696.32 L116.74,695.07 L117.53,693.84 L118.32,692.63 L119.11,691.45 L119.89,690.30 L120.68,689.19 L121.47,688.14 L122.26,687.11 L123.05,686.10 L123.84,685.12 L124.63,684.17 L125.42,683.25 L126.20,682.38 L126.99,681.57 L127.78,680.81 L128.57,680.09 L129.36,679.40 L130.15,678.73 L130.94,678.09 L131.72,677.48 L132.51,676.90 L133.30,676.35 L134.09,675.83 L134.88,675.33 L135.67,674.88 L136.46,674.47 L137.25,674.08 L138.03,673.72 L138.82,673.35 L139.61,672.97 L140.40,672.56 L141.19,672.13 L141.98,671.70 L142.77,671.30 L143.55,670.95 L144.34,670.62 L145.13,670.30 L145.92,669.98 L146.71,669.68 L147.50,669.38 L148.29,669.10 L149.08,668.83 L149.86,668.58 L150.65,668.34 L151.44,668.11 L152.23,667.91 L153.02,667.71 L153.81,667.54 L154.60,667.37 L155.39,667.21 L156.17,667.05 L156.96,666.91 L157.75,666.77 L158.54,666.63 L159.33,666.50 L160.12,666.38 L160.91,666.26 L161.69,666.15 L162.48,666.03 L163.27,665.92 L164.06,665.82 L164.85,665.71 L165.64,665.60 L166.43,665.50 L167.22,665.39 L168.00,665.29 L168.79,665.19 L169.58,665.09 L170.37,665.00 L171.16,664.91 L171.95,664.83 L172.74,664.75 L173.52,664.67 L174.31,664.61 L175.10,664.55 L175.89,664.50 L176.68,664.46 L177.47,664.42 L178.26,664.38 L179.05,664.34 L179.83,664.30 L180.62,664.27 L181.41,664.23 L182.20,664.20 L182.99,664.17 L183.78,664.14 L184.57,664.11 L185.35,664.09 L186.14,664.06 L186.93,664.04 L187.72,664.02 L188.51,664.00 L189.30,663.98 L190.09,663.96 L190.88,663.94 L191.66,663.93 L192.45,663.92 L193.24,663.90 L194.03,663.89 L194.82,663.88 L195.61,663.87 L196.40,663.85 L197.19,663.84 L197.97,663.83 L198.76,663.82 L199.55,663.81 L200.34,663.80 L201.13,663.79 L201.92,663.78 L202.71,663.77 L203.49,663.76 L204.28,663.75 L205.07,663.74 L205.86,663.74 L206.65,663.73 L207.44,663.72 L208.23,663.71 L209.02,663.70 L209.80,663.70 L210.59,663.69 L211.38,663.68 L212.17,663.68 L212.96,663.67 L213.75,663.66 L214.54,663.66 L215.32,663.65 L216.11,663.64 L216.90,663.64 L217.69,663.63 L218.48,663.62 L219.27,663.62 L220.06,663.61 L220.85,663.61 L221.63,663.60 L222.42,663.60 L223.21,663.59 L224.00,663.58 L224.79,663.58 L225.58,663.57 L226.37,663.57 L227.15,663.56 L227.94,663.56 L228.73,663.55 L229.52,663.55 L230.31,663.54 L231.10,663.54 L231.89,663.53 L232.68,663.53 L233.46,663.52 L234.25,663.52 L235.04,663.51 L235.83,663.50 L236.62,663.50 L237.41,663.49 L238.20,663.49 L238.98,663.48 L239.77,663.48 L240.56,663.47 L241.35,663.47 L242.14,663.46 L242.93,663.46 L243.72,663.45 L244.51,663.45 L245.29,663.44 L246.08,663.44 L246.87,663.43 L247.66,663.43 L248.45,663.42 L249.24,663.42 L250.03,663.41 L250.82,663.41 L251.60,663.40 L252.39,663.40 L253.18,663.39 L253.97,663.39 L254.76,663.38 L255.55,663.38 L256.34,663.37 L257.12,663.37 L257.91,663.36 L258.70,663.36 L259.49,663.35 L260.28,663.35 L261.07,663.35 L261.86,663.34 L262.65,663.34 L263.43,663.33 L264.22,663.33 L265.01,663.32 L265.80,663.32 L266.59,663.31 L267.38,663.31 L268.17,663.31 L268.95,663.30 L269.74,663.30 L270.53,663.29 L271.32,663.29 L272.11,663.29 L272.90,663.28 L273.69,663.28 L274.48,663.27 L275.26,663.27 L276.05,663.27 L276.84,663.26 L277.63,663.26 L278.42,663.26 L279.21,663.25 L280.00,663.25 L280.78,663.25 L281.57,663.24 L282.36,663.24 L283.15,663.24 L283.94,663.23 L284.73,663.23 L285.52,663.23 L286.31,663.22 L287.09,663.22 L287.88,663.22 L288.67,663.21 L289.46,663.21 L290.25,663.21 L291.04,663.21 L291.83,663.20 L292.62,663.20 L293.40,663.20 L294.19,663.20 L294.98,663.19 L295.77,663.19 L296.56,663.19 L297.35,663.19 L298.14,663.19 L298.92,663.18 L299.71,663.18 L300.50,663.18 L301.29,663.18 L302.08,663.18 L302.87,663.18 L303.66,663.17 L304.45,663.17 L305.23,663.17 L306.02,663.17 L306.81,663.17 L307.60,663.17" fill="none" stroke="#e04242" stroke-width="1.3" stroke-dasharray="3.1,3.1" stroke-linejoin="round"/>
<path d="M71.79,781.76 L72.57,781.53 L73.36,781.28 L74.15,780.81 L74.94,780.10 L75.73,779.23 L76.52,778.28 L77.31,777.30 L78.09,776.37 L78.88,775.52 L79.67,774.69 L80.46,773.83 L81.25,772.90 L82.04,771.84 L82.83,770.60 L83.62,769.01 L84.40,767.13 L85.19,765.06 L85.98,762.91 L86.77,760.77 L87.56,758.47 L88.35,756.08 L89.14,753.74 L89.92,751.44 L90.71,749.13 L91.50,746.82 L92.29,744.53 L93.08,742.27 L93.87,740.07 L94.66,737.93 L95.45,735.87 L96.23,733.88 L97.02,731.95 L97.81,730.06 L98.60,728.22 L99.39,726.42 L100.18,724.67 L100.97,722.95 L101.75,721.28 L102.54,719.65 L103.33,718.07 L104.12,716.54 L104.91,715.05 L105.70,713.61 L106.49,712.20 L107.28,710.85 L108.06,709.54 L108.85,708.25 L109.64,706.96 L110.43,705.65 L111.22,704.31 L112.01,702.96 L112.80,701.60 L113.59,700.24 L114.37,698.90 L115.16,697.59 L115.95,696.32 L116.74,695.07 L117.53,693.84 L118.32,692.63 L119.11,691.45 L119.89,690.30 L120.68,689.19 L121.47,688.14 L122.26,687.11 L123.05,686.11 L123.84,685.13 L124.63,684.18 L125.42,683.27 L126.20,682.40 L126.99,681.58 L127.78,680.81 L128.57,680.07 L129.36,679.37 L130.15,678.69 L130.94,678.05 L131.72,677.42 L132.51,676.82 L133.30,676.24 L134.09,675.69 L134.88,675.15 L135.67,674.65 L136.46,674.17 L137.25,673.71 L138.03,673.27 L138.82,672.84 L139.61,672.42 L140.40,671.99 L141.19,671.56 L141.98,671.14 L142.77,670.74 L143.55,670.38 L144.34,670.02 L145.13,669.66 L145.92,669.32 L146.71,668.97 L147.50,668.64 L148.29,668.32 L149.08,668.02 L149.86,667.73 L150.65,667.45 L151.44,667.20 L152.23,666.97 L153.02,666.77 L153.81,666.59 L154.60,666.42 L155.39,666.26 L156.17,666.11 L156.96,665.96 L157.75,665.83 L158.54,665.70 L159.33,665.57 L160.12,665.45 L160.91,665.34 L161.69,665.22 L162.48,665.11 L163.27,664.99 L164.06,664.87 L164.85,664.76 L165.64,664.64 L166.43,664.53 L167.22,664.42 L168.00,664.30 L168.79,664.20 L169.58,664.09 L170.37,663.98 L171.16,663.88 L171.95,663.78 L172.74,663.68 L173.52,663.58 L174.31,663.49 L175.10,663.40 L175.89,663.31 L176.68,663.21 L177.47,663.12 L178.26,663.03 L179.05,662.94 L179.83,662.85 L180.62,662.76 L181.41,662.67 L182.20,662.58 L182.99,662.49 L183.78,662.41 L184.57,662.32 L185.35,662.24 L186.14,662.16 L186.93,662.09 L187.72,662.01 L188.51,661.95 L189.30,661.88 L190.09,661.82 L190.88,661.76 L191.66,661.71 L192.45,661.66 L193.24,661.62 L194.03,661.58 L194.82,661.53 L195.61,661.49 L196.40,661.45 L197.19,661.41 L197.97,661.37 L198.76,661.33 L199.55,661.29 L200.34,661.25 L201.13,661.21 L201.92,661.18 L202.71,661.14 L203.49,661.10 L204.28,661.07 L205.07,661.03 L205.86,661.00 L206.65,660.96 L207.44,660.93 L208.23,660.90 L209.02,660.87 L209.80,660.84 L210.59,660.81 L211.38,660.78 L212.17,660.75 L212.96,660.72 L213.75,660.69 L214.54,660.67 L215.32,660.64 L216.11,660.62 L216.90,660.59 L217.69,660.57 L218.48,660.55 L219.27,660.53 L220.06,660.51 L220.85,660.49 L221.63,660.47 L222.42,660.45 L223.21,660.44 L224.00,660.42 L224.79,660.41 L225.58,660.39 L226.37,660.38 L227.15,660.37 L227.94,660.36 L228.73,660.35 L229.52,660.34 L230.31,660.33 L231.10,660.32 L231.89,660.32 L232.68,660.31 L233.46,660.30 L234.25,660.30 L235.04,660.29 L235.83,660.28 L236.62,660.28 L237.41,660.27 L238.20,660.26 L238.98,660.26 L239.77,660.25 L240.56,660.24 L241.35,660.24 L242.14,660.23 L242.93,660.22 L243.72,660.22 L244.51,660.21 L245.29,660.20 L246.08,660.20 L246.87,660.19 L247.66,660.19 L248.45,660.18 L249.24,660.17 L250.03,660.17 L250.82,660.16 L251.60,660.16 L252.39,660.15 L253.18,660.15 L253.97,660.14 L254.76,660.14 L255.55,660.13 L256.34,660.13 L257.12,660.12 L257.91,660.12 L258.70,660.11 L259.49,660.11 L260.28,660.10 L261.07,660.10 L261.86,660.09 L262.65,660.09 L263.43,660.08 L264.22,660.08 L265.01,660.07 L265.80,660.07 L266.59,660.07 L267.38,660.06 L268.17,660.06 L268.95,660.05 L269.74,660.05 L270.53,660.05 L271.32,660.04 L272.11,660.04 L272.90,660.04 L273.69,660.03 L274.48,660.03 L275.26,660.03 L276.05,660.02 L276.84,660.02 L277.63,660.02 L278.42,660.01 L279.21,660.01 L280.00,660.01 L280.78,660.00 L281.57,660.00 L282.36,660.00 L283.15,660.00 L283.94,659.99 L284.73,659.99 L285.52,659.99 L286.31,659.99 L287.09,659.99 L287.88,659.98 L288.67,659.98 L289.46,659.98 L290.25,659.98 L291.04,659.98 L291.83,659.97 L292.62,659.97 L293.40,659.97 L294.19,659.97 L294.98,659.97 L295.77,659.97 L296.56,659.97 L297.35,659.96 L298.14,659.96 L298.92,659.96 L299.71,659.96 L300.50,659.96 L301.29,659.96 L302.08,659.96 L302.87,659.96 L303.66,659.96 L304.45,659.96 L305.23,659.96 L306.02,659.96 L306.81,659.96 L307.60,659.96" fill="none" stroke="#5050b4" stroke-width="1.2" stroke-linejoin="round"/>
<text x="45.00" y="799.70" font-size="15.5" text-anchor="middle">0</text>
<text x="97.52" y="799.70" font-size="15.5" text-anchor="middle">50</text>
<text x="150.04" y="799.70" font-size="15.5" text-anchor="middle">100</text>
<text x="202.56" y="799.70" font-size="15.5" text-anchor="middle">150</text>
<text x="255.08" y="799.70" font-size="15.5" text-anchor="middle">200</text>
<text x="307.60" y="799.70" font-size="15.5" text-anchor="middle">250</text>
<text x="41.00" y="785.80" font-size="15.5" text-anchor="end">0</text>
<text x="41.00" y="748.04" font-size="15.5" text-anchor="end">0.2</text>
<text x="41.00" y="710.28" font-size="15.5" text-anchor="end">0.4</text>
<text x="41.00" y="672.52" font-size="15.5" text-anchor="end">0.6</text>
<text x="41.00" y="634.76" font-size="15.5" text-anchor="end">0.8</text>
<text x="41.00" y="597.00" font-size="15.5" text-anchor="end">1</text>
<text transform="translate(176.70,586.10) scale(1,0.92)" font-size="17.5" text-anchor="middle">Spain</text>
<text transform="translate(177.50,820.10) scale(1,0.92)" font-size="17.8" text-anchor="middle">Time (in days)</text>
<text transform="translate(13.30,688.90) rotate(-90) scale(1,0.92)" font-size="17.8" text-anchor="middle">Detected (in % population)</text>
<rect x="208.40" y="705.40" width="97.60" height="74.70" fill="#fff" stroke="#6b6b6b" stroke-width="1"/>
<circle cx="222.60" cy="713.80" r="1.9" fill="#62bb12"/>
<text x="236.90" y="718.40" font-size="14.1">Data</text>
<path d="M210.60,728.60 H232.40" stroke="#ec5a5a" stroke-width="1.1" stroke-dasharray="3.3,2.8"/>
<text x="236.90" y="732.50" font-size="14.1"><tspan font-style="italic">h</tspan><tspan font-style="italic" font-size="9.6" dy="1.8">m</tspan><tspan dy="-1.8" dx="0.6">(</tspan><tspan font-style="italic">t</tspan>)</text>
<rect x="210.60" y="737.70" width="24.50" height="11.4" fill="#fde0e4"/>
<text x="236.90" y="748.00" font-size="14.1">2% par. var.</text>
<path d="M210.60,758.20 H235.10" stroke="#5c5cc0" stroke-width="1.2"/>
<text x="236.90" y="762.40" font-size="14.1"><tspan font-style="italic">h</tspan>(<tspan font-style="italic">t</tspan>)</text>
<rect x="210.60" y="767.30" width="24.50" height="11.4" fill="#e6f2fb"/>
<text x="236.90" y="777.60" font-size="14.1">2% par. var.</text>
<path d="M425.80,593.40 V782.30 M436.20,593.40 V782.30 M446.60,593.40 V782.30 M457.00,593.40 V782.30 M477.80,593.40 V782.30 M488.20,593.40 V782.30 M498.60,593.40 V782.30 M509.00,593.40 V782.30 M529.80,593.40 V782.30 M540.20,593.40 V782.30 M550.60,593.40 V782.30 M561.00,593.40 V782.30 M581.80,593.40 V782.30 M592.20,593.40 V782.30 M602.60,593.40 V782.30 M613.00,593.40 V782.30 M633.80,593.40 V782.30 M644.20,593.40 V782.30 M654.60,593.40 V782.30 M665.00,593.40 V782.30 M415.40,772.85 H675.40 M415.40,763.41 H675.40 M415.40,753.96 H675.40 M415.40,735.07 H675.40 M415.40,725.63 H675.40 M415.40,716.18 H675.40 M415.40,697.29 H675.40 M415.40,687.85 H675.40 M415.40,678.40 H675.40 M415.40,659.51 H675.40 M415.40,650.07 H675.40 M415.40,640.62 H675.40 M415.40,621.74 H675.40 M415.40,612.29 H675.40 M415.40,602.85 H675.40" stroke="#e9e9e9" stroke-width="0.9" stroke-dasharray="1.2,1.35" fill="none"/>
<path d="M467.50,593.40 V782.30 M519.50,593.40 V782.30 M571.50,593.40 V782.30 M623.50,593.40 V782.30 M415.40,744.50 H675.40 M415.40,706.50 H675.40 M415.40,668.50 H675.40 M415.40,631.50 H675.40" stroke="#f2f2f2" stroke-width="1" fill="none"/>
<path d="M467.40,782.30 v-2.6 M467.40,593.40 v2.6 M519.40,782.30 v-2.6 M519.40,593.40 v2.6 M571.40,782.30 v-2.6 M571.40,593.40 v2.6 M623.40,782.30 v-2.6 M623.40,593.40 v2.6 M415.40,744.52 h2.6 M675.40,744.52 h-2.6 M415.40,706.74 h2.6 M675.40,706.74 h-2.6 M415.40,668.96 h2.6 M675.40,668.96 h-2.6 M415.40,631.18 h2.6 M675.40,631.18 h-2.6" stroke="#777" stroke-width="1" fill="none"/>
<rect x="415.40" y="593.40" width="260.00" height="188.90" fill="none" stroke="#808080" stroke-width="1"/>
<path d="M444.00,782.30 L444.89,782.16 L445.79,782.01 L446.68,781.85 L447.57,781.69 L448.47,781.51 L449.36,781.33 L450.25,781.14 L451.15,780.94 L452.04,780.73 L452.93,780.51 L453.83,780.27 L454.72,780.02 L455.61,779.76 L456.51,779.48 L457.40,779.20 L458.29,778.91 L459.19,778.61 L460.08,778.31 L460.98,778.00 L461.87,777.70 L462.76,777.39 L463.66,777.08 L464.55,776.78 L465.44,776.48 L466.34,776.18 L467.23,775.90 L468.12,775.61 L469.02,775.31 L469.91,774.99 L470.80,774.67 L471.70,774.35 L472.59,774.03 L473.48,773.72 L474.38,773.41 L475.27,773.12 L476.16,772.85 L477.06,772.60 L477.95,772.38 L478.84,772.19 L479.74,772.04 L480.63,771.89 L481.52,771.75 L482.42,771.61 L483.31,771.48 L484.20,771.35 L485.10,771.23 L485.99,771.11 L486.88,771.00 L487.78,770.89 L488.67,770.78 L489.57,770.69 L490.46,770.59 L491.35,770.50 L492.25,770.41 L493.14,770.33 L494.03,770.25 L494.93,770.18 L495.82,770.11 L496.71,770.04 L497.61,769.98 L498.50,769.92 L499.39,769.87 L500.29,769.81 L501.18,769.76 L502.07,769.72 L502.97,769.67 L503.86,769.62 L504.75,769.58 L505.65,769.54 L506.54,769.50 L507.43,769.46 L508.33,769.42 L509.22,769.39 L510.11,769.35 L511.01,769.32 L511.90,769.29 L512.79,769.26 L513.69,769.23 L514.58,769.20 L515.47,769.18 L516.37,769.15 L517.26,769.13 L518.16,769.11 L519.05,769.08 L519.94,769.07 L520.84,769.05 L521.73,769.03 L522.62,769.01 L523.52,768.99 L524.41,768.97 L525.30,768.95 L526.20,768.94 L527.09,768.92 L527.98,768.90 L528.88,768.88 L529.77,768.87 L530.66,768.85 L531.56,768.84 L532.45,768.82 L533.34,768.81 L534.24,768.80 L535.13,768.79 L536.02,768.77 L536.92,768.76 L537.81,768.75 L538.70,768.74 L539.60,768.73 L540.49,768.73 L541.38,768.72 L542.28,768.71 L543.17,768.71 L544.06,768.70 L544.96,768.70 L545.85,768.70 L546.75,768.69 L547.64,768.69 L548.53,768.69 L549.43,768.69 L550.32,768.68 L551.21,768.68 L552.11,768.68 L553.00,768.67 L553.89,768.67 L554.79,768.67 L555.68,768.67 L556.57,768.66 L557.47,768.66 L558.36,768.66 L559.25,768.66 L560.15,768.65 L561.04,768.65 L561.93,768.65 L562.83,768.65 L563.72,768.64 L564.61,768.64 L565.51,768.64 L566.40,768.64 L567.29,768.63 L568.19,768.63 L569.08,768.63 L569.97,768.63 L570.87,768.63 L571.76,768.62 L572.65,768.62 L573.55,768.62 L574.44,768.62 L575.34,768.62 L576.23,768.61 L577.12,768.61 L578.02,768.61 L578.91,768.61 L579.80,768.61 L580.70,768.60 L581.59,768.60 L582.48,768.60 L583.38,768.60 L584.27,768.60 L585.16,768.59 L586.06,768.59 L586.95,768.59 L587.84,768.59 L588.74,768.59 L589.63,768.59 L590.52,768.58 L591.42,768.58 L592.31,768.58 L593.20,768.58 L594.10,768.58 L594.99,768.58 L595.88,768.57 L596.78,768.57 L597.67,768.57 L598.56,768.57 L599.46,768.57 L600.35,768.57 L601.24,768.57 L602.14,768.56 L603.03,768.56 L603.93,768.56 L604.82,768.56 L605.71,768.56 L606.61,768.56 L607.50,768.56 L608.39,768.55 L609.29,768.55 L610.18,768.55 L611.07,768.55 L611.97,768.55 L612.86,768.55 L613.75,768.55 L614.65,768.55 L615.54,768.55 L616.43,768.54 L617.33,768.54 L618.22,768.54 L619.11,768.54 L620.01,768.54 L620.90,768.54 L621.79,768.54 L622.69,768.54 L623.58,768.54 L624.47,768.54 L625.37,768.53 L626.26,768.53 L627.15,768.53 L628.05,768.53 L628.94,768.53 L629.83,768.53 L630.73,768.53 L631.62,768.53 L632.52,768.53 L633.41,768.53 L634.30,768.53 L635.20,768.53 L636.09,768.52 L636.98,768.52 L637.88,768.52 L638.77,768.52 L639.66,768.52 L640.56,768.52 L641.45,768.52 L642.34,768.52 L643.24,768.52 L644.13,768.52 L645.02,768.52 L645.92,768.52 L646.81,768.52 L647.70,768.52 L648.60,768.52 L649.49,768.52 L650.38,768.52 L651.28,768.52 L652.17,768.52 L653.06,768.51 L653.96,768.51 L654.85,768.51 L655.74,768.51 L656.64,768.51 L657.53,768.51 L658.42,768.51 L659.32,768.51 L660.21,768.51 L661.11,768.51 L662.00,768.51 L662.89,768.51 L663.79,768.51 L664.68,768.51 L665.57,768.51 L666.47,768.51 L667.36,768.51 L668.25,768.51 L669.15,768.51 L670.04,768.51 L670.93,768.51 L671.83,768.51 L672.72,768.51 L673.61,768.51 L674.51,768.51 L675.40,768.51 L675.40,776.26 L674.51,776.26 L673.61,776.26 L672.72,776.26 L671.83,776.26 L670.93,776.26 L670.04,776.26 L669.15,776.26 L668.25,776.26 L667.36,776.26 L666.47,776.26 L665.57,776.26 L664.68,776.26 L663.79,776.26 L662.89,776.26 L662.00,776.26 L661.11,776.26 L660.21,776.26 L659.32,776.26 L658.42,776.26 L657.53,776.26 L656.64,776.26 L655.74,776.26 L654.85,776.26 L653.96,776.26 L653.06,776.26 L652.17,776.26 L651.28,776.26 L650.38,776.26 L649.49,776.26 L648.60,776.26 L647.70,776.26 L646.81,776.26 L645.92,776.26 L645.02,776.26 L644.13,776.26 L643.24,776.26 L642.34,776.26 L641.45,776.26 L640.56,776.26 L639.66,776.26 L638.77,776.26 L637.88,776.26 L636.98,776.26 L636.09,776.26 L635.20,776.26 L634.30,776.26 L633.41,776.26 L632.52,776.26 L631.62,776.27 L630.73,776.27 L629.83,776.27 L628.94,776.27 L628.05,776.27 L627.15,776.27 L626.26,776.27 L625.37,776.27 L624.47,776.27 L623.58,776.27 L622.69,776.27 L621.79,776.27 L620.90,776.27 L620.01,776.27 L619.11,776.27 L618.22,776.27 L617.33,776.27 L616.43,776.27 L615.54,776.28 L614.65,776.28 L613.75,776.28 L612.86,776.28 L611.97,776.28 L611.07,776.28 L610.18,776.28 L609.29,776.28 L608.39,776.28 L607.50,776.28 L606.61,776.28 L605.71,776.28 L604.82,776.28 L603.93,776.29 L603.03,776.29 L602.14,776.29 L601.24,776.29 L600.35,776.29 L599.46,776.29 L598.56,776.29 L597.67,776.29 L596.78,776.29 L595.88,776.29 L594.99,776.29 L594.10,776.30 L593.20,776.30 L592.31,776.30 L591.42,776.30 L590.52,776.30 L589.63,776.30 L588.74,776.30 L587.84,776.30 L586.95,776.30 L586.06,776.31 L585.16,776.31 L584.27,776.31 L583.38,776.31 L582.48,776.31 L581.59,776.31 L580.70,776.31 L579.80,776.31 L578.91,776.32 L578.02,776.32 L577.12,776.32 L576.23,776.32 L575.34,776.32 L574.44,776.32 L573.55,776.32 L572.65,776.32 L571.76,776.33 L570.87,776.33 L569.97,776.33 L569.08,776.33 L568.19,776.33 L567.29,776.33 L566.40,776.34 L565.51,776.34 L564.61,776.34 L563.72,776.34 L562.83,776.34 L561.93,776.34 L561.04,776.34 L560.15,776.35 L559.25,776.35 L558.36,776.35 L557.47,776.35 L556.57,776.35 L555.68,776.36 L554.79,776.36 L553.89,776.36 L553.00,776.36 L552.11,776.36 L551.21,776.36 L550.32,776.37 L549.43,776.37 L548.53,776.37 L547.64,776.37 L546.75,776.37 L545.85,776.38 L544.96,776.38 L544.06,776.38 L543.17,776.38 L542.28,776.38 L541.38,776.39 L540.49,776.39 L539.60,776.39 L538.70,776.39 L537.81,776.39 L536.92,776.40 L536.02,776.40 L535.13,776.40 L534.24,776.40 L533.34,776.41 L532.45,776.41 L531.56,776.41 L530.66,776.41 L529.77,776.41 L528.88,776.42 L527.98,776.42 L527.09,776.42 L526.20,776.42 L525.30,776.43 L524.41,776.43 L523.52,776.43 L522.62,776.43 L521.73,776.44 L520.84,776.44 L519.94,776.44 L519.05,776.45 L518.16,776.45 L517.26,776.46 L516.37,776.46 L515.47,776.47 L514.58,776.48 L513.69,776.50 L512.79,776.51 L511.90,776.52 L511.01,776.54 L510.11,776.56 L509.22,776.58 L508.33,776.60 L507.43,776.62 L506.54,776.64 L505.65,776.66 L504.75,776.69 L503.86,776.71 L502.97,776.73 L502.07,776.76 L501.18,776.79 L500.29,776.81 L499.39,776.84 L498.50,776.87 L497.61,776.90 L496.71,776.94 L495.82,776.98 L494.93,777.02 L494.03,777.06 L493.14,777.11 L492.25,777.16 L491.35,777.21 L490.46,777.26 L489.57,777.32 L488.67,777.38 L487.78,777.44 L486.88,777.51 L485.99,777.57 L485.10,777.64 L484.20,777.72 L483.31,777.79 L482.42,777.87 L481.52,777.95 L480.63,778.03 L479.74,778.11 L478.84,778.20 L477.95,778.30 L477.06,778.41 L476.16,778.53 L475.27,778.67 L474.38,778.81 L473.48,778.96 L472.59,779.11 L471.70,779.27 L470.80,779.43 L469.91,779.59 L469.02,779.75 L468.12,779.91 L467.23,780.06 L466.34,780.23 L465.44,780.41 L464.55,780.61 L463.66,780.81 L462.76,781.01 L461.87,781.20 L460.98,781.39 L460.08,781.55 L459.19,781.70 L458.29,781.81 L457.40,781.90 L456.51,781.95 L455.61,781.99 L454.72,782.03 L453.83,782.07 L452.93,782.11 L452.04,782.14 L451.15,782.17 L450.25,782.20 L449.36,782.23 L448.47,782.25 L447.57,782.27 L446.68,782.28 L445.79,782.29 L444.89,782.30 L444.00,782.30 Z" fill="rgb(60,160,230)" fill-opacity="0.13" stroke="none"/>
<path d="M443.27,758.53 L444.17,756.70 L445.06,754.86 L445.96,752.87 L446.86,750.75 L447.75,748.64 L448.65,746.55 L449.55,744.48 L450.44,742.42 L451.34,740.35 L452.23,738.22 L453.13,735.99 L454.03,733.63 L454.92,731.15 L455.82,728.55 L456.72,725.86 L457.61,723.09 L458.51,720.54 L459.40,718.03 L460.30,715.40 L461.20,712.69 L462.09,709.93 L462.99,707.16 L463.89,704.42 L464.78,701.74 L465.68,699.15 L466.57,696.63 L467.47,694.15 L468.37,691.67 L469.26,689.15 L470.16,686.57 L471.06,683.89 L471.95,681.16 L472.85,678.43 L473.74,675.77 L474.64,673.13 L475.54,670.53 L476.43,668.10 L477.33,665.90 L478.23,663.82 L479.12,661.83 L480.02,659.92 L480.91,658.06 L481.81,656.22 L482.71,654.38 L483.60,652.53 L484.50,650.72 L485.40,649.03 L486.29,647.51 L487.19,646.17 L488.08,644.93 L488.98,643.71 L489.88,642.42 L490.77,641.04 L491.67,639.60 L492.57,638.14 L493.46,636.68 L494.36,635.27 L495.25,633.93 L496.15,632.70 L497.05,631.60 L497.94,630.56 L498.84,629.56 L499.74,628.59 L500.63,627.65 L501.53,626.76 L502.42,625.90 L503.32,625.10 L504.22,624.33 L505.11,623.62 L506.01,622.95 L506.91,622.34 L507.80,621.78 L508.70,621.24 L509.59,620.72 L510.49,620.24 L511.39,619.77 L512.28,619.33 L513.18,618.91 L514.08,618.52 L514.97,618.14 L515.87,617.79 L516.76,617.45 L517.66,617.13 L518.56,616.82 L519.45,616.52 L520.35,616.24 L521.25,615.96 L522.14,615.70 L523.04,615.44 L523.93,615.20 L524.83,614.97 L525.73,614.75 L526.62,614.53 L527.52,614.33 L528.42,614.14 L529.31,613.95 L530.21,613.77 L531.10,613.60 L532.00,613.42 L532.90,613.26 L533.79,613.09 L534.69,612.93 L535.59,612.78 L536.48,612.63 L537.38,612.49 L538.27,612.35 L539.17,612.23 L540.07,612.11 L540.96,612.00 L541.86,611.89 L542.76,611.80 L543.65,611.71 L544.55,611.63 L545.44,611.56 L546.34,611.48 L547.24,611.41 L548.13,611.34 L549.03,611.27 L549.93,611.21 L550.82,611.14 L551.72,611.08 L552.61,611.03 L553.51,610.97 L554.41,610.91 L555.30,610.86 L556.20,610.81 L557.10,610.76 L557.99,610.72 L558.89,610.67 L559.78,610.63 L560.68,610.58 L561.58,610.54 L562.47,610.50 L563.37,610.46 L564.27,610.43 L565.16,610.39 L566.06,610.35 L566.95,610.32 L567.85,610.28 L568.75,610.24 L569.64,610.21 L570.54,610.17 L571.44,610.14 L572.33,610.11 L573.23,610.08 L574.12,610.06 L575.02,610.04 L575.92,610.02 L576.81,610.01 L577.71,610.00 L578.61,610.00 L579.50,609.99 L580.40,609.99 L581.29,609.98 L582.19,609.98 L583.09,609.97 L583.98,609.97 L584.88,609.97 L585.78,609.96 L586.67,609.96 L587.57,609.95 L588.46,609.95 L589.36,609.95 L590.26,609.94 L591.15,609.94 L592.05,609.94 L592.95,609.93 L593.84,609.93 L594.74,609.93 L595.63,609.92 L596.53,609.92 L597.43,609.92 L598.32,609.91 L599.22,609.91 L600.12,609.91 L601.01,609.91 L601.91,609.90 L602.80,609.90 L603.70,609.90 L604.60,609.89 L605.49,609.89 L606.39,609.89 L607.29,609.89 L608.18,609.88 L609.08,609.88 L609.97,609.88 L610.87,609.88 L611.77,609.87 L612.66,609.87 L613.56,609.87 L614.46,609.87 L615.35,609.87 L616.25,609.86 L617.14,609.86 L618.04,609.86 L618.94,609.86 L619.83,609.86 L620.73,609.85 L621.63,609.85 L622.52,609.85 L623.42,609.85 L624.31,609.85 L625.21,609.85 L626.11,609.84 L627.00,609.84 L627.90,609.84 L628.80,609.84 L629.69,609.84 L630.59,609.84 L631.48,609.83 L632.38,609.83 L633.28,609.83 L634.17,609.83 L635.07,609.83 L635.97,609.83 L636.86,609.83 L637.76,609.83 L638.65,609.83 L639.55,609.82 L640.45,609.82 L641.34,609.82 L642.24,609.82 L643.14,609.82 L644.03,609.82 L644.93,609.82 L645.82,609.82 L646.72,609.82 L647.62,609.82 L648.51,609.82 L649.41,609.81 L650.31,609.81 L651.20,609.81 L652.10,609.81 L652.99,609.81 L653.89,609.81 L654.79,609.81 L655.68,609.81 L656.58,609.81 L657.48,609.81 L658.37,609.81 L659.27,609.81 L660.16,609.81 L661.06,609.81 L661.96,609.81 L662.85,609.81 L663.75,609.81 L664.65,609.81 L665.54,609.81 L666.44,609.81 L667.33,609.81 L668.23,609.81 L669.13,609.81 L670.02,609.81 L670.92,609.81 L671.82,609.81 L672.71,609.81 L673.61,609.81 L674.50,609.81 L675.40,609.81 L675.40,615.91 L674.50,615.91 L673.61,615.91 L672.71,615.91 L671.82,615.91 L670.92,615.91 L670.02,615.91 L669.13,615.91 L668.23,615.91 L667.33,615.91 L666.44,615.91 L665.54,615.91 L664.65,615.91 L663.75,615.91 L662.85,615.91 L661.96,615.91 L661.06,615.91 L660.16,615.91 L659.27,615.91 L658.37,615.91 L657.48,615.91 L656.58,615.91 L655.68,615.91 L654.79,615.91 L653.89,615.91 L652.99,615.92 L652.10,615.92 L651.20,615.92 L650.31,615.92 L649.41,615.92 L648.51,615.92 L647.62,615.92 L646.72,615.92 L645.82,615.92 L644.93,615.92 L644.03,615.92 L643.14,615.92 L642.24,615.93 L641.34,615.93 L640.45,615.93 L639.55,615.93 L638.65,615.93 L637.76,615.93 L636.86,615.93 L635.97,615.93 L635.07,615.94 L634.17,615.94 L633.28,615.94 L632.38,615.94 L631.48,615.94 L630.59,615.94 L629.69,615.94 L628.80,615.95 L627.90,615.95 L627.00,615.95 L626.11,615.95 L625.21,615.95 L624.31,615.95 L623.42,615.96 L622.52,615.96 L621.63,615.96 L620.73,615.96 L619.83,615.96 L618.94,615.97 L618.04,615.97 L617.14,615.97 L616.25,615.97 L615.35,615.97 L614.46,615.98 L613.56,615.98 L612.66,615.98 L611.77,615.98 L610.87,615.99 L609.97,615.99 L609.08,615.99 L608.18,615.99 L607.29,616.00 L606.39,616.00 L605.49,616.00 L604.60,616.01 L603.70,616.01 L602.80,616.01 L601.91,616.01 L601.01,616.02 L600.12,616.02 L599.22,616.02 L598.32,616.03 L597.43,616.03 L596.53,616.03 L595.63,616.04 L594.74,616.04 L593.84,616.04 L592.95,616.05 L592.05,616.05 L591.15,616.05 L590.26,616.06 L589.36,616.06 L588.46,616.06 L587.57,616.07 L586.67,616.07 L585.78,616.08 L584.88,616.08 L583.98,616.08 L583.09,616.09 L582.19,616.09 L581.29,616.10 L580.40,616.11 L579.50,616.13 L578.61,616.15 L577.71,616.17 L576.81,616.20 L575.92,616.23 L575.02,616.26 L574.12,616.30 L573.23,616.33 L572.33,616.37 L571.44,616.40 L570.54,616.44 L569.64,616.47 L568.75,616.51 L567.85,616.54 L566.95,616.58 L566.06,616.62 L565.16,616.66 L564.27,616.70 L563.37,616.74 L562.47,616.79 L561.58,616.83 L560.68,616.88 L559.78,616.93 L558.89,616.98 L557.99,617.03 L557.10,617.09 L556.20,617.14 L555.30,617.20 L554.41,617.26 L553.51,617.33 L552.61,617.39 L551.72,617.46 L550.82,617.53 L549.93,617.60 L549.03,617.68 L548.13,617.75 L547.24,617.84 L546.34,617.93 L545.44,618.03 L544.55,618.14 L543.65,618.25 L542.76,618.38 L541.86,618.51 L540.96,618.65 L540.07,618.79 L539.17,618.94 L538.27,619.09 L537.38,619.25 L536.48,619.41 L535.59,619.58 L534.69,619.75 L533.79,619.93 L532.90,620.10 L532.00,620.29 L531.10,620.49 L530.21,620.69 L529.31,620.91 L528.42,621.13 L527.52,621.37 L526.62,621.62 L525.73,621.87 L524.83,622.14 L523.93,622.41 L523.04,622.70 L522.14,623.00 L521.25,623.31 L520.35,623.64 L519.45,623.98 L518.56,624.35 L517.66,624.73 L516.76,625.14 L515.87,625.56 L514.97,626.01 L514.08,626.49 L513.18,626.98 L512.28,627.51 L511.39,628.06 L510.49,628.65 L509.59,629.30 L508.70,629.99 L507.80,630.73 L506.91,631.52 L506.01,632.34 L505.11,633.21 L504.22,634.12 L503.32,635.06 L502.42,636.03 L501.53,637.03 L500.63,638.10 L499.74,639.30 L498.84,640.60 L497.94,641.98 L497.05,643.39 L496.15,644.80 L495.25,646.19 L494.36,647.51 L493.46,648.74 L492.57,649.91 L491.67,651.10 L490.77,652.41 L489.88,653.90 L488.98,655.55 L488.08,657.30 L487.19,659.09 L486.29,660.87 L485.40,662.64 L484.50,664.44 L483.60,666.29 L482.71,668.21 L481.81,670.22 L480.91,672.36 L480.02,674.73 L479.12,677.25 L478.23,679.81 L477.33,682.38 L476.43,685.02 L475.54,687.66 L474.64,690.23 L473.74,692.71 L472.85,695.13 L471.95,697.52 L471.06,699.92 L470.16,702.35 L469.26,704.85 L468.37,707.45 L467.47,710.10 L466.57,712.78 L465.68,715.44 L464.78,718.05 L463.89,720.57 L462.99,722.98 L462.09,725.35 L461.20,727.68 L460.30,729.96 L459.40,732.16 L458.51,734.29 L457.61,736.25 L456.72,737.86 L455.82,739.41 L454.92,740.91 L454.03,742.37 L453.13,743.82 L452.23,745.26 L451.34,746.72 L450.44,748.18 L449.55,749.64 L448.65,751.12 L447.75,752.60 L446.86,754.09 L445.96,755.58 L445.06,757.04 L444.17,758.54 L443.27,760.04 Z" fill="rgb(248,150,165)" fill-opacity="0.3" stroke="none"/>
<path d="M444.00,782.30 L444.77,782.20 L445.55,782.09 L446.32,781.97 L447.10,781.85 L447.87,781.73 L448.64,781.61 L449.42,781.48 L450.19,781.34 L450.97,781.21 L451.74,781.06 L452.51,780.92 L453.29,780.77 L454.06,780.62 L454.83,780.47 L455.61,780.31 L456.38,780.14 L457.16,779.96 L457.93,779.78 L458.70,779.58 L459.48,779.38 L460.25,779.18 L461.03,778.97 L461.80,778.76 L462.57,778.55 L463.35,778.35 L464.12,778.15 L464.90,777.95 L465.67,777.76 L466.44,777.58 L467.22,777.41 L467.99,777.24 L468.77,777.07 L469.54,776.90 L470.31,776.73 L471.09,776.57 L471.86,776.40 L472.63,776.24 L473.41,776.08 L474.18,775.93 L474.96,775.78 L475.73,775.65 L476.50,775.51 L477.28,775.39 L478.05,775.28 L478.83,775.18 L479.60,775.10 L480.37,775.01 L481.15,774.93 L481.92,774.86 L482.70,774.78 L483.47,774.71 L484.24,774.64 L485.02,774.57 L485.79,774.51 L486.57,774.44 L487.34,774.38 L488.11,774.32 L488.89,774.27 L489.66,774.21 L490.43,774.16 L491.21,774.11 L491.98,774.06 L492.76,774.01 L493.53,773.96 L494.30,773.92 L495.08,773.87 L495.85,773.83 L496.63,773.78 L497.40,773.74 L498.17,773.70 L498.95,773.66 L499.72,773.62 L500.50,773.58 L501.27,773.55 L502.04,773.51 L502.82,773.47 L503.59,773.43 L504.37,773.40 L505.14,773.36 L505.91,773.33 L506.69,773.29 L507.46,773.26 L508.23,773.23 L509.01,773.20 L509.78,773.16 L510.56,773.13 L511.33,773.11 L512.10,773.08 L512.88,773.05 L513.65,773.02 L514.43,773.00 L515.20,772.97 L515.97,772.95 L516.75,772.93 L517.52,772.91 L518.30,772.89 L519.07,772.87 L519.84,772.85 L520.62,772.84 L521.39,772.82 L522.17,772.80 L522.94,772.78 L523.71,772.77 L524.49,772.75 L525.26,772.73 L526.03,772.72 L526.81,772.70 L527.58,772.69 L528.36,772.67 L529.13,772.66 L529.90,772.64 L530.68,772.63 L531.45,772.61 L532.23,772.60 L533.00,772.59 L533.77,772.57 L534.55,772.56 L535.32,772.55 L536.10,772.54 L536.87,772.53 L537.64,772.52 L538.42,772.51 L539.19,772.51 L539.97,772.50 L540.74,772.49 L541.51,772.49 L542.29,772.48 L543.06,772.48 L543.83,772.48 L544.61,772.48 L545.38,772.48 L546.16,772.48 L546.93,772.48 L547.70,772.48 L548.48,772.48 L549.25,772.48 L550.03,772.48 L550.80,772.48 L551.57,772.48 L552.35,772.48 L553.12,772.48 L553.90,772.48 L554.67,772.48 L555.44,772.48 L556.22,772.48 L556.99,772.48 L557.77,772.48 L558.54,772.48 L559.31,772.48 L560.09,772.48 L560.86,772.48 L561.63,772.48 L562.41,772.48 L563.18,772.48 L563.96,772.48 L564.73,772.48 L565.50,772.48 L566.28,772.48 L567.05,772.48 L567.83,772.48 L568.60,772.48 L569.37,772.48 L570.15,772.48 L570.92,772.48 L571.70,772.48 L572.47,772.48 L573.24,772.48 L574.02,772.48 L574.79,772.48 L575.57,772.48 L576.34,772.48 L577.11,772.48 L577.89,772.48 L578.66,772.48 L579.43,772.48 L580.21,772.48 L580.98,772.48 L581.76,772.48 L582.53,772.48 L583.30,772.48 L584.08,772.48 L584.85,772.48 L585.63,772.48 L586.40,772.48 L587.17,772.48 L587.95,772.48 L588.72,772.48 L589.50,772.48 L590.27,772.48 L591.04,772.48 L591.82,772.48 L592.59,772.48 L593.37,772.48 L594.14,772.48 L594.91,772.48 L595.69,772.48 L596.46,772.48 L597.23,772.48 L598.01,772.48 L598.78,772.48 L599.56,772.48 L600.33,772.48 L601.10,772.48 L601.88,772.48 L602.65,772.48 L603.43,772.48 L604.20,772.48 L604.97,772.48 L605.75,772.48 L606.52,772.48 L607.30,772.48 L608.07,772.48 L608.84,772.48 L609.62,772.48 L610.39,772.48 L611.17,772.48 L611.94,772.48 L612.71,772.48 L613.49,772.48 L614.26,772.48 L615.03,772.48 L615.81,772.48 L616.58,772.48 L617.36,772.48 L618.13,772.48 L618.90,772.48 L619.68,772.48 L620.45,772.48 L621.23,772.48 L622.00,772.48 L622.77,772.48 L623.55,772.48 L624.32,772.48 L625.10,772.48 L625.87,772.48 L626.64,772.48 L627.42,772.48 L628.19,772.48 L628.97,772.48 L629.74,772.48 L630.51,772.48 L631.29,772.48 L632.06,772.48 L632.83,772.48 L633.61,772.48 L634.38,772.48 L635.16,772.48 L635.93,772.48 L636.70,772.48 L637.48,772.48 L638.25,772.48 L639.03,772.48 L639.80,772.48 L640.57,772.48 L641.35,772.48 L642.12,772.48 L642.90,772.48 L643.67,772.48 L644.44,772.48 L645.22,772.48 L645.99,772.48 L646.77,772.48 L647.54,772.48 L648.31,772.48 L649.09,772.48 L649.86,772.48 L650.63,772.48 L651.41,772.48 L652.18,772.48 L652.96,772.48 L653.73,772.48 L654.50,772.48 L655.28,772.48 L656.05,772.48 L656.83,772.48 L657.60,772.48 L658.37,772.48 L659.15,772.48 L659.92,772.48 L660.70,772.48 L661.47,772.48 L662.24,772.48 L663.02,772.48 L663.79,772.48 L664.57,772.48 L665.34,772.48 L666.11,772.48 L666.89,772.48 L667.66,772.48 L668.43,772.48 L669.21,772.48 L669.98,772.48 L670.76,772.48 L671.53,772.48 L672.30,772.48 L673.08,772.48 L673.85,772.48 L674.63,772.48 L675.40,772.48" fill="none" stroke="#5050b4" stroke-width="1.2" stroke-linejoin="round"/>
<path d="M443.27,759.63 L444.05,758.07 L444.82,756.51 L445.60,754.94 L446.38,753.38 L447.15,751.82 L447.93,750.26 L448.71,748.70 L449.48,747.15 L450.26,745.63 L451.04,744.13 L451.81,742.63 L452.59,741.12 L453.36,739.57 L454.14,737.97 L454.92,736.30 L455.69,734.54 L456.47,732.71 L457.25,730.82 L458.02,728.86 L458.80,726.85 L459.58,724.81 L460.35,722.72 L461.13,720.62 L461.90,718.45 L462.68,716.20 L463.46,713.89 L464.23,711.54 L465.01,709.18 L465.79,706.83 L466.56,704.52 L467.34,702.27 L468.12,700.09 L468.89,697.96 L469.67,695.84 L470.44,693.73 L471.22,691.60 L472.00,689.43 L472.77,687.20 L473.55,684.90 L474.33,682.57 L475.10,680.25 L475.88,677.98 L476.65,675.73 L477.43,673.49 L478.21,671.34 L478.98,669.36 L479.76,667.52 L480.54,665.76 L481.31,664.08 L482.09,662.45 L482.87,660.85 L483.64,659.29 L484.42,657.72 L485.19,656.15 L485.97,654.58 L486.75,653.05 L487.52,651.60 L488.30,650.27 L489.08,649.08 L489.85,647.99 L490.63,646.96 L491.41,645.91 L492.18,644.81 L492.96,643.64 L493.73,642.42 L494.51,641.18 L495.29,639.93 L496.06,638.70 L496.84,637.51 L497.62,636.38 L498.39,635.34 L499.17,634.40 L499.95,633.52 L500.72,632.65 L501.50,631.81 L502.27,631.00 L503.05,630.21 L503.83,629.46 L504.60,628.73 L505.38,628.04 L506.16,627.38 L506.93,626.75 L507.71,626.16 L508.49,625.61 L509.26,625.10 L510.04,624.62 L510.81,624.16 L511.59,623.72 L512.37,623.30 L513.14,622.89 L513.92,622.50 L514.70,622.13 L515.47,621.78 L516.25,621.44 L517.03,621.12 L517.80,620.81 L518.58,620.52 L519.35,620.24 L520.13,619.97 L520.91,619.71 L521.68,619.46 L522.46,619.21 L523.24,618.98 L524.01,618.75 L524.79,618.53 L525.56,618.32 L526.34,618.11 L527.12,617.92 L527.89,617.73 L528.67,617.55 L529.45,617.37 L530.22,617.20 L531.00,617.04 L531.78,616.89 L532.55,616.74 L533.33,616.59 L534.10,616.44 L534.88,616.29 L535.66,616.15 L536.43,616.01 L537.21,615.88 L537.99,615.75 L538.76,615.63 L539.54,615.50 L540.32,615.39 L541.09,615.28 L541.87,615.17 L542.64,615.07 L543.42,614.98 L544.20,614.90 L544.97,614.82 L545.75,614.74 L546.53,614.67 L547.30,614.61 L548.08,614.54 L548.86,614.48 L549.63,614.42 L550.41,614.36 L551.18,614.30 L551.96,614.25 L552.74,614.19 L553.51,614.14 L554.29,614.09 L555.07,614.04 L555.84,613.99 L556.62,613.95 L557.40,613.90 L558.17,613.86 L558.95,613.82 L559.72,613.78 L560.50,613.74 L561.28,613.70 L562.05,613.66 L562.83,613.62 L563.61,613.59 L564.38,613.55 L565.16,613.52 L565.93,613.49 L566.71,613.46 L567.49,613.43 L568.26,613.40 L569.04,613.36 L569.82,613.33 L570.59,613.30 L571.37,613.27 L572.15,613.24 L572.92,613.21 L573.70,613.18 L574.47,613.16 L575.25,613.13 L576.03,613.11 L576.80,613.09 L577.58,613.08 L578.36,613.06 L579.13,613.05 L579.91,613.05 L580.69,613.04 L581.46,613.04 L582.24,613.04 L583.01,613.03 L583.79,613.03 L584.57,613.02 L585.34,613.02 L586.12,613.02 L586.90,613.01 L587.67,613.01 L588.45,613.01 L589.23,613.00 L590.00,613.00 L590.78,613.00 L591.55,613.00 L592.33,612.99 L593.11,612.99 L593.88,612.99 L594.66,612.98 L595.44,612.98 L596.21,612.98 L596.99,612.97 L597.77,612.97 L598.54,612.97 L599.32,612.97 L600.09,612.96 L600.87,612.96 L601.65,612.96 L602.42,612.96 L603.20,612.95 L603.98,612.95 L604.75,612.95 L605.53,612.95 L606.31,612.94 L607.08,612.94 L607.86,612.94 L608.63,612.94 L609.41,612.94 L610.19,612.93 L610.96,612.93 L611.74,612.93 L612.52,612.93 L613.29,612.93 L614.07,612.92 L614.84,612.92 L615.62,612.92 L616.40,612.92 L617.17,612.92 L617.95,612.91 L618.73,612.91 L619.50,612.91 L620.28,612.91 L621.06,612.91 L621.83,612.91 L622.61,612.90 L623.38,612.90 L624.16,612.90 L624.94,612.90 L625.71,612.90 L626.49,612.90 L627.27,612.89 L628.04,612.89 L628.82,612.89 L629.60,612.89 L630.37,612.89 L631.15,612.89 L631.92,612.89 L632.70,612.89 L633.48,612.88 L634.25,612.88 L635.03,612.88 L635.81,612.88 L636.58,612.88 L637.36,612.88 L638.14,612.88 L638.91,612.88 L639.69,612.88 L640.46,612.88 L641.24,612.87 L642.02,612.87 L642.79,612.87 L643.57,612.87 L644.35,612.87 L645.12,612.87 L645.90,612.87 L646.68,612.87 L647.45,612.87 L648.23,612.87 L649.00,612.87 L649.78,612.87 L650.56,612.87 L651.33,612.86 L652.11,612.86 L652.89,612.86 L653.66,612.86 L654.44,612.86 L655.21,612.86 L655.99,612.86 L656.77,612.86 L657.54,612.86 L658.32,612.86 L659.10,612.86 L659.87,612.86 L660.65,612.86 L661.43,612.86 L662.20,612.86 L662.98,612.86 L663.75,612.86 L664.53,612.86 L665.31,612.86 L666.08,612.86 L666.86,612.86 L667.64,612.86 L668.41,612.86 L669.19,612.86 L669.97,612.86 L670.74,612.86 L671.52,612.86 L672.29,612.86 L673.07,612.86 L673.85,612.86 L674.62,612.86 L675.40,612.86" fill="none" stroke="#e04242" stroke-width="1.3" stroke-dasharray="3.1,3.1" stroke-linejoin="round"/>
<text x="415.40" y="799.70" font-size="15.5" text-anchor="middle">0</text>
<text x="467.40" y="799.70" font-size="15.5" text-anchor="middle">50</text>
<text x="519.40" y="799.70" font-size="15.5" text-anchor="middle">100</text>
<text x="571.40" y="799.70" font-size="15.5" text-anchor="middle">150</text>
<text x="623.40" y="799.70" font-size="15.5" text-anchor="middle">200</text>
<text x="675.40" y="799.70" font-size="15.5" text-anchor="middle">250</text>
<text x="411.40" y="785.80" font-size="15.5" text-anchor="end">0</text>
<text x="411.40" y="748.02" font-size="15.5" text-anchor="end">20</text>
<text x="411.40" y="710.24" font-size="15.5" text-anchor="end">40</text>
<text x="411.40" y="672.46" font-size="15.5" text-anchor="end">60</text>
<text x="411.40" y="634.68" font-size="15.5" text-anchor="end">80</text>
<text x="411.40" y="596.90" font-size="15.5" text-anchor="end">100</text>
<text transform="translate(545.80,586.00) scale(1,0.92)" font-size="17.5" text-anchor="middle">Spain</text>
<text transform="translate(546.60,820.10) scale(1,0.92)" font-size="17.8" text-anchor="middle">Time (in days)</text>
<text transform="translate(381.60,688.85) rotate(-90) scale(1,0.92)" font-size="17.8" text-anchor="middle">Infected (in % population)</text>
<rect x="572.50" y="659.50" width="96.90" height="60.90" fill="#fff" stroke="#6b6b6b" stroke-width="1"/>
<path d="M574.70,668.00 H596.50" stroke="#ec5a5a" stroke-width="1.1" stroke-dasharray="3.3,2.8"/>
<text x="601.00" y="671.90" font-size="14.1"><tspan font-style="italic">w</tspan><tspan font-style="italic" font-size="9.6" dy="1.8">m</tspan><tspan dy="-1.8" dx="0.6">(</tspan><tspan font-style="italic">t</tspan>)</text>
<rect x="574.70" y="677.15" width="24.50" height="11.4" fill="#fde0e4"/>
<text x="601.00" y="687.45" font-size="14.1">2% par. var.</text>
<path d="M574.70,697.70 H599.20" stroke="#5c5cc0" stroke-width="1.2"/>
<text x="601.00" y="701.90" font-size="14.1"><tspan font-style="italic">w</tspan>(<tspan font-style="italic">t</tspan>)</text>
<rect x="574.70" y="706.85" width="24.50" height="11.4" fill="#e6f2fb"/>
<text x="601.00" y="717.15" font-size="14.1">2% par. var.</text>
</svg></body></html>
